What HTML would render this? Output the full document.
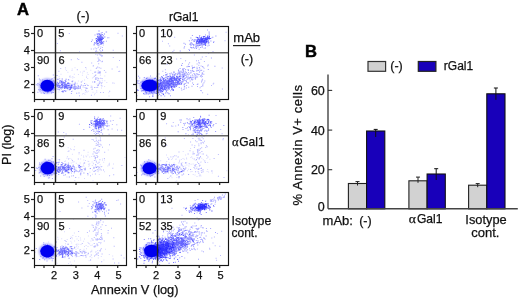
<!DOCTYPE html>
<html><head><meta charset="utf-8"><style>
html,body{margin:0;padding:0;background:#fff;width:520px;height:299px;overflow:hidden}
svg{display:block;will-change:transform}
text{font-family:"Liberation Sans", sans-serif;fill:#111;stroke:#111;stroke-width:0.25px}
.q{font-size:12px}
.n{font-size:11px}
.lb{font-size:13px}
.lab{font-size:12.5px}
.lab2{font-size:13px;letter-spacing:0.55px}
.big{font-size:16.6px;font-weight:bold;fill:#000;stroke:#000;stroke-width:0.45px}
.al{font-family:"Liberation Serif", serif}
</style></head><body>
<svg width="520" height="299" viewBox="0 0 520 299">
<defs><filter id="bl" x="-50%" y="-50%" width="200%" height="200%"><feGaussianBlur stdDeviation="0.6"/></filter><filter id="bl2" x="-50%" y="-50%" width="200%" height="200%"><feGaussianBlur stdDeviation="1.2"/></filter><filter id="dz" x="-5%" y="-5%" width="110%" height="110%"><feGaussianBlur stdDeviation="0.5"/></filter><clipPath id="c00"><rect x="34.5" y="26.5" width="92.0" height="73.0"/></clipPath><clipPath id="c01"><rect x="136.5" y="26.5" width="92.0" height="73.0"/></clipPath><clipPath id="c10"><rect x="34.5" y="109.5" width="92.0" height="73.0"/></clipPath><clipPath id="c11"><rect x="136.5" y="109.5" width="92.0" height="73.0"/></clipPath><clipPath id="c20"><rect x="34.5" y="192.5" width="92.0" height="73.0"/></clipPath><clipPath id="c21"><rect x="136.5" y="192.5" width="92.0" height="73.0"/></clipPath></defs>
<rect width="520" height="299" fill="#fff"/>
<g clip-path="url(#c00)">
<g filter="url(#dz)">
<path d="M46.0 87.9h1v1h-1zM46.2 84.5h1v1h-1zM42.6 84.9h1v1h-1zM52.9 87.6h1v1h-1zM52.5 86.8h1v1h-1zM49.3 86.6h1v1h-1zM39.0 89.4h1v1h-1zM49.8 87.9h1v1h-1zM38.8 78.5h1v1h-1zM42.9 83.8h1v1h-1zM48.8 85.6h1v1h-1zM49.9 83.1h1v1h-1zM48.8 87.5h1v1h-1zM44.0 93.0h1v1h-1zM50.1 90.8h1v1h-1zM44.2 82.7h1v1h-1zM45.6 85.4h1v1h-1zM50.5 86.8h1v1h-1zM45.1 81.8h1v1h-1zM44.7 90.9h1v1h-1zM43.3 86.8h1v1h-1zM49.4 79.5h1v1h-1zM47.5 91.3h1v1h-1zM37.2 84.4h1v1h-1zM46.8 82.4h1v1h-1zM49.8 85.5h1v1h-1zM40.0 89.3h1v1h-1zM50.6 89.8h1v1h-1zM54.5 87.3h1v1h-1zM47.9 80.3h1v1h-1zM50.4 83.2h1v1h-1zM45.0 80.5h1v1h-1zM42.5 83.6h1v1h-1zM53.7 77.3h1v1h-1zM40.0 86.8h1v1h-1zM54.5 88.2h1v1h-1zM37.8 75.2h1v1h-1zM49.1 82.7h1v1h-1zM41.7 89.9h1v1h-1zM52.8 86.5h1v1h-1zM48.5 87.6h1v1h-1zM55.3 88.4h1v1h-1zM49.9 88.1h1v1h-1zM39.5 91.2h1v1h-1zM52.1 88.0h1v1h-1zM37.4 83.1h1v1h-1zM51.5 78.2h1v1h-1zM46.4 90.1h1v1h-1zM40.7 92.6h1v1h-1zM50.1 85.2h1v1h-1zM48.9 88.5h1v1h-1zM47.9 90.6h1v1h-1zM44.0 84.1h1v1h-1zM52.5 85.9h1v1h-1zM42.9 89.8h1v1h-1zM54.6 83.9h1v1h-1zM40.4 85.2h1v1h-1zM46.6 84.5h1v1h-1zM54.3 81.5h1v1h-1zM53.6 80.5h1v1h-1zM43.4 88.5h1v1h-1zM52.9 89.4h1v1h-1zM49.0 86.4h1v1h-1zM48.1 88.2h1v1h-1zM46.4 87.0h1v1h-1zM50.2 85.8h1v1h-1zM51.1 88.2h1v1h-1zM57.4 87.2h1v1h-1zM45.2 84.2h1v1h-1zM47.2 89.7h1v1h-1zM45.6 87.4h1v1h-1zM56.5 75.0h1v1h-1zM41.7 86.8h1v1h-1zM49.3 86.8h1v1h-1zM45.1 88.6h1v1h-1zM48.7 83.6h1v1h-1zM59.5 87.3h1v1h-1zM44.5 85.4h1v1h-1zM46.2 85.5h1v1h-1zM33.7 83.8h1v1h-1zM52.3 80.9h1v1h-1zM47.0 89.8h1v1h-1zM51.6 92.1h1v1h-1zM38.8 84.3h1v1h-1zM45.6 88.4h1v1h-1zM52.8 74.5h1v1h-1zM52.7 79.7h1v1h-1zM50.7 79.5h1v1h-1zM48.2 90.8h1v1h-1zM46.6 86.6h1v1h-1zM51.3 86.4h1v1h-1zM46.9 92.2h1v1h-1zM52.5 84.6h1v1h-1zM61.0 81.0h1v1h-1zM51.9 84.7h1v1h-1zM48.0 88.8h1v1h-1zM48.4 88.5h1v1h-1zM39.7 79.5h1v1h-1zM50.4 81.8h1v1h-1zM42.2 79.6h1v1h-1zM53.6 88.9h1v1h-1zM54.7 81.9h1v1h-1zM47.3 81.0h1v1h-1zM51.1 92.5h1v1h-1zM42.8 92.4h1v1h-1zM52.2 85.1h1v1h-1zM37.4 91.7h1v1h-1zM46.8 83.3h1v1h-1zM49.3 87.5h1v1h-1zM54.8 81.5h1v1h-1zM53.0 92.0h1v1h-1zM54.6 85.0h1v1h-1zM43.6 90.1h1v1h-1zM47.9 86.3h1v1h-1zM54.4 84.7h1v1h-1zM35.8 84.2h1v1h-1zM38.0 89.2h1v1h-1zM48.9 83.2h1v1h-1zM47.3 89.3h1v1h-1zM47.7 91.4h1v1h-1z" fill="#1a1aff" fill-opacity="0.4"/>
<path d="M62.2 87.5h1v1h-1zM69.7 88.9h1v1h-1zM59.3 87.1h1v1h-1zM53.5 82.4h1v1h-1zM53.1 87.6h1v1h-1zM56.6 85.0h1v1h-1zM61.6 84.9h1v1h-1zM59.7 85.6h1v1h-1zM71.1 85.1h1v1h-1zM65.0 87.4h1v1h-1zM61.5 82.0h1v1h-1zM59.8 87.6h1v1h-1zM54.6 83.6h1v1h-1zM67.3 86.9h1v1h-1zM62.5 86.9h1v1h-1zM63.3 82.2h1v1h-1zM55.0 83.5h1v1h-1zM66.9 83.6h1v1h-1zM58.2 83.1h1v1h-1zM55.1 84.7h1v1h-1zM56.8 85.9h1v1h-1zM51.2 85.8h1v1h-1zM59.4 80.3h1v1h-1zM66.0 84.3h1v1h-1zM51.8 82.9h1v1h-1zM63.9 83.9h1v1h-1zM66.2 86.8h1v1h-1zM65.7 85.8h1v1h-1zM68.9 86.6h1v1h-1zM64.7 80.0h1v1h-1zM66.8 88.1h1v1h-1zM61.1 83.9h1v1h-1zM71.8 80.8h1v1h-1zM64.8 90.8h1v1h-1zM58.0 86.7h1v1h-1zM71.6 84.7h1v1h-1zM65.2 87.2h1v1h-1zM58.2 84.8h1v1h-1zM63.9 87.0h1v1h-1zM62.3 84.5h1v1h-1zM57.6 84.1h1v1h-1zM66.8 85.2h1v1h-1zM58.4 83.0h1v1h-1zM75.3 87.7h1v1h-1zM65.6 78.8h1v1h-1zM65.5 86.2h1v1h-1zM70.6 86.0h1v1h-1zM62.2 86.3h1v1h-1zM53.2 87.5h1v1h-1zM64.1 83.3h1v1h-1zM68.9 89.3h1v1h-1zM55.8 83.4h1v1h-1zM63.9 85.4h1v1h-1zM60.6 82.7h1v1h-1zM72.7 87.5h1v1h-1zM56.8 81.8h1v1h-1zM70.7 87.4h1v1h-1zM71.2 86.9h1v1h-1zM58.3 85.6h1v1h-1zM52.1 83.2h1v1h-1zM62.2 86.3h1v1h-1zM59.0 84.7h1v1h-1zM64.7 85.9h1v1h-1zM65.6 85.5h1v1h-1zM60.9 86.9h1v1h-1zM62.7 83.0h1v1h-1zM59.5 85.0h1v1h-1zM62.0 85.4h1v1h-1zM62.5 85.4h1v1h-1zM61.9 82.0h1v1h-1zM64.5 87.5h1v1h-1zM64.6 84.5h1v1h-1zM64.6 82.7h1v1h-1zM53.4 85.1h1v1h-1zM58.0 86.8h1v1h-1zM57.3 78.7h1v1h-1zM57.5 88.8h1v1h-1zM60.7 81.7h1v1h-1zM58.8 86.3h1v1h-1zM64.9 85.4h1v1h-1zM69.6 86.7h1v1h-1zM62.4 86.4h1v1h-1zM70.4 87.3h1v1h-1zM67.4 82.4h1v1h-1zM61.8 86.8h1v1h-1zM61.1 87.6h1v1h-1zM65.4 87.2h1v1h-1zM61.5 91.1h1v1h-1zM68.5 84.5h1v1h-1zM62.9 91.2h1v1h-1zM60.9 87.1h1v1h-1zM67.2 85.0h1v1h-1zM56.9 85.5h1v1h-1zM64.2 87.7h1v1h-1zM66.3 85.1h1v1h-1zM66.6 86.3h1v1h-1zM63.5 85.1h1v1h-1zM61.3 86.6h1v1h-1zM57.4 83.5h1v1h-1zM62.5 81.5h1v1h-1zM60.4 80.2h1v1h-1zM59.2 86.4h1v1h-1zM65.2 84.9h1v1h-1zM61.4 81.6h1v1h-1zM71.3 86.2h1v1h-1zM67.7 82.9h1v1h-1zM61.6 80.6h1v1h-1zM66.2 87.2h1v1h-1zM53.4 84.9h1v1h-1zM65.5 80.8h1v1h-1zM53.7 82.4h1v1h-1zM59.5 81.6h1v1h-1zM62.7 85.6h1v1h-1zM65.5 86.7h1v1h-1zM69.7 87.8h1v1h-1zM56.2 83.8h1v1h-1zM57.4 82.4h1v1h-1zM62.1 85.0h1v1h-1zM64.9 81.2h1v1h-1zM56.6 84.9h1v1h-1zM61.5 84.3h1v1h-1zM62.2 83.2h1v1h-1zM65.9 85.9h1v1h-1zM62.1 83.4h1v1h-1zM61.7 78.5h1v1h-1zM57.8 85.1h1v1h-1zM55.3 85.5h1v1h-1zM63.2 81.7h1v1h-1zM61.3 84.2h1v1h-1zM64.7 86.5h1v1h-1zM62.3 83.0h1v1h-1zM61.8 84.8h1v1h-1zM66.0 85.7h1v1h-1zM59.0 81.7h1v1h-1zM60.7 83.2h1v1h-1zM57.2 84.7h1v1h-1zM60.1 85.3h1v1h-1zM65.0 84.0h1v1h-1zM73.7 84.2h1v1h-1zM67.8 85.3h1v1h-1zM67.9 79.3h1v1h-1zM58.9 85.6h1v1h-1zM65.4 90.6h1v1h-1zM64.0 88.1h1v1h-1zM66.2 87.3h1v1h-1zM64.9 84.6h1v1h-1zM64.9 82.4h1v1h-1zM68.2 82.6h1v1h-1zM63.7 90.1h1v1h-1zM61.4 85.0h1v1h-1zM68.1 85.1h1v1h-1zM58.6 85.6h1v1h-1zM65.3 86.7h1v1h-1zM58.8 89.2h1v1h-1zM70.5 85.0h1v1h-1zM63.8 84.0h1v1h-1zM69.3 83.3h1v1h-1zM65.7 83.8h1v1h-1zM59.2 86.7h1v1h-1zM68.9 85.0h1v1h-1z" fill="#1a1aff" fill-opacity="0.55"/>
<path d="M69.8 88.8h1v1h-1zM74.2 87.4h1v1h-1zM85.2 89.7h1v1h-1zM70.9 92.9h1v1h-1zM74.5 88.7h1v1h-1zM70.0 86.4h1v1h-1zM62.3 91.5h1v1h-1zM84.1 83.1h1v1h-1zM64.0 82.0h1v1h-1zM82.7 85.2h1v1h-1zM74.1 85.6h1v1h-1zM73.7 83.5h1v1h-1zM74.7 82.5h1v1h-1zM74.0 87.4h1v1h-1zM77.8 85.9h1v1h-1zM68.2 86.9h1v1h-1zM71.1 90.9h1v1h-1zM79.9 86.2h1v1h-1zM71.2 84.5h1v1h-1zM67.9 85.5h1v1h-1zM76.6 87.9h1v1h-1zM78.5 92.4h1v1h-1zM69.6 86.5h1v1h-1zM94.1 81.3h1v1h-1zM70.8 87.0h1v1h-1zM75.6 87.6h1v1h-1zM72.8 87.5h1v1h-1zM74.9 88.7h1v1h-1zM61.3 84.0h1v1h-1zM74.5 83.6h1v1h-1zM67.2 88.3h1v1h-1zM70.0 88.3h1v1h-1zM79.7 87.4h1v1h-1zM78.1 86.2h1v1h-1zM64.6 86.4h1v1h-1zM77.7 85.0h1v1h-1zM73.8 88.6h1v1h-1zM68.4 88.3h1v1h-1zM87.5 84.9h1v1h-1zM75.5 86.1h1v1h-1zM85.3 87.4h1v1h-1zM80.8 84.6h1v1h-1zM74.4 86.5h1v1h-1zM62.1 90.5h1v1h-1zM80.8 81.6h1v1h-1zM79.7 86.1h1v1h-1zM77.6 87.5h1v1h-1zM64.0 85.9h1v1h-1zM84.9 84.9h1v1h-1zM67.3 82.7h1v1h-1zM66.0 87.4h1v1h-1zM86.3 87.7h1v1h-1zM76.2 92.8h1v1h-1zM70.9 84.6h1v1h-1zM78.2 88.0h1v1h-1zM67.4 83.2h1v1h-1zM76.5 87.2h1v1h-1zM65.4 85.9h1v1h-1zM70.7 87.8h1v1h-1zM73.7 86.3h1v1h-1z" fill="#1a1aff" fill-opacity="0.4"/>
<path d="M98.6 40.3h1v1h-1zM102.2 37.2h1v1h-1zM101.1 36.3h1v1h-1zM99.5 39.6h1v1h-1zM102.5 37.2h1v1h-1zM99.1 38.4h1v1h-1zM96.2 38.0h1v1h-1zM97.9 38.8h1v1h-1zM96.9 33.7h1v1h-1zM99.4 38.6h1v1h-1zM98.1 40.0h1v1h-1zM98.7 36.7h1v1h-1zM100.3 34.5h1v1h-1zM97.9 38.0h1v1h-1zM101.1 37.6h1v1h-1zM99.9 36.6h1v1h-1zM99.9 41.7h1v1h-1zM97.9 43.2h1v1h-1zM97.9 38.0h1v1h-1zM99.7 40.3h1v1h-1zM96.7 33.4h1v1h-1zM100.6 39.7h1v1h-1zM100.6 43.8h1v1h-1zM99.7 38.6h1v1h-1zM101.3 38.8h1v1h-1zM102.8 35.3h1v1h-1zM98.5 30.4h1v1h-1zM101.0 37.2h1v1h-1zM101.2 42.7h1v1h-1zM99.3 37.4h1v1h-1zM98.3 36.2h1v1h-1zM98.0 39.4h1v1h-1zM99.4 38.1h1v1h-1zM98.9 40.0h1v1h-1zM100.3 37.7h1v1h-1zM100.7 37.7h1v1h-1zM96.9 41.2h1v1h-1zM100.3 35.9h1v1h-1zM101.6 38.8h1v1h-1zM96.0 41.5h1v1h-1zM100.0 40.0h1v1h-1zM99.7 37.7h1v1h-1zM96.0 40.1h1v1h-1zM99.4 37.4h1v1h-1zM100.0 38.2h1v1h-1zM100.7 37.2h1v1h-1zM99.2 33.3h1v1h-1zM98.4 39.5h1v1h-1zM102.1 37.2h1v1h-1zM99.0 41.5h1v1h-1zM98.6 39.6h1v1h-1zM102.8 38.1h1v1h-1zM101.9 36.4h1v1h-1zM99.7 37.8h1v1h-1zM99.5 40.5h1v1h-1zM104.3 36.5h1v1h-1zM98.1 39.1h1v1h-1zM97.1 39.1h1v1h-1zM100.5 37.4h1v1h-1zM100.4 34.6h1v1h-1zM100.9 34.6h1v1h-1zM97.8 36.8h1v1h-1zM98.5 39.9h1v1h-1zM99.5 37.1h1v1h-1zM100.4 41.5h1v1h-1zM99.3 38.8h1v1h-1zM101.9 38.6h1v1h-1zM96.6 43.5h1v1h-1zM103.9 33.6h1v1h-1zM99.2 38.9h1v1h-1zM101.3 39.5h1v1h-1zM98.7 35.7h1v1h-1zM99.5 40.3h1v1h-1zM97.0 35.7h1v1h-1zM99.2 33.7h1v1h-1zM98.8 37.0h1v1h-1zM100.2 36.5h1v1h-1zM97.4 37.1h1v1h-1zM99.2 36.5h1v1h-1zM99.3 39.7h1v1h-1zM101.8 41.8h1v1h-1zM97.7 37.1h1v1h-1zM94.1 42.2h1v1h-1zM97.8 37.9h1v1h-1zM100.4 35.0h1v1h-1zM100.3 37.9h1v1h-1zM95.5 38.6h1v1h-1zM101.8 33.9h1v1h-1zM101.0 38.5h1v1h-1zM100.3 39.0h1v1h-1zM102.0 37.5h1v1h-1zM101.1 37.1h1v1h-1zM100.8 36.2h1v1h-1zM99.1 41.8h1v1h-1zM100.2 37.7h1v1h-1zM96.9 36.3h1v1h-1zM99.7 40.1h1v1h-1zM100.2 39.2h1v1h-1zM99.2 41.0h1v1h-1zM98.5 36.8h1v1h-1zM101.2 38.1h1v1h-1zM98.7 36.7h1v1h-1zM98.8 39.4h1v1h-1zM100.0 35.3h1v1h-1zM100.2 38.4h1v1h-1zM97.2 39.7h1v1h-1zM98.7 37.3h1v1h-1zM101.0 40.9h1v1h-1zM97.9 39.0h1v1h-1zM97.5 43.1h1v1h-1z" fill="#1a1aff" fill-opacity="0.6"/>
<path d="M97.4 44.7h1v1h-1zM96.9 43.3h1v1h-1zM106.1 31.6h1v1h-1zM97.6 42.3h1v1h-1zM98.7 38.2h1v1h-1zM105.9 40.8h1v1h-1zM93.7 43.5h1v1h-1zM93.5 44.5h1v1h-1zM97.2 41.0h1v1h-1zM103.0 40.9h1v1h-1zM94.5 34.6h1v1h-1zM102.8 43.1h1v1h-1zM96.4 43.5h1v1h-1zM100.6 42.8h1v1h-1zM91.8 39.4h1v1h-1zM101.9 43.1h1v1h-1zM101.8 31.9h1v1h-1zM99.5 42.2h1v1h-1zM107.2 37.2h1v1h-1zM97.9 40.6h1v1h-1zM101.8 38.9h1v1h-1zM102.7 37.7h1v1h-1zM99.9 38.7h1v1h-1zM99.5 38.1h1v1h-1zM93.9 44.3h1v1h-1zM100.0 38.5h1v1h-1zM99.6 44.0h1v1h-1zM95.9 40.1h1v1h-1zM100.7 42.3h1v1h-1zM97.9 33.1h1v1h-1zM103.0 41.6h1v1h-1zM99.0 39.5h1v1h-1zM99.8 39.0h1v1h-1zM95.7 37.9h1v1h-1zM97.1 38.4h1v1h-1zM95.3 42.7h1v1h-1zM94.8 42.8h1v1h-1zM95.8 41.7h1v1h-1zM103.4 41.2h1v1h-1zM96.7 40.7h1v1h-1zM99.5 34.4h1v1h-1zM97.1 41.1h1v1h-1zM97.5 40.8h1v1h-1zM101.3 43.2h1v1h-1zM101.9 42.6h1v1h-1zM98.1 40.4h1v1h-1zM98.1 39.4h1v1h-1zM98.4 34.5h1v1h-1zM97.9 40.4h1v1h-1zM95.9 40.4h1v1h-1zM100.6 39.9h1v1h-1zM105.6 31.4h1v1h-1zM98.3 34.1h1v1h-1zM102.1 49.8h1v1h-1zM91.0 40.9h1v1h-1zM100.7 39.4h1v1h-1zM100.8 32.6h1v1h-1zM101.7 41.8h1v1h-1zM99.1 38.4h1v1h-1zM101.0 38.8h1v1h-1z" fill="#1a1aff" fill-opacity="0.4"/>
<path d="M98.8 82.4h1v1h-1zM97.2 86.8h1v1h-1zM97.2 66.4h1v1h-1zM101.4 56.1h1v1h-1zM98.4 72.8h1v1h-1zM99.3 80.7h1v1h-1zM93.9 75.8h1v1h-1zM92.7 65.4h1v1h-1zM102.0 47.1h1v1h-1zM98.3 58.7h1v1h-1zM94.3 86.9h1v1h-1zM95.5 78.2h1v1h-1zM101.6 78.1h1v1h-1zM93.2 48.4h1v1h-1zM96.2 67.5h1v1h-1zM99.9 42.9h1v1h-1zM94.4 72.1h1v1h-1zM98.0 85.1h1v1h-1zM97.4 72.6h1v1h-1zM99.7 60.3h1v1h-1zM95.1 51.1h1v1h-1zM96.0 49.8h1v1h-1zM100.0 47.9h1v1h-1zM101.3 51.5h1v1h-1zM97.3 80.0h1v1h-1zM101.7 54.9h1v1h-1zM95.2 71.4h1v1h-1zM101.5 61.3h1v1h-1zM98.6 53.5h1v1h-1zM95.8 68.0h1v1h-1zM98.5 44.8h1v1h-1zM98.7 67.3h1v1h-1zM95.7 49.7h1v1h-1zM97.8 70.5h1v1h-1zM97.6 57.5h1v1h-1zM97.6 79.4h1v1h-1zM100.9 39.2h1v1h-1zM97.4 61.1h1v1h-1zM99.5 54.1h1v1h-1zM96.2 48.0h1v1h-1zM99.4 71.1h1v1h-1zM95.3 53.8h1v1h-1zM94.9 78.5h1v1h-1zM99.0 71.6h1v1h-1zM98.7 83.2h1v1h-1zM97.8 47.1h1v1h-1zM94.5 81.6h1v1h-1zM98.2 63.3h1v1h-1zM95.9 67.9h1v1h-1zM91.7 88.5h1v1h-1zM98.8 72.4h1v1h-1zM95.0 74.9h1v1h-1zM97.3 51.5h1v1h-1zM97.1 84.9h1v1h-1zM100.4 46.4h1v1h-1zM99.0 49.2h1v1h-1zM94.4 71.4h1v1h-1zM100.2 77.8h1v1h-1zM99.8 54.8h1v1h-1zM101.5 85.6h1v1h-1zM97.8 84.1h1v1h-1zM98.6 52.4h1v1h-1zM98.2 78.1h1v1h-1zM95.4 78.9h1v1h-1zM101.9 49.6h1v1h-1zM96.9 54.4h1v1h-1zM98.4 45.6h1v1h-1zM95.5 77.1h1v1h-1zM91.5 86.7h1v1h-1zM99.9 71.5h1v1h-1zM98.0 60.2h1v1h-1zM95.3 74.5h1v1h-1zM100.8 84.8h1v1h-1zM99.9 50.4h1v1h-1zM97.2 77.5h1v1h-1zM92.9 65.3h1v1h-1zM95.7 51.1h1v1h-1zM96.4 87.0h1v1h-1zM98.8 59.5h1v1h-1zM100.4 67.8h1v1h-1z" fill="#1a1aff" fill-opacity="0.3"/>
<path d="M101.0 87.5h1v1h-1zM71.5 69.9h1v1h-1zM70.4 76.8h1v1h-1zM68.1 85.6h1v1h-1zM84.1 79.6h1v1h-1zM81.9 80.5h1v1h-1zM82.5 86.8h1v1h-1zM92.9 76.7h1v1h-1zM58.4 91.5h1v1h-1zM81.1 89.2h1v1h-1zM56.5 79.2h1v1h-1zM79.9 71.4h1v1h-1zM72.3 86.6h1v1h-1zM94.6 92.7h1v1h-1zM67.4 71.7h1v1h-1zM86.8 88.1h1v1h-1zM82.2 72.4h1v1h-1zM90.4 87.0h1v1h-1zM87.2 78.1h1v1h-1zM83.8 87.0h1v1h-1zM71.7 68.6h1v1h-1zM84.1 84.9h1v1h-1zM79.7 87.7h1v1h-1zM71.3 80.9h1v1h-1zM75.2 85.5h1v1h-1zM101.8 79.7h1v1h-1zM108.3 92.2h1v1h-1zM90.6 85.6h1v1h-1zM104.3 80.2h1v1h-1zM77.9 74.1h1v1h-1zM86.1 90.9h1v1h-1zM87.0 84.5h1v1h-1zM76.7 82.7h1v1h-1zM59.5 88.8h1v1h-1zM73.8 73.8h1v1h-1zM69.0 75.7h1v1h-1zM91.5 88.9h1v1h-1zM60.5 88.0h1v1h-1zM91.9 77.4h1v1h-1zM58.7 76.3h1v1h-1zM70.6 83.9h1v1h-1zM74.5 67.3h1v1h-1zM82.8 70.8h1v1h-1zM92.2 73.1h1v1h-1zM69.8 75.5h1v1h-1zM71.9 90.6h1v1h-1zM91.4 85.7h1v1h-1zM84.0 70.7h1v1h-1zM72.2 77.6h1v1h-1zM65.8 85.1h1v1h-1zM69.1 76.5h1v1h-1zM64.9 67.1h1v1h-1zM87.8 90.8h1v1h-1zM81.9 74.7h1v1h-1zM41.6 82.7h1v1h-1zM96.5 83.6h1v1h-1zM92.5 91.8h1v1h-1zM95.3 78.4h1v1h-1zM94.2 86.9h1v1h-1zM58.0 78.7h1v1h-1zM59.6 80.7h1v1h-1zM87.6 74.0h1v1h-1zM50.7 90.6h1v1h-1zM84.8 91.8h1v1h-1zM61.0 88.9h1v1h-1zM108.5 95.5h1v1h-1zM76.6 83.4h1v1h-1zM77.3 88.5h1v1h-1zM94.0 82.1h1v1h-1zM60.5 86.7h1v1h-1zM72.9 85.9h1v1h-1zM83.2 92.9h1v1h-1zM95.4 78.3h1v1h-1zM84.4 93.8h1v1h-1zM72.0 84.5h1v1h-1zM96.2 90.3h1v1h-1zM86.8 72.3h1v1h-1zM61.8 83.2h1v1h-1zM84.9 99.3h1v1h-1zM67.4 89.5h1v1h-1zM90.3 69.8h1v1h-1zM68.0 82.7h1v1h-1zM72.6 80.4h1v1h-1zM86.1 75.8h1v1h-1zM86.0 77.0h1v1h-1zM71.9 85.3h1v1h-1zM71.5 83.5h1v1h-1zM101.9 81.7h1v1h-1zM77.5 86.6h1v1h-1zM74.4 89.1h1v1h-1zM61.5 85.8h1v1h-1zM72.3 75.9h1v1h-1zM104.3 75.5h1v1h-1zM104.1 86.1h1v1h-1zM99.8 74.7h1v1h-1zM96.3 91.7h1v1h-1zM77.9 80.6h1v1h-1zM113.9 82.7h1v1h-1zM73.6 77.1h1v1h-1zM85.7 83.8h1v1h-1zM82.0 93.6h1v1h-1zM74.9 84.8h1v1h-1zM99.9 74.5h1v1h-1zM94.0 94.3h1v1h-1zM60.5 73.8h1v1h-1zM65.0 68.6h1v1h-1zM85.8 68.5h1v1h-1zM86.5 91.7h1v1h-1zM56.9 79.3h1v1h-1zM52.6 87.0h1v1h-1zM69.2 79.6h1v1h-1zM80.3 85.3h1v1h-1zM74.6 81.6h1v1h-1zM71.8 82.3h1v1h-1zM63.1 81.9h1v1h-1zM52.4 78.1h1v1h-1zM106.3 82.1h1v1h-1zM61.9 83.3h1v1h-1zM65.9 69.9h1v1h-1zM69.2 86.7h1v1h-1z" fill="#1a1aff" fill-opacity="0.15"/>
<path d="M121.8 35.5h1v1h-1zM99.8 72.5h1v1h-1zM58.4 70.7h1v1h-1zM102.9 92.0h1v1h-1zM79.0 95.3h1v1h-1zM91.2 62.5h1v1h-1zM117.5 32.7h1v1h-1zM105.3 71.8h1v1h-1zM79.5 87.4h1v1h-1zM81.4 61.8h1v1h-1zM92.2 81.4h1v1h-1zM70.8 59.2h1v1h-1zM85.2 67.1h1v1h-1zM112.7 49.8h1v1h-1zM112.8 57.1h1v1h-1zM90.8 48.4h1v1h-1zM90.9 94.8h1v1h-1zM101.0 82.8h1v1h-1zM79.0 51.4h1v1h-1zM76.8 69.2h1v1h-1zM99.7 82.3h1v1h-1zM59.2 78.2h1v1h-1zM116.7 66.5h1v1h-1zM59.9 50.3h1v1h-1zM56.9 43.0h1v1h-1zM119.2 70.7h1v1h-1zM101.2 82.6h1v1h-1zM118.4 70.9h1v1h-1zM98.4 71.9h1v1h-1zM103.9 69.9h1v1h-1zM102.8 44.5h1v1h-1zM101.9 60.7h1v1h-1zM108.4 37.2h1v1h-1zM68.8 32.9h1v1h-1zM109.2 90.8h1v1h-1zM101.1 54.8h1v1h-1zM112.4 82.4h1v1h-1zM94.7 47.5h1v1h-1zM77.0 58.3h1v1h-1zM78.2 58.9h1v1h-1zM100.1 92.1h1v1h-1zM60.2 68.0h1v1h-1zM59.2 38.3h1v1h-1zM111.6 68.5h1v1h-1zM119.0 60.0h1v1h-1z" fill="#1a1aff" fill-opacity="0.3"/>
</g>
<ellipse cx="47.3" cy="85.8" rx="8.4" ry="7.4" fill="#1a1aff" fill-opacity="0.4" filter="url(#bl2)"/>
<ellipse cx="47.3" cy="85.8" rx="6.9" ry="6.0" fill="#0606f0" filter="url(#bl)"/>
</g>
<line x1="34.5" y1="52.7" x2="126.5" y2="52.7" stroke="#666" stroke-width="1.6"/>
<line x1="55.5" y1="26.5" x2="55.5" y2="99.5" stroke="#222" stroke-width="1.4"/>
<rect x="34.5" y="26.5" width="92.0" height="73.0" fill="none" stroke="#141414" stroke-width="1.15"/>
<line x1="31.0" y1="33.5" x2="34.5" y2="33.5" stroke="#222" stroke-width="1.2"/>
<line x1="31.0" y1="50.5" x2="34.5" y2="50.5" stroke="#222" stroke-width="1.2"/>
<line x1="31.0" y1="67.5" x2="34.5" y2="67.5" stroke="#222" stroke-width="1.2"/>
<line x1="31.0" y1="84.5" x2="34.5" y2="84.5" stroke="#222" stroke-width="1.2"/>
<line x1="32.0" y1="92.5" x2="34.5" y2="92.5" stroke="#222" stroke-width="1.2"/>
<line x1="34.5" y1="99.5" x2="34.5" y2="102.1" stroke="#222" stroke-width="1.2"/>
<line x1="44.0" y1="99.5" x2="44.0" y2="102.1" stroke="#222" stroke-width="1.2"/>
<line x1="53.8" y1="99.5" x2="53.8" y2="102.1" stroke="#222" stroke-width="1.2"/>
<line x1="76.0" y1="99.5" x2="76.0" y2="102.1" stroke="#222" stroke-width="1.2"/>
<line x1="97.2" y1="99.5" x2="97.2" y2="102.1" stroke="#222" stroke-width="1.2"/>
<line x1="117.7" y1="99.5" x2="117.7" y2="102.1" stroke="#222" stroke-width="1.2"/>
<text x="37.1" y="37.3" class="n">0</text>
<text x="58.3" y="37.3" class="n">5</text>
<text x="37.1" y="64.0" class="n">90</text>
<text x="58.5" y="64.0" class="n">6</text>
<text x="29.9" y="37.0" class="n" text-anchor="end">5</text>
<text x="29.9" y="54.1" class="n" text-anchor="end">4</text>
<text x="29.9" y="71.2" class="n" text-anchor="end">3</text>
<text x="29.9" y="88.3" class="n" text-anchor="end">2</text>
<g clip-path="url(#c01)">
<g filter="url(#dz)">
<path d="M155.9 85.9h1v1h-1zM136.7 80.1h1v1h-1zM156.8 84.9h1v1h-1zM146.9 86.5h1v1h-1zM146.7 83.2h1v1h-1zM150.2 86.1h1v1h-1zM159.4 85.7h1v1h-1zM161.7 93.1h1v1h-1zM160.7 90.0h1v1h-1zM150.3 86.1h1v1h-1zM148.6 82.4h1v1h-1zM149.1 82.8h1v1h-1zM160.2 87.7h1v1h-1zM146.6 77.5h1v1h-1zM149.2 83.8h1v1h-1zM142.4 80.7h1v1h-1zM134.9 87.9h1v1h-1zM149.1 96.3h1v1h-1zM149.3 84.9h1v1h-1zM158.9 86.1h1v1h-1zM150.6 83.9h1v1h-1zM145.6 91.8h1v1h-1zM156.0 92.7h1v1h-1zM147.2 85.6h1v1h-1zM143.8 89.6h1v1h-1zM140.4 87.9h1v1h-1zM156.6 91.4h1v1h-1zM143.4 90.1h1v1h-1zM144.9 82.3h1v1h-1zM140.9 90.4h1v1h-1zM160.2 83.0h1v1h-1zM144.6 84.1h1v1h-1zM165.8 89.7h1v1h-1zM146.0 78.0h1v1h-1zM145.1 90.5h1v1h-1zM161.6 84.4h1v1h-1zM145.0 83.4h1v1h-1zM137.2 89.3h1v1h-1zM142.4 90.0h1v1h-1zM138.4 80.2h1v1h-1zM151.4 82.3h1v1h-1zM154.6 85.5h1v1h-1zM141.9 88.1h1v1h-1zM155.0 77.5h1v1h-1zM161.4 87.6h1v1h-1zM154.4 77.7h1v1h-1zM144.8 84.0h1v1h-1zM156.5 79.4h1v1h-1zM143.8 77.0h1v1h-1zM147.9 87.0h1v1h-1zM138.5 83.0h1v1h-1zM152.8 92.2h1v1h-1zM153.8 84.2h1v1h-1zM141.8 81.6h1v1h-1zM145.2 86.1h1v1h-1zM149.2 92.5h1v1h-1zM151.4 81.0h1v1h-1zM159.5 89.5h1v1h-1zM150.2 82.5h1v1h-1zM137.3 81.2h1v1h-1zM155.4 82.1h1v1h-1zM140.9 86.3h1v1h-1zM151.1 88.0h1v1h-1zM153.8 91.4h1v1h-1zM144.0 89.6h1v1h-1zM143.1 88.4h1v1h-1zM150.7 86.5h1v1h-1zM155.8 85.4h1v1h-1zM156.7 89.2h1v1h-1zM150.4 83.1h1v1h-1zM144.6 83.3h1v1h-1zM148.2 85.4h1v1h-1zM168.9 88.2h1v1h-1zM154.5 81.9h1v1h-1zM144.9 84.2h1v1h-1zM150.7 81.1h1v1h-1zM160.0 83.1h1v1h-1zM156.5 75.7h1v1h-1zM149.5 86.7h1v1h-1zM150.7 88.0h1v1h-1zM151.3 86.2h1v1h-1zM137.2 82.5h1v1h-1zM134.3 88.1h1v1h-1zM151.5 84.7h1v1h-1zM144.2 83.1h1v1h-1zM161.5 92.8h1v1h-1zM149.1 90.9h1v1h-1zM139.2 77.4h1v1h-1zM146.4 81.8h1v1h-1zM145.9 86.3h1v1h-1zM169.2 82.7h1v1h-1zM149.8 86.7h1v1h-1zM149.3 89.4h1v1h-1zM161.0 80.3h1v1h-1zM150.6 84.4h1v1h-1zM151.8 79.1h1v1h-1zM138.1 75.8h1v1h-1zM152.9 86.3h1v1h-1zM150.0 75.6h1v1h-1zM147.1 82.3h1v1h-1zM140.3 81.7h1v1h-1zM154.0 87.8h1v1h-1zM149.4 87.7h1v1h-1zM145.6 85.8h1v1h-1zM149.8 87.8h1v1h-1zM149.0 84.9h1v1h-1zM148.6 82.8h1v1h-1zM164.0 87.7h1v1h-1zM152.3 95.1h1v1h-1zM158.6 79.0h1v1h-1zM154.0 89.0h1v1h-1zM161.8 91.0h1v1h-1zM154.5 80.6h1v1h-1zM143.8 86.6h1v1h-1zM152.8 81.2h1v1h-1zM147.0 83.8h1v1h-1zM149.9 86.9h1v1h-1zM147.6 80.3h1v1h-1zM157.6 92.2h1v1h-1zM148.8 89.8h1v1h-1zM152.4 88.3h1v1h-1zM152.6 82.3h1v1h-1zM153.2 89.7h1v1h-1zM143.7 93.8h1v1h-1zM163.1 93.2h1v1h-1zM162.4 88.6h1v1h-1zM147.3 83.0h1v1h-1zM144.2 86.0h1v1h-1zM149.3 88.3h1v1h-1zM136.4 95.2h1v1h-1zM164.3 85.4h1v1h-1zM153.9 87.5h1v1h-1zM151.3 84.6h1v1h-1zM148.7 82.0h1v1h-1zM150.7 85.4h1v1h-1zM151.6 81.9h1v1h-1zM149.8 85.7h1v1h-1zM153.4 81.0h1v1h-1zM152.2 89.6h1v1h-1zM153.4 84.0h1v1h-1zM146.3 84.5h1v1h-1zM154.2 92.0h1v1h-1zM148.5 82.8h1v1h-1zM151.9 86.4h1v1h-1zM143.6 82.4h1v1h-1zM148.8 88.3h1v1h-1zM141.7 81.2h1v1h-1zM152.7 80.4h1v1h-1zM150.2 87.0h1v1h-1zM148.8 81.2h1v1h-1zM149.1 84.1h1v1h-1zM151.7 82.0h1v1h-1zM156.6 78.5h1v1h-1zM148.4 85.5h1v1h-1zM155.8 82.9h1v1h-1zM153.0 83.1h1v1h-1zM154.3 92.8h1v1h-1zM146.9 87.4h1v1h-1zM143.5 89.6h1v1h-1zM157.4 85.6h1v1h-1zM142.1 87.2h1v1h-1zM157.0 90.1h1v1h-1zM154.8 77.8h1v1h-1zM145.1 91.5h1v1h-1zM141.5 90.3h1v1h-1zM161.7 88.7h1v1h-1zM156.8 84.1h1v1h-1zM141.5 85.1h1v1h-1zM148.2 85.3h1v1h-1zM154.0 84.9h1v1h-1zM150.7 87.3h1v1h-1zM149.5 93.2h1v1h-1zM152.4 85.9h1v1h-1zM148.2 82.9h1v1h-1zM158.2 86.1h1v1h-1zM142.5 83.1h1v1h-1zM148.6 83.6h1v1h-1zM156.5 80.6h1v1h-1zM152.7 86.1h1v1h-1zM141.8 85.7h1v1h-1z" fill="#1a1aff" fill-opacity="0.45"/>
<path d="M165.2 85.3h1v1h-1zM162.1 85.6h1v1h-1zM151.0 84.4h1v1h-1zM172.9 84.7h1v1h-1zM164.8 81.7h1v1h-1zM172.3 74.4h1v1h-1zM159.6 87.6h1v1h-1zM169.8 78.7h1v1h-1zM151.5 92.7h1v1h-1zM165.9 80.4h1v1h-1zM166.8 86.1h1v1h-1zM145.5 93.4h1v1h-1zM169.5 75.3h1v1h-1zM170.1 76.1h1v1h-1zM175.1 81.9h1v1h-1zM183.2 76.0h1v1h-1zM166.5 86.7h1v1h-1zM159.6 83.0h1v1h-1zM162.4 84.2h1v1h-1zM157.2 87.7h1v1h-1zM170.0 82.4h1v1h-1zM179.0 78.2h1v1h-1zM175.6 78.5h1v1h-1zM169.8 75.7h1v1h-1zM166.9 82.5h1v1h-1zM160.9 82.9h1v1h-1zM162.0 82.2h1v1h-1zM147.1 87.2h1v1h-1zM160.5 83.3h1v1h-1zM156.8 85.7h1v1h-1zM171.6 80.8h1v1h-1zM162.8 88.9h1v1h-1zM174.3 83.9h1v1h-1zM174.6 79.6h1v1h-1zM165.5 87.2h1v1h-1zM160.9 84.5h1v1h-1zM168.9 83.7h1v1h-1zM164.2 87.2h1v1h-1zM164.7 86.2h1v1h-1zM174.8 82.8h1v1h-1zM170.4 78.1h1v1h-1zM154.3 84.9h1v1h-1zM170.8 86.9h1v1h-1zM155.9 87.5h1v1h-1zM157.9 83.4h1v1h-1zM163.9 86.3h1v1h-1zM168.3 86.6h1v1h-1zM158.3 88.7h1v1h-1zM173.1 81.4h1v1h-1zM168.8 80.6h1v1h-1zM156.3 85.0h1v1h-1zM163.0 93.9h1v1h-1zM163.1 89.8h1v1h-1zM167.4 83.9h1v1h-1zM170.8 79.3h1v1h-1zM173.3 82.3h1v1h-1zM153.8 89.1h1v1h-1zM170.4 83.5h1v1h-1zM178.0 78.3h1v1h-1zM170.4 84.5h1v1h-1zM159.3 89.4h1v1h-1zM152.5 83.2h1v1h-1zM168.7 78.9h1v1h-1zM163.0 78.8h1v1h-1zM165.0 79.9h1v1h-1zM166.8 78.0h1v1h-1zM168.9 81.6h1v1h-1zM166.0 83.1h1v1h-1zM165.3 79.1h1v1h-1zM144.7 90.0h1v1h-1zM157.5 84.5h1v1h-1zM167.1 76.4h1v1h-1zM158.7 83.6h1v1h-1zM157.2 87.2h1v1h-1zM163.6 81.3h1v1h-1zM158.3 88.4h1v1h-1zM160.7 86.9h1v1h-1zM167.4 76.6h1v1h-1zM156.7 86.2h1v1h-1zM169.0 85.0h1v1h-1zM173.0 84.6h1v1h-1zM162.3 83.8h1v1h-1zM171.4 80.3h1v1h-1zM172.6 76.0h1v1h-1zM170.6 81.3h1v1h-1zM150.5 91.4h1v1h-1zM168.0 82.8h1v1h-1zM156.3 84.8h1v1h-1zM177.0 77.2h1v1h-1zM136.5 89.6h1v1h-1zM155.6 86.1h1v1h-1zM161.4 81.7h1v1h-1zM159.7 88.8h1v1h-1zM155.6 93.1h1v1h-1zM160.0 81.5h1v1h-1zM172.4 83.2h1v1h-1zM157.7 88.4h1v1h-1zM149.7 85.3h1v1h-1zM174.4 79.9h1v1h-1zM155.4 88.3h1v1h-1zM172.9 81.1h1v1h-1zM150.5 87.0h1v1h-1zM169.6 84.8h1v1h-1zM180.3 78.1h1v1h-1zM161.5 84.6h1v1h-1zM174.4 77.6h1v1h-1zM173.5 71.8h1v1h-1zM171.3 79.4h1v1h-1zM169.9 84.5h1v1h-1zM155.8 86.2h1v1h-1zM168.0 84.7h1v1h-1zM157.0 82.8h1v1h-1zM152.3 96.1h1v1h-1zM163.7 83.3h1v1h-1zM154.2 90.1h1v1h-1zM162.5 89.2h1v1h-1zM172.4 81.4h1v1h-1zM170.4 78.3h1v1h-1zM162.3 82.6h1v1h-1zM155.2 86.7h1v1h-1zM165.7 88.3h1v1h-1zM137.6 89.9h1v1h-1zM157.6 84.4h1v1h-1zM169.3 83.7h1v1h-1zM165.3 82.0h1v1h-1zM169.9 83.4h1v1h-1zM150.3 87.3h1v1h-1zM153.2 83.3h1v1h-1zM166.7 83.3h1v1h-1zM165.6 80.5h1v1h-1zM163.0 81.2h1v1h-1zM169.3 84.6h1v1h-1zM181.0 83.0h1v1h-1zM158.5 84.1h1v1h-1zM158.2 86.8h1v1h-1zM182.3 80.7h1v1h-1zM146.5 85.2h1v1h-1zM155.5 88.3h1v1h-1zM165.8 84.4h1v1h-1zM179.2 76.5h1v1h-1zM160.5 91.6h1v1h-1zM167.5 80.3h1v1h-1zM147.6 83.9h1v1h-1zM145.7 89.8h1v1h-1zM166.8 86.4h1v1h-1zM163.7 81.7h1v1h-1zM161.3 91.2h1v1h-1zM151.3 88.5h1v1h-1zM166.3 85.3h1v1h-1zM162.7 86.0h1v1h-1zM172.0 81.0h1v1h-1zM161.6 84.1h1v1h-1zM157.5 85.3h1v1h-1zM163.2 84.9h1v1h-1zM177.6 84.1h1v1h-1zM162.5 86.5h1v1h-1zM168.6 85.1h1v1h-1zM165.9 84.3h1v1h-1zM161.0 82.3h1v1h-1zM173.8 85.3h1v1h-1zM171.3 83.2h1v1h-1zM167.2 81.5h1v1h-1zM151.6 90.0h1v1h-1zM166.6 81.3h1v1h-1zM158.9 89.8h1v1h-1zM152.5 93.4h1v1h-1zM172.9 89.1h1v1h-1zM159.7 85.2h1v1h-1zM161.5 85.2h1v1h-1zM163.1 81.7h1v1h-1zM173.5 78.4h1v1h-1zM161.9 86.5h1v1h-1zM160.7 83.5h1v1h-1zM168.0 81.5h1v1h-1zM155.3 86.3h1v1h-1zM165.3 89.3h1v1h-1zM157.5 89.2h1v1h-1zM158.8 84.4h1v1h-1zM163.1 85.1h1v1h-1zM174.2 86.7h1v1h-1zM161.6 89.2h1v1h-1zM174.4 83.5h1v1h-1zM160.2 88.2h1v1h-1zM165.0 84.8h1v1h-1zM163.9 86.2h1v1h-1zM175.6 84.2h1v1h-1zM164.8 87.1h1v1h-1zM176.4 77.0h1v1h-1zM176.2 75.7h1v1h-1zM170.5 84.0h1v1h-1zM177.8 80.6h1v1h-1zM160.8 82.3h1v1h-1zM156.1 89.0h1v1h-1zM162.9 81.9h1v1h-1zM169.1 79.8h1v1h-1zM161.5 83.2h1v1h-1zM180.3 83.8h1v1h-1zM162.7 79.1h1v1h-1zM167.8 83.0h1v1h-1zM168.9 84.4h1v1h-1zM163.8 87.1h1v1h-1zM172.5 82.0h1v1h-1zM161.7 83.1h1v1h-1zM170.1 78.4h1v1h-1zM163.5 81.6h1v1h-1zM154.8 88.8h1v1h-1zM165.3 83.7h1v1h-1zM171.2 76.7h1v1h-1zM165.2 84.6h1v1h-1zM171.2 78.1h1v1h-1zM171.5 82.4h1v1h-1zM177.6 83.6h1v1h-1zM172.0 88.7h1v1h-1zM165.1 82.2h1v1h-1zM161.8 81.5h1v1h-1zM163.5 77.8h1v1h-1zM165.2 85.0h1v1h-1zM173.2 79.9h1v1h-1zM176.2 78.0h1v1h-1zM162.6 78.1h1v1h-1zM158.6 83.0h1v1h-1zM177.8 81.4h1v1h-1zM157.2 87.8h1v1h-1zM169.1 81.6h1v1h-1zM165.4 82.5h1v1h-1zM159.6 79.5h1v1h-1zM166.0 87.6h1v1h-1zM176.6 79.2h1v1h-1zM159.4 84.7h1v1h-1zM172.9 82.3h1v1h-1zM161.2 86.0h1v1h-1zM164.3 85.5h1v1h-1zM160.9 80.1h1v1h-1zM166.7 85.6h1v1h-1zM156.6 85.9h1v1h-1zM172.1 80.2h1v1h-1zM162.2 91.1h1v1h-1zM173.0 84.5h1v1h-1zM159.5 90.7h1v1h-1zM151.9 86.0h1v1h-1zM172.6 85.6h1v1h-1zM157.5 83.8h1v1h-1zM165.3 77.3h1v1h-1zM171.1 83.6h1v1h-1zM162.5 86.2h1v1h-1zM171.9 82.5h1v1h-1zM171.0 86.7h1v1h-1zM161.9 85.1h1v1h-1zM162.3 87.8h1v1h-1zM162.7 85.9h1v1h-1zM166.6 83.4h1v1h-1zM178.9 79.1h1v1h-1zM177.4 82.5h1v1h-1zM175.7 79.8h1v1h-1zM173.5 83.5h1v1h-1zM160.9 85.8h1v1h-1zM164.5 83.7h1v1h-1zM175.1 78.2h1v1h-1zM150.7 82.4h1v1h-1zM161.4 82.7h1v1h-1zM166.1 85.1h1v1h-1zM179.6 80.1h1v1h-1zM168.5 80.2h1v1h-1zM171.3 86.1h1v1h-1zM174.2 74.5h1v1h-1zM173.9 86.0h1v1h-1zM170.6 77.1h1v1h-1zM163.6 86.0h1v1h-1zM168.0 80.1h1v1h-1zM159.4 88.5h1v1h-1zM156.4 91.0h1v1h-1zM165.9 84.3h1v1h-1zM154.5 85.0h1v1h-1zM169.5 77.5h1v1h-1zM180.4 74.4h1v1h-1zM156.0 86.6h1v1h-1zM169.9 84.5h1v1h-1zM162.4 83.8h1v1h-1zM163.1 82.4h1v1h-1zM146.2 92.6h1v1h-1zM167.6 83.4h1v1h-1zM160.8 85.8h1v1h-1zM165.3 83.3h1v1h-1zM172.6 75.8h1v1h-1zM166.5 79.8h1v1h-1zM164.4 88.7h1v1h-1zM157.0 85.8h1v1h-1zM161.7 87.7h1v1h-1zM156.3 80.9h1v1h-1zM169.2 81.2h1v1h-1zM164.0 87.4h1v1h-1zM158.2 84.5h1v1h-1zM167.0 84.4h1v1h-1zM162.4 87.8h1v1h-1zM182.6 76.9h1v1h-1zM178.2 72.8h1v1h-1zM176.2 79.1h1v1h-1zM166.3 82.2h1v1h-1zM159.4 81.3h1v1h-1zM163.6 88.3h1v1h-1zM174.1 79.7h1v1h-1zM160.7 82.7h1v1h-1zM157.8 91.7h1v1h-1zM170.8 82.2h1v1h-1zM160.7 81.7h1v1h-1zM176.5 82.6h1v1h-1zM159.0 88.7h1v1h-1zM157.5 88.1h1v1h-1zM157.6 84.6h1v1h-1zM169.8 83.6h1v1h-1zM172.6 78.6h1v1h-1zM179.0 83.6h1v1h-1zM165.8 84.9h1v1h-1zM159.3 84.9h1v1h-1zM155.3 86.9h1v1h-1zM168.3 87.0h1v1h-1zM173.6 83.6h1v1h-1zM162.5 83.7h1v1h-1zM163.0 85.0h1v1h-1zM151.2 90.4h1v1h-1zM152.8 85.8h1v1h-1zM165.2 81.9h1v1h-1zM178.4 79.2h1v1h-1zM178.8 83.2h1v1h-1zM162.0 85.9h1v1h-1zM175.3 79.4h1v1h-1zM165.7 81.6h1v1h-1zM165.6 82.3h1v1h-1zM167.1 86.2h1v1h-1zM176.5 80.5h1v1h-1zM167.9 85.5h1v1h-1zM162.3 81.1h1v1h-1zM173.3 78.1h1v1h-1zM171.9 78.4h1v1h-1zM178.8 76.0h1v1h-1zM173.5 85.9h1v1h-1zM159.4 90.2h1v1h-1zM157.5 80.3h1v1h-1zM171.8 83.8h1v1h-1zM161.6 76.6h1v1h-1zM164.8 82.7h1v1h-1zM162.3 83.6h1v1h-1zM151.0 86.2h1v1h-1zM180.9 83.7h1v1h-1zM162.0 82.3h1v1h-1zM169.6 85.7h1v1h-1zM170.1 78.3h1v1h-1zM166.9 83.5h1v1h-1zM177.8 83.5h1v1h-1zM170.7 85.8h1v1h-1zM163.8 89.0h1v1h-1zM162.5 85.7h1v1h-1zM171.8 78.6h1v1h-1zM158.4 80.0h1v1h-1zM166.7 82.9h1v1h-1zM163.4 85.8h1v1h-1zM149.0 88.5h1v1h-1zM165.9 82.5h1v1h-1zM173.3 86.7h1v1h-1zM161.2 81.8h1v1h-1zM160.9 85.2h1v1h-1zM169.3 79.6h1v1h-1zM172.4 78.1h1v1h-1zM172.3 82.8h1v1h-1zM171.1 88.7h1v1h-1zM163.3 83.6h1v1h-1zM170.0 84.9h1v1h-1zM155.3 87.5h1v1h-1zM160.3 87.1h1v1h-1zM176.2 80.3h1v1h-1zM164.8 84.3h1v1h-1zM143.2 92.9h1v1h-1zM170.0 82.6h1v1h-1zM161.7 82.3h1v1h-1zM165.2 87.5h1v1h-1zM165.9 87.7h1v1h-1zM145.0 88.4h1v1h-1zM167.6 82.8h1v1h-1zM152.0 85.6h1v1h-1zM174.1 76.7h1v1h-1zM156.8 82.7h1v1h-1zM161.8 86.7h1v1h-1zM168.3 76.1h1v1h-1zM176.3 78.2h1v1h-1zM162.4 89.8h1v1h-1zM163.7 80.1h1v1h-1zM159.9 82.9h1v1h-1zM157.3 85.0h1v1h-1zM172.7 82.4h1v1h-1zM157.3 95.0h1v1h-1zM157.9 86.2h1v1h-1zM166.4 85.7h1v1h-1zM163.4 85.6h1v1h-1zM182.0 78.7h1v1h-1zM157.4 87.1h1v1h-1zM158.9 84.4h1v1h-1zM167.3 84.0h1v1h-1zM164.1 86.7h1v1h-1zM162.8 80.1h1v1h-1zM172.0 80.3h1v1h-1zM174.4 78.7h1v1h-1zM170.3 83.0h1v1h-1zM143.1 85.6h1v1h-1zM158.1 90.3h1v1h-1zM151.6 90.7h1v1h-1zM174.5 82.3h1v1h-1zM170.3 80.4h1v1h-1zM165.6 84.2h1v1h-1zM169.4 84.6h1v1h-1zM163.3 81.9h1v1h-1zM161.5 86.1h1v1h-1zM151.4 83.8h1v1h-1zM161.8 82.9h1v1h-1zM161.0 76.3h1v1h-1zM162.6 83.6h1v1h-1zM169.8 75.8h1v1h-1zM163.5 85.6h1v1h-1zM170.4 85.8h1v1h-1zM172.8 77.9h1v1h-1zM170.2 81.0h1v1h-1zM160.6 89.9h1v1h-1zM159.8 82.5h1v1h-1zM161.5 82.0h1v1h-1zM173.7 82.2h1v1h-1zM176.8 81.3h1v1h-1zM161.6 88.1h1v1h-1zM160.0 83.7h1v1h-1zM164.2 84.0h1v1h-1zM174.3 78.8h1v1h-1zM168.2 82.6h1v1h-1zM154.7 83.3h1v1h-1zM164.2 85.2h1v1h-1zM168.4 84.1h1v1h-1zM165.5 82.1h1v1h-1zM167.9 79.5h1v1h-1zM154.7 85.8h1v1h-1zM153.8 85.4h1v1h-1zM159.1 83.7h1v1h-1zM164.4 81.3h1v1h-1zM160.6 79.5h1v1h-1zM165.8 80.6h1v1h-1zM166.1 74.2h1v1h-1zM159.4 86.2h1v1h-1zM146.1 88.3h1v1h-1zM166.3 83.6h1v1h-1zM154.0 87.8h1v1h-1zM165.8 80.3h1v1h-1zM171.3 81.6h1v1h-1zM165.2 82.1h1v1h-1zM169.9 82.5h1v1h-1zM174.8 82.1h1v1h-1zM160.5 84.3h1v1h-1zM172.4 80.2h1v1h-1zM169.0 84.1h1v1h-1zM162.0 77.1h1v1h-1zM166.7 83.8h1v1h-1zM165.9 80.9h1v1h-1zM174.9 80.2h1v1h-1zM160.0 82.9h1v1h-1zM167.3 79.4h1v1h-1zM159.5 91.8h1v1h-1zM176.8 83.4h1v1h-1zM176.8 81.9h1v1h-1zM153.4 91.1h1v1h-1zM175.7 81.9h1v1h-1zM151.3 91.9h1v1h-1zM175.8 78.7h1v1h-1zM167.2 85.5h1v1h-1zM165.8 87.0h1v1h-1zM166.8 85.3h1v1h-1zM164.8 78.9h1v1h-1zM160.6 95.3h1v1h-1zM168.9 86.7h1v1h-1zM176.0 85.8h1v1h-1zM169.3 80.4h1v1h-1zM163.9 77.8h1v1h-1zM164.9 86.6h1v1h-1zM148.7 89.4h1v1h-1zM173.2 85.4h1v1h-1zM157.6 83.8h1v1h-1zM149.8 85.0h1v1h-1zM171.6 88.3h1v1h-1zM157.7 90.4h1v1h-1zM168.4 81.0h1v1h-1zM180.5 70.7h1v1h-1zM165.2 84.3h1v1h-1zM183.9 83.6h1v1h-1zM183.5 78.4h1v1h-1zM174.5 85.2h1v1h-1zM169.9 83.3h1v1h-1zM163.7 82.7h1v1h-1zM157.6 92.3h1v1h-1zM160.1 78.4h1v1h-1zM167.6 82.8h1v1h-1zM168.6 88.5h1v1h-1zM164.4 83.0h1v1h-1zM159.6 85.3h1v1h-1zM162.2 85.2h1v1h-1zM190.5 77.0h1v1h-1zM160.5 91.3h1v1h-1zM173.1 83.8h1v1h-1zM171.9 84.2h1v1h-1zM172.1 86.0h1v1h-1zM174.7 85.1h1v1h-1zM161.5 84.7h1v1h-1zM160.6 88.1h1v1h-1zM171.6 80.1h1v1h-1zM172.5 89.9h1v1h-1zM174.2 77.2h1v1h-1zM165.4 85.6h1v1h-1zM165.6 84.7h1v1h-1zM175.1 81.6h1v1h-1zM157.5 88.3h1v1h-1zM164.8 84.1h1v1h-1zM159.7 80.8h1v1h-1zM155.3 85.5h1v1h-1zM154.5 78.0h1v1h-1zM173.5 77.2h1v1h-1zM160.3 86.9h1v1h-1zM147.7 93.4h1v1h-1zM160.0 87.3h1v1h-1zM162.0 85.6h1v1h-1zM166.3 83.2h1v1h-1zM149.7 83.6h1v1h-1zM166.5 87.8h1v1h-1zM161.7 86.4h1v1h-1zM167.2 84.5h1v1h-1zM172.0 76.6h1v1h-1zM167.5 82.3h1v1h-1zM162.2 81.7h1v1h-1zM158.3 82.4h1v1h-1zM159.1 93.7h1v1h-1zM179.0 79.4h1v1h-1zM170.5 78.8h1v1h-1zM141.8 84.9h1v1h-1zM167.9 87.4h1v1h-1zM164.2 80.6h1v1h-1zM162.7 81.1h1v1h-1zM154.3 86.2h1v1h-1zM161.6 82.1h1v1h-1zM157.6 82.9h1v1h-1zM168.7 87.1h1v1h-1zM165.9 90.7h1v1h-1zM153.0 88.3h1v1h-1zM156.2 85.9h1v1h-1zM166.8 84.9h1v1h-1zM173.9 79.1h1v1h-1zM155.5 86.0h1v1h-1zM167.2 80.7h1v1h-1zM174.1 86.3h1v1h-1z" fill="#1a1aff" fill-opacity="0.6"/>
<path d="M165.5 85.0h1v1h-1zM188.1 63.7h1v1h-1zM182.3 75.5h1v1h-1zM167.3 89.8h1v1h-1zM182.0 74.2h1v1h-1zM186.6 79.0h1v1h-1zM190.0 77.3h1v1h-1zM182.8 69.9h1v1h-1zM176.1 79.8h1v1h-1zM154.0 99.3h1v1h-1zM174.4 73.7h1v1h-1zM161.0 86.0h1v1h-1zM179.8 74.4h1v1h-1zM174.3 74.7h1v1h-1zM172.1 80.0h1v1h-1zM174.7 83.5h1v1h-1zM179.2 78.7h1v1h-1zM187.3 82.3h1v1h-1zM187.5 76.2h1v1h-1zM177.2 74.1h1v1h-1zM178.0 82.3h1v1h-1zM182.3 74.6h1v1h-1zM163.1 75.1h1v1h-1zM185.9 81.4h1v1h-1zM182.1 69.1h1v1h-1zM178.6 79.5h1v1h-1zM171.0 82.9h1v1h-1zM176.8 74.1h1v1h-1zM168.3 86.6h1v1h-1zM182.8 71.6h1v1h-1zM171.0 86.0h1v1h-1zM186.5 73.6h1v1h-1zM197.5 69.7h1v1h-1zM170.9 87.2h1v1h-1zM179.1 80.0h1v1h-1zM179.1 72.3h1v1h-1zM167.1 81.3h1v1h-1zM194.1 66.8h1v1h-1zM195.8 73.2h1v1h-1zM168.8 83.3h1v1h-1zM185.1 70.7h1v1h-1zM157.8 87.8h1v1h-1zM169.1 84.2h1v1h-1zM159.3 84.4h1v1h-1zM168.9 73.3h1v1h-1zM178.2 79.3h1v1h-1zM172.2 73.8h1v1h-1zM179.6 67.9h1v1h-1zM187.3 77.8h1v1h-1zM200.5 75.2h1v1h-1zM184.9 77.4h1v1h-1zM178.4 70.7h1v1h-1zM197.5 74.3h1v1h-1zM175.3 72.9h1v1h-1zM197.7 74.2h1v1h-1zM168.7 85.6h1v1h-1zM201.2 69.8h1v1h-1zM184.1 73.8h1v1h-1zM175.6 85.4h1v1h-1zM214.4 65.8h1v1h-1zM180.6 82.0h1v1h-1zM178.5 82.4h1v1h-1zM187.7 69.1h1v1h-1zM168.6 81.4h1v1h-1zM190.1 75.6h1v1h-1zM191.6 65.6h1v1h-1zM184.8 72.4h1v1h-1zM182.2 78.7h1v1h-1zM169.5 80.2h1v1h-1zM168.3 83.5h1v1h-1zM170.3 78.4h1v1h-1zM181.7 73.4h1v1h-1zM191.9 69.7h1v1h-1zM190.3 75.5h1v1h-1zM168.8 80.5h1v1h-1zM170.7 79.0h1v1h-1zM180.9 87.7h1v1h-1zM178.8 87.0h1v1h-1zM183.0 69.2h1v1h-1zM156.5 90.1h1v1h-1zM160.1 89.0h1v1h-1zM192.5 75.4h1v1h-1zM177.8 77.1h1v1h-1zM182.8 74.9h1v1h-1zM174.0 77.8h1v1h-1zM192.1 69.7h1v1h-1zM182.5 70.2h1v1h-1zM170.2 73.5h1v1h-1zM179.6 81.7h1v1h-1zM182.9 73.8h1v1h-1zM186.5 73.3h1v1h-1zM185.1 77.4h1v1h-1zM181.9 63.0h1v1h-1zM167.7 86.6h1v1h-1zM183.4 89.1h1v1h-1zM176.9 75.7h1v1h-1zM197.8 74.3h1v1h-1zM202.1 72.5h1v1h-1zM179.6 81.9h1v1h-1zM171.1 78.4h1v1h-1zM174.0 78.6h1v1h-1zM188.1 72.0h1v1h-1zM183.1 73.7h1v1h-1zM185.1 60.2h1v1h-1zM178.5 79.2h1v1h-1zM170.6 86.9h1v1h-1zM185.2 83.0h1v1h-1zM192.2 76.9h1v1h-1zM176.9 72.7h1v1h-1zM177.3 76.1h1v1h-1zM182.4 74.2h1v1h-1zM210.9 57.4h1v1h-1zM192.4 70.5h1v1h-1zM179.5 83.1h1v1h-1zM178.3 71.4h1v1h-1zM184.6 74.9h1v1h-1zM158.4 86.7h1v1h-1zM167.7 78.0h1v1h-1zM186.3 77.1h1v1h-1zM181.3 89.5h1v1h-1zM183.9 72.8h1v1h-1zM182.9 76.0h1v1h-1zM153.6 78.4h1v1h-1zM169.1 93.3h1v1h-1zM178.0 76.9h1v1h-1zM176.1 84.6h1v1h-1zM183.9 85.9h1v1h-1zM192.1 82.6h1v1h-1zM179.9 79.8h1v1h-1zM175.5 78.4h1v1h-1zM160.6 81.5h1v1h-1zM169.0 78.0h1v1h-1zM194.2 74.0h1v1h-1zM195.4 76.9h1v1h-1zM192.3 78.9h1v1h-1zM175.4 83.9h1v1h-1zM176.0 76.1h1v1h-1zM197.4 83.5h1v1h-1zM173.0 90.0h1v1h-1zM188.0 70.0h1v1h-1zM184.1 78.3h1v1h-1zM183.9 74.2h1v1h-1zM166.6 82.8h1v1h-1zM191.3 78.0h1v1h-1zM189.7 80.4h1v1h-1zM169.7 81.2h1v1h-1zM186.0 81.1h1v1h-1zM183.1 79.5h1v1h-1zM185.8 87.4h1v1h-1zM156.7 86.0h1v1h-1zM207.8 68.9h1v1h-1zM160.8 85.4h1v1h-1zM163.7 79.8h1v1h-1zM186.1 85.1h1v1h-1zM186.7 79.0h1v1h-1zM191.9 74.5h1v1h-1zM171.0 80.4h1v1h-1zM183.7 74.8h1v1h-1zM172.6 78.4h1v1h-1zM162.3 78.4h1v1h-1zM178.9 76.1h1v1h-1zM183.5 84.3h1v1h-1zM183.7 76.2h1v1h-1zM165.8 76.8h1v1h-1zM183.0 71.7h1v1h-1zM183.2 70.5h1v1h-1zM181.8 76.6h1v1h-1zM190.6 71.6h1v1h-1zM176.9 80.2h1v1h-1zM184.2 85.7h1v1h-1zM176.7 75.9h1v1h-1zM177.9 81.1h1v1h-1zM184.3 80.0h1v1h-1zM170.0 95.3h1v1h-1zM200.4 70.1h1v1h-1zM167.7 83.1h1v1h-1zM181.0 64.8h1v1h-1zM178.0 70.1h1v1h-1zM188.0 82.6h1v1h-1zM189.0 65.9h1v1h-1zM197.1 76.5h1v1h-1zM177.5 81.4h1v1h-1zM196.4 69.8h1v1h-1zM179.3 74.8h1v1h-1zM189.1 62.2h1v1h-1zM194.1 67.1h1v1h-1zM187.6 65.8h1v1h-1zM169.3 78.2h1v1h-1zM186.5 66.2h1v1h-1zM185.9 72.0h1v1h-1zM193.4 71.0h1v1h-1zM185.5 74.7h1v1h-1zM199.3 68.6h1v1h-1zM183.8 87.5h1v1h-1zM182.6 80.6h1v1h-1zM172.9 81.4h1v1h-1zM156.1 87.0h1v1h-1zM170.8 72.6h1v1h-1zM167.2 88.8h1v1h-1zM182.4 68.3h1v1h-1zM198.9 66.9h1v1h-1zM176.9 80.2h1v1h-1zM165.2 74.0h1v1h-1zM174.6 86.3h1v1h-1zM188.0 65.9h1v1h-1zM193.6 72.9h1v1h-1zM186.0 75.8h1v1h-1zM183.2 70.9h1v1h-1zM169.4 77.6h1v1h-1zM177.6 82.0h1v1h-1zM170.2 90.2h1v1h-1zM172.6 77.1h1v1h-1zM188.9 76.9h1v1h-1zM174.9 73.5h1v1h-1zM166.8 73.5h1v1h-1zM194.9 78.4h1v1h-1zM201.7 72.6h1v1h-1zM185.5 79.9h1v1h-1zM190.3 72.4h1v1h-1zM188.2 86.8h1v1h-1zM159.6 77.2h1v1h-1zM171.4 85.1h1v1h-1zM192.8 71.1h1v1h-1zM187.7 74.6h1v1h-1zM182.8 73.6h1v1h-1zM180.2 77.6h1v1h-1zM196.8 84.1h1v1h-1zM161.8 87.3h1v1h-1zM182.2 82.3h1v1h-1zM193.4 77.2h1v1h-1zM187.6 69.6h1v1h-1zM165.0 92.6h1v1h-1zM191.9 68.0h1v1h-1zM195.7 75.7h1v1h-1zM155.5 91.7h1v1h-1zM171.9 87.2h1v1h-1zM171.8 76.5h1v1h-1zM163.3 82.5h1v1h-1zM190.3 70.1h1v1h-1zM164.2 95.5h1v1h-1zM201.8 73.6h1v1h-1zM172.5 73.6h1v1h-1zM163.7 86.8h1v1h-1zM192.7 67.1h1v1h-1zM180.0 76.1h1v1h-1zM178.6 81.0h1v1h-1zM202.1 66.0h1v1h-1zM191.7 79.6h1v1h-1zM177.1 77.9h1v1h-1zM167.9 88.2h1v1h-1zM173.5 76.3h1v1h-1zM179.7 73.0h1v1h-1zM168.6 80.2h1v1h-1zM196.3 70.6h1v1h-1zM183.6 68.1h1v1h-1zM162.6 94.3h1v1h-1zM173.4 71.4h1v1h-1zM180.5 80.9h1v1h-1zM160.1 80.0h1v1h-1zM181.6 71.9h1v1h-1zM190.9 79.1h1v1h-1zM184.5 73.6h1v1h-1zM178.8 74.5h1v1h-1zM179.7 79.6h1v1h-1zM179.0 83.5h1v1h-1zM207.7 64.5h1v1h-1zM185.7 80.2h1v1h-1zM187.1 73.8h1v1h-1zM177.1 84.4h1v1h-1zM188.2 77.5h1v1h-1zM172.9 83.8h1v1h-1zM188.8 73.4h1v1h-1zM191.5 85.8h1v1h-1zM161.2 88.0h1v1h-1zM165.3 75.3h1v1h-1zM178.9 81.2h1v1h-1zM178.9 71.5h1v1h-1zM163.8 80.4h1v1h-1zM179.1 73.3h1v1h-1zM167.3 92.2h1v1h-1zM171.1 80.1h1v1h-1zM173.5 76.8h1v1h-1zM180.4 75.9h1v1h-1zM185.1 69.1h1v1h-1zM167.9 93.2h1v1h-1zM181.1 81.6h1v1h-1zM194.4 75.6h1v1h-1zM178.1 69.6h1v1h-1zM164.8 88.8h1v1h-1zM188.9 77.7h1v1h-1zM158.5 73.4h1v1h-1zM166.8 75.8h1v1h-1zM180.4 71.8h1v1h-1zM196.6 68.1h1v1h-1zM175.9 84.1h1v1h-1zM182.4 71.7h1v1h-1zM193.0 83.9h1v1h-1zM166.6 81.2h1v1h-1zM165.2 72.1h1v1h-1zM188.6 78.5h1v1h-1z" fill="#1a1aff" fill-opacity="0.4"/>
<path d="M205.9 39.6h1v1h-1zM196.1 42.3h1v1h-1zM199.6 38.7h1v1h-1zM199.5 42.6h1v1h-1zM202.8 43.8h1v1h-1zM202.8 36.1h1v1h-1zM206.1 41.1h1v1h-1zM201.8 37.9h1v1h-1zM207.3 35.7h1v1h-1zM201.0 36.8h1v1h-1zM197.4 38.5h1v1h-1zM206.7 40.8h1v1h-1zM200.3 38.1h1v1h-1zM202.5 40.7h1v1h-1zM196.9 39.8h1v1h-1zM202.6 41.3h1v1h-1zM203.0 40.7h1v1h-1zM196.9 37.1h1v1h-1zM202.9 38.0h1v1h-1zM201.9 39.5h1v1h-1zM203.6 38.1h1v1h-1zM207.2 38.4h1v1h-1zM204.6 40.5h1v1h-1zM206.1 39.5h1v1h-1zM196.5 41.0h1v1h-1zM208.8 38.6h1v1h-1zM204.6 40.2h1v1h-1zM200.0 39.6h1v1h-1zM201.2 42.8h1v1h-1zM204.8 42.7h1v1h-1zM205.3 42.7h1v1h-1zM203.2 37.4h1v1h-1zM208.3 38.5h1v1h-1zM206.5 39.0h1v1h-1zM201.6 40.7h1v1h-1zM198.1 39.2h1v1h-1zM199.3 40.1h1v1h-1zM198.1 41.4h1v1h-1zM204.8 43.2h1v1h-1zM208.4 37.7h1v1h-1zM205.2 38.6h1v1h-1zM203.7 39.5h1v1h-1zM200.8 40.8h1v1h-1zM198.0 42.5h1v1h-1zM200.9 38.4h1v1h-1zM201.7 41.4h1v1h-1zM200.6 41.6h1v1h-1zM205.3 42.1h1v1h-1zM198.9 41.1h1v1h-1zM205.1 42.0h1v1h-1zM203.8 41.0h1v1h-1zM197.4 40.7h1v1h-1zM207.7 37.5h1v1h-1zM209.0 36.2h1v1h-1zM200.6 37.5h1v1h-1zM204.7 39.7h1v1h-1zM209.1 37.9h1v1h-1zM200.8 37.8h1v1h-1zM202.8 41.8h1v1h-1zM205.7 41.3h1v1h-1zM205.3 38.9h1v1h-1zM204.6 39.6h1v1h-1zM199.3 44.6h1v1h-1zM203.0 37.7h1v1h-1zM203.9 40.1h1v1h-1zM206.7 41.4h1v1h-1zM193.0 44.6h1v1h-1zM206.9 36.5h1v1h-1zM196.6 42.7h1v1h-1zM203.8 40.2h1v1h-1zM198.6 40.5h1v1h-1zM203.6 41.1h1v1h-1zM209.8 37.9h1v1h-1zM199.0 36.5h1v1h-1zM205.9 38.5h1v1h-1zM201.5 38.4h1v1h-1zM203.7 36.0h1v1h-1zM202.9 40.1h1v1h-1zM204.3 42.0h1v1h-1zM202.2 40.3h1v1h-1zM204.3 36.2h1v1h-1zM201.6 40.5h1v1h-1zM205.1 37.4h1v1h-1zM205.4 39.7h1v1h-1zM196.7 39.2h1v1h-1zM197.9 42.0h1v1h-1zM203.6 41.0h1v1h-1zM204.8 38.0h1v1h-1zM206.5 40.2h1v1h-1zM204.4 40.3h1v1h-1zM198.5 42.2h1v1h-1zM198.4 39.1h1v1h-1zM201.4 40.7h1v1h-1zM202.1 39.5h1v1h-1zM199.4 41.5h1v1h-1zM199.2 38.4h1v1h-1zM203.7 42.5h1v1h-1zM200.5 38.6h1v1h-1zM208.1 41.4h1v1h-1zM201.4 40.0h1v1h-1zM205.1 45.0h1v1h-1zM203.6 41.6h1v1h-1zM202.8 36.2h1v1h-1zM198.1 39.1h1v1h-1zM204.0 39.7h1v1h-1zM208.2 37.4h1v1h-1zM203.6 39.8h1v1h-1zM204.5 44.0h1v1h-1zM204.4 42.3h1v1h-1zM206.4 37.4h1v1h-1zM204.5 38.5h1v1h-1zM203.0 40.1h1v1h-1zM202.3 39.1h1v1h-1zM207.4 37.7h1v1h-1zM205.9 42.1h1v1h-1zM205.2 41.1h1v1h-1zM207.8 40.3h1v1h-1zM207.2 35.4h1v1h-1zM208.9 37.7h1v1h-1zM196.4 41.0h1v1h-1zM197.9 41.6h1v1h-1zM197.0 40.0h1v1h-1zM203.6 39.9h1v1h-1zM199.7 40.5h1v1h-1zM202.2 40.3h1v1h-1zM202.3 39.6h1v1h-1zM204.3 36.1h1v1h-1zM201.0 40.8h1v1h-1zM200.8 39.5h1v1h-1zM201.2 40.9h1v1h-1z" fill="#1a1aff" fill-opacity="0.7"/>
<path d="M207.3 37.6h1v1h-1zM198.2 43.2h1v1h-1zM195.7 36.8h1v1h-1zM200.8 39.7h1v1h-1zM196.5 44.8h1v1h-1zM199.1 39.8h1v1h-1zM183.5 42.7h1v1h-1zM199.5 41.1h1v1h-1zM202.6 40.9h1v1h-1zM194.9 39.3h1v1h-1zM192.3 44.1h1v1h-1zM193.0 46.7h1v1h-1zM188.9 40.2h1v1h-1zM196.2 37.1h1v1h-1zM208.8 34.3h1v1h-1zM198.9 41.0h1v1h-1zM192.2 38.9h1v1h-1zM188.5 49.0h1v1h-1zM208.6 44.7h1v1h-1zM190.7 47.0h1v1h-1zM200.4 43.9h1v1h-1zM197.0 44.9h1v1h-1zM206.0 40.7h1v1h-1zM208.6 37.1h1v1h-1zM208.6 35.4h1v1h-1zM207.0 29.4h1v1h-1zM198.7 39.3h1v1h-1zM200.7 44.3h1v1h-1zM204.2 39.8h1v1h-1zM208.7 32.8h1v1h-1zM196.0 47.9h1v1h-1zM199.2 34.9h1v1h-1zM200.3 37.3h1v1h-1zM210.4 40.6h1v1h-1zM197.5 46.6h1v1h-1zM195.2 46.3h1v1h-1zM203.1 39.6h1v1h-1zM190.0 44.6h1v1h-1zM184.1 46.2h1v1h-1zM189.0 49.9h1v1h-1zM190.4 37.4h1v1h-1zM203.7 40.9h1v1h-1zM198.7 48.7h1v1h-1zM204.6 39.6h1v1h-1zM191.9 35.1h1v1h-1zM203.7 42.8h1v1h-1zM194.0 39.2h1v1h-1zM197.3 37.0h1v1h-1zM200.4 43.6h1v1h-1zM209.5 38.1h1v1h-1zM201.6 43.0h1v1h-1zM208.2 36.8h1v1h-1zM190.7 42.7h1v1h-1zM190.3 42.5h1v1h-1zM199.1 42.8h1v1h-1zM200.6 41.3h1v1h-1zM197.7 43.6h1v1h-1zM206.1 41.2h1v1h-1zM208.8 36.6h1v1h-1zM199.9 46.9h1v1h-1zM201.3 42.1h1v1h-1zM198.5 45.1h1v1h-1zM195.7 39.8h1v1h-1zM198.6 40.4h1v1h-1zM204.4 38.2h1v1h-1zM200.0 40.6h1v1h-1zM201.0 38.8h1v1h-1zM205.0 34.6h1v1h-1zM196.2 40.6h1v1h-1zM203.7 39.8h1v1h-1zM202.2 39.3h1v1h-1zM193.6 40.4h1v1h-1zM196.7 40.9h1v1h-1zM201.7 41.7h1v1h-1zM205.7 38.5h1v1h-1zM193.4 40.6h1v1h-1zM200.3 42.3h1v1h-1zM212.3 36.7h1v1h-1zM213.0 41.9h1v1h-1zM194.2 47.7h1v1h-1zM208.4 42.1h1v1h-1zM200.6 44.2h1v1h-1zM196.3 42.6h1v1h-1zM201.7 46.4h1v1h-1zM199.2 44.7h1v1h-1zM199.1 39.4h1v1h-1zM201.8 42.7h1v1h-1zM195.7 45.2h1v1h-1zM193.9 41.0h1v1h-1zM200.6 40.2h1v1h-1zM191.3 39.7h1v1h-1zM199.9 42.1h1v1h-1zM196.8 43.3h1v1h-1zM190.1 46.7h1v1h-1zM202.5 41.1h1v1h-1zM195.6 43.4h1v1h-1zM201.6 44.1h1v1h-1zM201.6 41.4h1v1h-1zM195.8 45.9h1v1h-1zM206.5 36.9h1v1h-1zM204.0 40.6h1v1h-1zM197.7 38.1h1v1h-1zM208.6 31.6h1v1h-1zM201.0 39.6h1v1h-1zM206.4 37.2h1v1h-1zM200.5 43.1h1v1h-1zM201.8 38.8h1v1h-1zM204.3 40.7h1v1h-1zM205.3 37.4h1v1h-1zM198.7 40.5h1v1h-1zM194.4 44.5h1v1h-1zM203.8 44.3h1v1h-1zM197.9 43.5h1v1h-1zM206.7 38.1h1v1h-1zM200.1 41.7h1v1h-1zM193.9 40.7h1v1h-1zM206.9 38.9h1v1h-1zM197.6 38.3h1v1h-1zM201.6 44.4h1v1h-1zM191.1 42.2h1v1h-1zM208.3 42.4h1v1h-1zM208.8 35.8h1v1h-1zM202.5 37.8h1v1h-1zM202.4 39.1h1v1h-1zM202.3 44.7h1v1h-1zM201.4 39.9h1v1h-1zM200.2 42.1h1v1h-1zM196.4 43.5h1v1h-1zM205.2 44.2h1v1h-1zM184.9 43.8h1v1h-1zM192.6 47.3h1v1h-1zM215.4 35.4h1v1h-1zM201.6 44.3h1v1h-1zM183.6 47.6h1v1h-1zM179.7 50.4h1v1h-1zM195.7 41.5h1v1h-1zM201.0 39.0h1v1h-1zM206.6 38.5h1v1h-1zM204.9 47.4h1v1h-1zM197.7 45.3h1v1h-1zM195.7 47.2h1v1h-1zM205.8 39.3h1v1h-1zM207.7 43.2h1v1h-1zM208.3 37.8h1v1h-1zM200.4 44.7h1v1h-1zM189.4 43.8h1v1h-1zM203.3 41.7h1v1h-1zM213.4 41.3h1v1h-1zM202.1 41.8h1v1h-1zM190.9 44.6h1v1h-1z" fill="#1a1aff" fill-opacity="0.45"/>
<path d="M202.3 85.6h1v1h-1zM196.0 60.2h1v1h-1zM202.7 66.7h1v1h-1zM202.5 83.4h1v1h-1zM199.6 87.2h1v1h-1zM200.8 86.1h1v1h-1zM197.2 73.4h1v1h-1zM197.0 86.1h1v1h-1zM201.7 79.6h1v1h-1zM201.2 74.4h1v1h-1zM195.2 74.8h1v1h-1zM202.2 84.8h1v1h-1zM201.8 56.6h1v1h-1zM198.0 60.2h1v1h-1zM196.5 66.8h1v1h-1zM204.3 80.4h1v1h-1zM195.3 77.3h1v1h-1zM203.5 82.3h1v1h-1zM198.8 74.0h1v1h-1zM203.9 60.9h1v1h-1zM192.1 67.1h1v1h-1zM192.5 67.3h1v1h-1zM200.8 90.2h1v1h-1zM196.6 63.6h1v1h-1zM199.1 62.6h1v1h-1zM200.6 65.4h1v1h-1zM198.3 70.1h1v1h-1zM203.3 73.7h1v1h-1zM198.3 64.8h1v1h-1zM198.3 62.2h1v1h-1zM201.4 80.6h1v1h-1zM201.0 81.6h1v1h-1zM196.7 73.5h1v1h-1zM202.1 92.2h1v1h-1zM198.9 71.7h1v1h-1zM203.3 70.8h1v1h-1zM199.8 75.8h1v1h-1zM199.2 71.3h1v1h-1zM200.5 58.8h1v1h-1zM202.1 78.8h1v1h-1z" fill="#1a1aff" fill-opacity="0.35"/>
<path d="M176.5 77.4h1v1h-1zM225.6 31.8h1v1h-1zM166.3 92.2h1v1h-1zM224.5 40.3h1v1h-1zM181.3 65.0h1v1h-1zM180.3 58.0h1v1h-1zM191.1 47.6h1v1h-1zM162.2 36.0h1v1h-1zM169.5 36.5h1v1h-1zM200.9 76.5h1v1h-1zM176.4 82.8h1v1h-1zM208.1 53.1h1v1h-1zM191.9 42.9h1v1h-1zM221.7 67.5h1v1h-1zM162.0 40.7h1v1h-1zM205.6 55.9h1v1h-1zM207.3 45.6h1v1h-1zM212.7 83.4h1v1h-1zM164.9 69.2h1v1h-1zM171.5 77.2h1v1h-1zM213.2 82.7h1v1h-1zM174.2 36.7h1v1h-1zM203.6 67.8h1v1h-1zM167.9 43.2h1v1h-1zM198.1 37.6h1v1h-1zM201.6 46.4h1v1h-1zM176.1 58.4h1v1h-1zM194.8 78.3h1v1h-1zM160.6 78.3h1v1h-1zM173.5 49.7h1v1h-1zM202.0 76.1h1v1h-1zM200.3 90.0h1v1h-1zM172.4 51.0h1v1h-1zM203.6 47.7h1v1h-1zM169.2 45.4h1v1h-1zM211.0 85.1h1v1h-1zM207.2 93.8h1v1h-1zM212.5 50.9h1v1h-1zM180.0 78.1h1v1h-1zM162.3 70.7h1v1h-1zM164.6 33.7h1v1h-1zM193.4 40.5h1v1h-1zM221.9 88.4h1v1h-1zM189.9 43.5h1v1h-1zM166.6 63.9h1v1h-1zM193.9 54.4h1v1h-1zM207.2 65.4h1v1h-1zM211.2 37.5h1v1h-1zM163.3 56.0h1v1h-1zM191.4 47.2h1v1h-1z" fill="#1a1aff" fill-opacity="0.3"/>
</g>
<ellipse cx="149.7" cy="85.5" rx="9.8" ry="7.4" fill="#1a1aff" fill-opacity="0.4" filter="url(#bl2)"/>
<ellipse cx="149.7" cy="85.5" rx="8.3" ry="6.0" fill="#0606f0" filter="url(#bl)"/>
</g>
<line x1="136.5" y1="52.7" x2="228.5" y2="52.7" stroke="#666" stroke-width="1.6"/>
<line x1="157.5" y1="26.5" x2="157.5" y2="99.5" stroke="#222" stroke-width="1.4"/>
<rect x="136.5" y="26.5" width="92.0" height="73.0" fill="none" stroke="#141414" stroke-width="1.15"/>
<line x1="133.0" y1="33.5" x2="136.5" y2="33.5" stroke="#222" stroke-width="1.2"/>
<line x1="133.0" y1="50.5" x2="136.5" y2="50.5" stroke="#222" stroke-width="1.2"/>
<line x1="133.0" y1="67.5" x2="136.5" y2="67.5" stroke="#222" stroke-width="1.2"/>
<line x1="133.0" y1="84.5" x2="136.5" y2="84.5" stroke="#222" stroke-width="1.2"/>
<line x1="134.0" y1="92.5" x2="136.5" y2="92.5" stroke="#222" stroke-width="1.2"/>
<line x1="136.5" y1="99.5" x2="136.5" y2="102.1" stroke="#222" stroke-width="1.2"/>
<line x1="146.0" y1="99.5" x2="146.0" y2="102.1" stroke="#222" stroke-width="1.2"/>
<line x1="155.8" y1="99.5" x2="155.8" y2="102.1" stroke="#222" stroke-width="1.2"/>
<line x1="178.0" y1="99.5" x2="178.0" y2="102.1" stroke="#222" stroke-width="1.2"/>
<line x1="199.2" y1="99.5" x2="199.2" y2="102.1" stroke="#222" stroke-width="1.2"/>
<line x1="219.7" y1="99.5" x2="219.7" y2="102.1" stroke="#222" stroke-width="1.2"/>
<text x="139.1" y="37.3" class="n">0</text>
<text x="160.3" y="37.3" class="n">10</text>
<text x="139.1" y="64.0" class="n">66</text>
<text x="160.5" y="64.0" class="n">23</text>
<g clip-path="url(#c10)">
<g filter="url(#dz)">
<path d="M45.8 165.5h1v1h-1zM45.1 172.4h1v1h-1zM45.5 161.1h1v1h-1zM43.7 171.4h1v1h-1zM58.0 163.8h1v1h-1zM45.8 166.8h1v1h-1zM40.7 169.7h1v1h-1zM47.3 169.2h1v1h-1zM58.4 167.0h1v1h-1zM51.4 171.5h1v1h-1zM44.4 165.7h1v1h-1zM55.1 171.0h1v1h-1zM48.2 163.6h1v1h-1zM51.8 170.3h1v1h-1zM58.2 174.1h1v1h-1zM51.4 169.2h1v1h-1zM47.8 165.9h1v1h-1zM49.0 169.1h1v1h-1zM50.7 172.5h1v1h-1zM49.0 165.9h1v1h-1zM51.4 174.4h1v1h-1zM43.4 169.8h1v1h-1zM50.2 170.3h1v1h-1zM50.0 167.7h1v1h-1zM47.0 175.0h1v1h-1zM55.9 162.4h1v1h-1zM35.2 169.9h1v1h-1zM44.2 166.0h1v1h-1zM39.8 169.5h1v1h-1zM47.2 165.9h1v1h-1zM51.9 178.0h1v1h-1zM54.7 172.9h1v1h-1zM45.5 170.8h1v1h-1zM47.3 172.8h1v1h-1zM50.3 168.0h1v1h-1zM50.2 165.2h1v1h-1zM51.4 174.2h1v1h-1zM45.7 170.4h1v1h-1zM39.4 171.9h1v1h-1zM51.8 163.9h1v1h-1zM56.0 168.6h1v1h-1zM39.1 162.5h1v1h-1zM51.7 167.0h1v1h-1zM52.9 161.8h1v1h-1zM47.0 172.1h1v1h-1zM44.2 170.9h1v1h-1zM45.8 169.5h1v1h-1zM49.1 177.2h1v1h-1zM41.5 171.3h1v1h-1zM53.9 163.5h1v1h-1zM47.9 177.5h1v1h-1zM52.6 156.0h1v1h-1zM46.3 161.1h1v1h-1zM49.0 165.1h1v1h-1zM44.8 164.7h1v1h-1zM48.9 166.2h1v1h-1zM43.1 167.2h1v1h-1zM49.5 164.6h1v1h-1zM52.9 161.3h1v1h-1zM49.5 166.5h1v1h-1zM55.1 165.5h1v1h-1zM44.3 162.6h1v1h-1zM57.1 170.6h1v1h-1zM42.2 166.7h1v1h-1zM42.8 174.3h1v1h-1zM49.5 159.8h1v1h-1zM48.5 171.8h1v1h-1zM47.5 170.0h1v1h-1zM47.0 169.0h1v1h-1zM48.5 165.2h1v1h-1zM49.2 168.8h1v1h-1zM47.3 165.3h1v1h-1zM42.6 169.1h1v1h-1zM51.5 158.2h1v1h-1zM44.9 173.6h1v1h-1zM51.9 165.2h1v1h-1zM54.1 164.1h1v1h-1zM43.7 176.0h1v1h-1zM45.4 167.2h1v1h-1zM39.5 164.0h1v1h-1zM41.8 167.5h1v1h-1zM38.6 172.4h1v1h-1zM45.8 165.6h1v1h-1zM44.4 171.1h1v1h-1zM55.0 166.4h1v1h-1zM55.3 174.7h1v1h-1zM54.0 169.3h1v1h-1zM40.3 170.9h1v1h-1zM45.5 168.9h1v1h-1zM38.3 166.9h1v1h-1zM48.6 164.3h1v1h-1zM48.9 174.9h1v1h-1zM48.6 165.3h1v1h-1zM59.1 159.3h1v1h-1zM43.0 169.8h1v1h-1zM44.6 158.7h1v1h-1zM48.8 171.5h1v1h-1zM43.6 174.1h1v1h-1zM49.9 173.0h1v1h-1zM40.1 168.1h1v1h-1zM55.3 176.3h1v1h-1zM53.9 168.1h1v1h-1zM48.4 165.5h1v1h-1zM52.8 165.3h1v1h-1zM48.1 159.7h1v1h-1zM40.2 175.4h1v1h-1zM47.8 169.0h1v1h-1zM36.8 168.0h1v1h-1zM57.6 162.0h1v1h-1zM35.9 167.4h1v1h-1zM44.9 167.2h1v1h-1zM41.4 162.5h1v1h-1zM41.5 170.7h1v1h-1zM47.3 171.5h1v1h-1zM42.2 170.5h1v1h-1zM45.3 168.5h1v1h-1zM52.1 168.2h1v1h-1zM45.8 161.3h1v1h-1zM47.8 171.3h1v1h-1zM44.4 167.8h1v1h-1z" fill="#1a1aff" fill-opacity="0.4"/>
<path d="M53.9 164.7h1v1h-1zM64.5 171.2h1v1h-1zM61.0 163.9h1v1h-1zM60.6 164.2h1v1h-1zM61.2 172.7h1v1h-1zM64.0 167.6h1v1h-1zM67.6 167.1h1v1h-1zM64.1 168.5h1v1h-1zM64.7 164.4h1v1h-1zM66.0 170.2h1v1h-1zM51.3 161.4h1v1h-1zM58.1 171.7h1v1h-1zM62.6 169.7h1v1h-1zM65.2 170.2h1v1h-1zM59.4 166.6h1v1h-1zM64.3 169.5h1v1h-1zM65.3 168.8h1v1h-1zM60.1 170.7h1v1h-1zM64.8 170.6h1v1h-1zM50.0 170.5h1v1h-1zM50.5 168.5h1v1h-1zM59.2 168.3h1v1h-1zM60.2 167.2h1v1h-1zM63.4 168.9h1v1h-1zM58.6 161.8h1v1h-1zM58.7 169.3h1v1h-1zM58.3 169.1h1v1h-1zM60.7 165.7h1v1h-1zM68.3 172.1h1v1h-1zM62.0 167.9h1v1h-1zM67.2 164.7h1v1h-1zM58.2 170.8h1v1h-1zM66.9 166.8h1v1h-1zM58.7 168.9h1v1h-1zM55.6 166.8h1v1h-1zM61.4 161.9h1v1h-1zM65.4 169.9h1v1h-1zM67.8 164.4h1v1h-1zM56.2 166.0h1v1h-1zM56.0 173.1h1v1h-1zM57.7 167.2h1v1h-1zM63.5 169.1h1v1h-1zM69.7 165.3h1v1h-1zM66.9 168.4h1v1h-1zM56.7 168.4h1v1h-1zM55.6 172.0h1v1h-1zM58.9 170.5h1v1h-1zM68.9 166.5h1v1h-1zM58.1 168.3h1v1h-1zM57.3 170.2h1v1h-1zM63.4 166.1h1v1h-1zM59.1 169.8h1v1h-1zM55.3 172.2h1v1h-1zM58.6 167.5h1v1h-1zM57.9 172.0h1v1h-1zM66.6 171.2h1v1h-1zM65.7 168.2h1v1h-1zM70.9 169.7h1v1h-1zM64.7 169.4h1v1h-1zM66.2 168.7h1v1h-1zM61.7 164.0h1v1h-1zM72.7 164.8h1v1h-1zM51.8 166.2h1v1h-1zM72.1 171.0h1v1h-1zM59.5 168.7h1v1h-1zM62.4 163.1h1v1h-1zM60.8 168.7h1v1h-1zM68.3 165.0h1v1h-1zM51.3 164.1h1v1h-1zM64.1 168.2h1v1h-1zM63.2 168.4h1v1h-1zM60.7 164.6h1v1h-1zM64.8 169.0h1v1h-1zM65.4 171.1h1v1h-1zM56.3 162.2h1v1h-1zM53.6 173.3h1v1h-1zM57.9 169.0h1v1h-1zM62.4 169.8h1v1h-1zM78.5 166.7h1v1h-1zM61.7 166.5h1v1h-1zM63.7 169.3h1v1h-1zM57.7 171.3h1v1h-1zM68.2 169.1h1v1h-1zM61.9 167.4h1v1h-1zM54.3 169.6h1v1h-1zM57.6 166.7h1v1h-1zM67.5 165.7h1v1h-1zM59.9 170.1h1v1h-1zM71.8 166.3h1v1h-1zM68.0 166.4h1v1h-1zM64.4 169.2h1v1h-1zM56.8 170.6h1v1h-1zM71.5 168.1h1v1h-1zM63.8 165.1h1v1h-1zM71.4 168.2h1v1h-1zM56.1 169.9h1v1h-1zM55.2 166.3h1v1h-1zM51.8 171.4h1v1h-1zM73.6 166.4h1v1h-1zM59.2 166.6h1v1h-1zM59.7 169.4h1v1h-1zM69.8 165.5h1v1h-1zM64.7 163.5h1v1h-1zM70.1 167.8h1v1h-1zM59.0 171.8h1v1h-1zM62.0 171.4h1v1h-1zM67.9 172.1h1v1h-1zM58.5 168.1h1v1h-1zM64.3 167.5h1v1h-1zM70.1 166.2h1v1h-1zM67.5 171.4h1v1h-1zM52.7 165.6h1v1h-1zM58.0 166.6h1v1h-1zM64.5 167.6h1v1h-1zM62.9 166.9h1v1h-1zM62.1 169.2h1v1h-1zM66.2 166.0h1v1h-1zM61.9 166.1h1v1h-1zM61.6 164.4h1v1h-1zM67.3 169.7h1v1h-1zM61.9 166.3h1v1h-1zM60.2 166.3h1v1h-1zM54.8 172.1h1v1h-1zM78.9 164.9h1v1h-1zM56.7 169.4h1v1h-1zM65.5 164.1h1v1h-1zM52.9 169.4h1v1h-1zM52.5 171.6h1v1h-1zM60.0 168.2h1v1h-1zM62.5 166.6h1v1h-1zM61.8 167.3h1v1h-1zM68.7 167.8h1v1h-1zM62.3 166.7h1v1h-1zM59.3 166.2h1v1h-1zM62.6 172.6h1v1h-1zM68.1 168.6h1v1h-1zM70.8 170.5h1v1h-1zM63.5 167.6h1v1h-1zM57.0 168.6h1v1h-1zM60.9 164.0h1v1h-1zM56.1 172.8h1v1h-1zM63.6 169.2h1v1h-1zM63.5 166.8h1v1h-1zM64.8 170.7h1v1h-1zM61.0 169.3h1v1h-1zM67.6 166.8h1v1h-1zM63.3 166.2h1v1h-1zM65.5 167.1h1v1h-1zM68.2 166.1h1v1h-1zM70.9 167.2h1v1h-1z" fill="#1a1aff" fill-opacity="0.55"/>
<path d="M68.6 167.0h1v1h-1zM79.1 167.1h1v1h-1zM87.1 173.1h1v1h-1zM78.1 165.5h1v1h-1zM74.3 167.5h1v1h-1zM61.8 170.7h1v1h-1zM89.9 168.0h1v1h-1zM80.2 173.1h1v1h-1zM67.8 168.5h1v1h-1zM76.4 170.8h1v1h-1zM66.5 170.1h1v1h-1zM73.8 172.2h1v1h-1zM63.3 167.9h1v1h-1zM71.0 168.6h1v1h-1zM79.6 167.7h1v1h-1zM93.7 167.5h1v1h-1zM80.4 172.4h1v1h-1zM81.3 168.9h1v1h-1zM68.7 168.8h1v1h-1zM79.2 169.8h1v1h-1zM78.6 171.1h1v1h-1zM68.3 166.9h1v1h-1zM84.6 168.1h1v1h-1zM63.4 174.7h1v1h-1zM68.7 166.9h1v1h-1zM81.3 166.3h1v1h-1zM68.4 172.4h1v1h-1zM68.8 176.5h1v1h-1zM75.2 177.0h1v1h-1zM75.4 169.7h1v1h-1zM70.0 168.9h1v1h-1zM71.0 169.4h1v1h-1zM79.9 165.9h1v1h-1zM68.1 163.6h1v1h-1zM85.0 169.3h1v1h-1zM74.4 169.3h1v1h-1zM81.5 170.4h1v1h-1zM80.5 169.0h1v1h-1zM73.7 169.3h1v1h-1zM61.5 172.6h1v1h-1zM63.5 166.7h1v1h-1zM79.2 169.7h1v1h-1zM80.2 174.3h1v1h-1zM87.5 173.4h1v1h-1zM72.9 175.2h1v1h-1zM68.3 169.3h1v1h-1zM81.5 168.9h1v1h-1zM73.7 168.5h1v1h-1zM84.1 162.6h1v1h-1zM83.4 172.5h1v1h-1zM74.0 171.1h1v1h-1zM67.7 172.6h1v1h-1zM95.9 166.9h1v1h-1zM84.3 169.3h1v1h-1zM72.1 168.1h1v1h-1zM73.2 166.0h1v1h-1zM65.0 174.2h1v1h-1zM74.4 171.0h1v1h-1zM76.7 170.8h1v1h-1zM63.8 166.8h1v1h-1z" fill="#1a1aff" fill-opacity="0.4"/>
<path d="M101.3 124.2h1v1h-1zM94.9 121.5h1v1h-1zM95.4 124.0h1v1h-1zM100.1 122.3h1v1h-1zM96.8 123.2h1v1h-1zM98.9 120.7h1v1h-1zM99.9 120.8h1v1h-1zM102.3 123.3h1v1h-1zM96.7 123.8h1v1h-1zM99.0 120.8h1v1h-1zM95.5 119.1h1v1h-1zM95.1 123.4h1v1h-1zM102.9 120.6h1v1h-1zM99.5 123.0h1v1h-1zM101.6 123.0h1v1h-1zM103.2 123.5h1v1h-1zM96.4 123.4h1v1h-1zM90.9 122.7h1v1h-1zM99.1 123.5h1v1h-1zM98.1 124.1h1v1h-1zM103.2 120.1h1v1h-1zM97.1 123.0h1v1h-1zM100.6 122.4h1v1h-1zM101.5 119.5h1v1h-1zM101.8 124.5h1v1h-1zM102.7 122.8h1v1h-1zM98.2 123.2h1v1h-1zM98.3 119.0h1v1h-1zM96.8 122.4h1v1h-1zM97.0 120.5h1v1h-1zM98.0 121.6h1v1h-1zM99.1 122.2h1v1h-1zM99.7 124.3h1v1h-1zM99.4 123.1h1v1h-1zM94.1 116.6h1v1h-1zM97.7 123.9h1v1h-1zM97.6 121.1h1v1h-1zM94.9 124.6h1v1h-1zM97.2 123.0h1v1h-1zM102.8 123.0h1v1h-1zM106.5 121.3h1v1h-1zM102.3 123.4h1v1h-1zM96.7 122.6h1v1h-1zM96.8 120.4h1v1h-1zM99.8 120.6h1v1h-1zM104.4 120.2h1v1h-1zM97.1 122.7h1v1h-1zM97.2 122.6h1v1h-1zM96.5 119.5h1v1h-1zM90.5 120.4h1v1h-1zM104.1 122.7h1v1h-1zM99.3 121.3h1v1h-1zM98.5 123.0h1v1h-1zM94.0 121.1h1v1h-1zM96.2 125.2h1v1h-1zM95.6 125.1h1v1h-1zM97.9 128.2h1v1h-1zM98.6 122.4h1v1h-1zM103.7 123.7h1v1h-1zM101.9 119.7h1v1h-1zM103.1 125.4h1v1h-1zM98.5 121.3h1v1h-1zM95.4 124.8h1v1h-1zM99.9 122.2h1v1h-1zM95.1 126.1h1v1h-1zM101.9 122.0h1v1h-1zM103.7 119.8h1v1h-1zM101.7 119.9h1v1h-1zM103.6 121.2h1v1h-1zM103.0 121.0h1v1h-1zM100.5 124.6h1v1h-1zM95.9 122.8h1v1h-1zM96.2 124.4h1v1h-1zM96.8 121.7h1v1h-1zM98.5 124.8h1v1h-1zM95.4 122.6h1v1h-1zM97.7 121.3h1v1h-1zM96.2 122.2h1v1h-1zM99.2 119.0h1v1h-1zM99.4 119.7h1v1h-1zM99.4 127.1h1v1h-1zM95.6 122.5h1v1h-1zM98.2 124.4h1v1h-1zM96.9 118.7h1v1h-1zM93.5 123.2h1v1h-1zM100.0 124.4h1v1h-1zM97.2 123.9h1v1h-1zM95.6 125.4h1v1h-1zM98.5 120.9h1v1h-1zM99.9 125.9h1v1h-1zM95.8 120.0h1v1h-1zM95.2 120.2h1v1h-1zM98.8 123.1h1v1h-1zM98.4 122.8h1v1h-1zM102.8 121.3h1v1h-1zM94.2 117.9h1v1h-1zM99.6 120.8h1v1h-1zM98.1 123.2h1v1h-1zM100.1 118.9h1v1h-1zM95.7 122.8h1v1h-1zM98.7 124.7h1v1h-1zM96.8 118.2h1v1h-1zM102.5 118.5h1v1h-1zM95.7 123.4h1v1h-1zM95.8 127.9h1v1h-1zM99.8 123.3h1v1h-1zM97.9 127.1h1v1h-1zM100.6 120.6h1v1h-1zM102.8 118.3h1v1h-1zM97.0 123.1h1v1h-1zM99.2 120.2h1v1h-1zM104.6 124.8h1v1h-1zM95.8 123.4h1v1h-1zM96.7 121.6h1v1h-1zM102.3 122.2h1v1h-1zM98.6 122.6h1v1h-1zM95.2 125.2h1v1h-1zM96.6 125.3h1v1h-1zM97.3 121.5h1v1h-1zM104.0 122.2h1v1h-1zM96.6 121.4h1v1h-1zM101.3 126.0h1v1h-1zM100.9 121.3h1v1h-1zM95.0 121.3h1v1h-1zM98.5 122.9h1v1h-1zM97.0 125.2h1v1h-1zM95.5 121.1h1v1h-1zM100.7 123.1h1v1h-1zM97.8 124.4h1v1h-1zM94.5 126.2h1v1h-1zM106.7 125.6h1v1h-1zM99.7 126.4h1v1h-1zM99.4 125.1h1v1h-1zM98.3 122.8h1v1h-1zM100.3 118.5h1v1h-1zM98.6 126.0h1v1h-1zM89.1 124.1h1v1h-1zM102.1 122.7h1v1h-1zM99.8 125.1h1v1h-1zM99.6 118.2h1v1h-1z" fill="#1a1aff" fill-opacity="0.62"/>
<path d="M93.3 123.4h1v1h-1zM98.7 122.8h1v1h-1zM97.5 130.8h1v1h-1zM83.3 128.9h1v1h-1zM102.7 126.8h1v1h-1zM98.1 124.7h1v1h-1zM99.8 125.4h1v1h-1zM94.4 127.5h1v1h-1zM93.9 124.3h1v1h-1zM96.2 120.1h1v1h-1zM101.0 124.2h1v1h-1zM92.2 124.2h1v1h-1zM91.1 129.9h1v1h-1zM100.6 132.0h1v1h-1zM95.2 127.2h1v1h-1zM93.2 121.3h1v1h-1zM97.6 126.1h1v1h-1zM102.6 123.5h1v1h-1zM103.5 128.2h1v1h-1zM93.6 123.8h1v1h-1zM93.4 131.0h1v1h-1zM95.3 127.9h1v1h-1zM102.6 123.5h1v1h-1zM95.6 125.8h1v1h-1zM94.1 119.7h1v1h-1zM93.2 125.8h1v1h-1zM99.0 131.2h1v1h-1zM88.9 126.4h1v1h-1zM92.3 128.9h1v1h-1zM101.5 125.0h1v1h-1zM105.3 123.1h1v1h-1zM95.4 120.5h1v1h-1zM94.7 124.9h1v1h-1zM101.3 129.3h1v1h-1zM96.7 121.7h1v1h-1zM96.3 122.9h1v1h-1zM95.7 123.0h1v1h-1zM93.7 124.3h1v1h-1zM95.5 123.9h1v1h-1zM91.1 125.0h1v1h-1zM100.8 126.9h1v1h-1zM95.3 120.2h1v1h-1zM91.5 120.1h1v1h-1zM94.8 123.3h1v1h-1zM89.2 127.0h1v1h-1zM90.4 121.9h1v1h-1zM94.4 127.6h1v1h-1zM107.1 123.2h1v1h-1zM96.6 123.0h1v1h-1zM97.0 123.9h1v1h-1zM110.2 120.4h1v1h-1zM97.5 121.5h1v1h-1zM99.8 122.5h1v1h-1zM100.9 120.4h1v1h-1zM108.5 125.3h1v1h-1zM89.2 127.1h1v1h-1zM95.7 120.2h1v1h-1zM100.2 122.6h1v1h-1zM101.7 122.4h1v1h-1zM102.5 125.1h1v1h-1zM99.8 125.1h1v1h-1zM96.2 123.1h1v1h-1zM100.2 127.2h1v1h-1zM96.0 132.9h1v1h-1zM106.4 120.2h1v1h-1zM103.4 124.2h1v1h-1zM99.2 121.5h1v1h-1zM106.2 121.4h1v1h-1zM97.6 121.8h1v1h-1zM107.6 129.2h1v1h-1zM91.5 122.8h1v1h-1zM99.8 122.9h1v1h-1zM96.3 120.5h1v1h-1zM99.2 120.4h1v1h-1zM102.1 133.5h1v1h-1zM96.4 130.7h1v1h-1zM99.8 122.0h1v1h-1zM96.3 120.9h1v1h-1zM98.6 127.1h1v1h-1zM102.6 123.5h1v1h-1zM92.1 124.2h1v1h-1zM106.3 125.6h1v1h-1zM97.7 116.7h1v1h-1zM95.9 126.5h1v1h-1zM93.3 129.5h1v1h-1zM95.2 121.3h1v1h-1zM95.1 124.2h1v1h-1zM102.9 122.4h1v1h-1zM89.2 124.2h1v1h-1zM100.6 130.3h1v1h-1z" fill="#1a1aff" fill-opacity="0.4"/>
<path d="M97.9 142.0h1v1h-1zM95.6 137.4h1v1h-1zM95.8 143.2h1v1h-1zM102.0 146.8h1v1h-1zM99.2 135.8h1v1h-1zM96.2 153.0h1v1h-1zM95.5 166.7h1v1h-1zM94.7 157.8h1v1h-1zM94.4 141.0h1v1h-1zM99.9 137.4h1v1h-1zM98.3 151.4h1v1h-1zM95.6 166.6h1v1h-1zM96.2 134.8h1v1h-1zM94.6 147.7h1v1h-1zM97.5 149.3h1v1h-1zM96.8 169.1h1v1h-1zM93.9 159.9h1v1h-1zM98.1 134.9h1v1h-1zM97.4 162.8h1v1h-1zM95.0 158.2h1v1h-1zM95.4 127.2h1v1h-1zM93.8 132.9h1v1h-1zM100.6 127.5h1v1h-1zM97.9 130.8h1v1h-1zM100.2 140.2h1v1h-1zM96.7 141.3h1v1h-1zM98.4 139.8h1v1h-1zM97.9 132.8h1v1h-1zM100.6 144.5h1v1h-1zM98.6 161.8h1v1h-1zM98.1 126.4h1v1h-1zM94.8 169.9h1v1h-1zM100.8 129.7h1v1h-1zM93.2 148.6h1v1h-1zM95.1 164.3h1v1h-1zM99.5 143.7h1v1h-1zM94.3 155.5h1v1h-1zM97.2 156.1h1v1h-1zM98.9 166.7h1v1h-1zM97.1 166.2h1v1h-1zM93.7 151.4h1v1h-1zM98.8 149.8h1v1h-1zM96.7 157.1h1v1h-1zM94.9 152.6h1v1h-1zM95.8 129.3h1v1h-1zM96.4 154.9h1v1h-1zM95.9 161.5h1v1h-1zM93.0 139.6h1v1h-1zM97.7 131.6h1v1h-1zM100.7 169.4h1v1h-1zM98.6 146.1h1v1h-1zM96.1 150.2h1v1h-1zM95.1 157.0h1v1h-1zM95.7 145.1h1v1h-1zM94.9 173.5h1v1h-1zM93.3 166.8h1v1h-1zM98.2 140.3h1v1h-1zM98.6 146.0h1v1h-1zM97.5 144.8h1v1h-1zM95.1 133.9h1v1h-1zM98.1 167.6h1v1h-1zM96.6 152.5h1v1h-1zM99.2 145.9h1v1h-1zM96.9 152.4h1v1h-1zM98.3 169.6h1v1h-1zM99.4 159.3h1v1h-1zM97.4 133.1h1v1h-1zM98.0 135.2h1v1h-1zM98.9 134.4h1v1h-1zM99.0 131.1h1v1h-1zM97.9 143.5h1v1h-1zM97.9 128.4h1v1h-1zM93.6 171.0h1v1h-1zM97.5 166.0h1v1h-1zM93.4 155.8h1v1h-1zM95.9 139.8h1v1h-1zM96.7 150.1h1v1h-1zM97.0 144.3h1v1h-1zM98.8 128.4h1v1h-1zM100.0 139.6h1v1h-1z" fill="#1a1aff" fill-opacity="0.3"/>
<path d="M57.2 164.2h1v1h-1zM69.4 169.6h1v1h-1zM88.2 161.0h1v1h-1zM108.9 162.7h1v1h-1zM113.0 163.5h1v1h-1zM78.3 177.3h1v1h-1zM72.3 161.4h1v1h-1zM99.7 164.3h1v1h-1zM86.1 156.2h1v1h-1zM104.0 171.2h1v1h-1zM84.4 169.3h1v1h-1zM72.6 161.4h1v1h-1zM58.0 167.1h1v1h-1zM96.5 170.3h1v1h-1zM92.1 169.4h1v1h-1zM66.9 155.9h1v1h-1zM88.3 165.7h1v1h-1zM93.0 162.8h1v1h-1zM67.4 167.6h1v1h-1zM71.9 153.7h1v1h-1zM71.2 158.7h1v1h-1zM64.2 160.9h1v1h-1zM92.5 180.3h1v1h-1zM103.2 161.8h1v1h-1zM95.2 164.1h1v1h-1zM85.0 160.1h1v1h-1zM78.5 153.4h1v1h-1zM104.1 159.5h1v1h-1zM87.5 160.7h1v1h-1zM83.2 156.8h1v1h-1zM74.4 170.7h1v1h-1zM87.6 151.7h1v1h-1zM91.2 155.9h1v1h-1zM83.4 168.1h1v1h-1zM70.7 162.5h1v1h-1zM76.1 167.3h1v1h-1zM92.0 173.7h1v1h-1zM84.0 177.9h1v1h-1zM66.5 176.5h1v1h-1zM75.9 169.7h1v1h-1zM77.8 165.2h1v1h-1zM66.9 167.2h1v1h-1zM107.3 165.6h1v1h-1zM79.2 164.6h1v1h-1zM89.3 163.3h1v1h-1zM79.4 166.1h1v1h-1zM97.4 170.9h1v1h-1zM65.1 160.4h1v1h-1zM79.8 170.3h1v1h-1zM92.8 163.2h1v1h-1zM108.7 163.5h1v1h-1zM98.8 174.1h1v1h-1zM101.4 166.0h1v1h-1zM87.4 154.5h1v1h-1zM55.1 160.6h1v1h-1zM89.4 171.7h1v1h-1zM78.1 171.5h1v1h-1zM87.4 174.7h1v1h-1zM57.7 159.1h1v1h-1zM66.4 157.7h1v1h-1zM102.1 158.5h1v1h-1zM68.1 162.0h1v1h-1zM91.6 161.5h1v1h-1zM89.6 168.3h1v1h-1zM70.7 148.9h1v1h-1zM66.9 156.3h1v1h-1zM101.9 159.8h1v1h-1zM64.8 167.1h1v1h-1zM80.2 158.4h1v1h-1zM94.5 170.7h1v1h-1zM83.3 159.6h1v1h-1zM67.5 151.0h1v1h-1zM84.8 167.2h1v1h-1zM66.9 164.8h1v1h-1zM124.5 157.1h1v1h-1zM56.1 168.7h1v1h-1zM73.7 161.3h1v1h-1zM88.0 163.7h1v1h-1zM93.1 168.0h1v1h-1zM95.4 165.4h1v1h-1zM49.9 173.6h1v1h-1zM56.2 171.5h1v1h-1zM83.0 155.4h1v1h-1zM80.4 170.5h1v1h-1zM65.5 164.9h1v1h-1zM69.4 157.9h1v1h-1zM71.0 173.1h1v1h-1zM88.9 164.4h1v1h-1zM78.4 165.4h1v1h-1zM83.4 165.8h1v1h-1zM55.9 170.7h1v1h-1zM67.7 147.3h1v1h-1zM89.2 156.6h1v1h-1zM77.6 164.0h1v1h-1zM71.4 168.1h1v1h-1zM75.8 162.7h1v1h-1zM66.4 162.7h1v1h-1zM65.3 164.9h1v1h-1zM97.7 171.3h1v1h-1zM85.4 155.5h1v1h-1zM93.6 170.8h1v1h-1zM107.8 149.6h1v1h-1zM79.7 162.4h1v1h-1zM94.5 157.3h1v1h-1zM74.3 180.0h1v1h-1zM93.2 151.3h1v1h-1zM79.8 173.7h1v1h-1zM71.0 168.5h1v1h-1zM80.9 154.8h1v1h-1zM70.9 172.1h1v1h-1zM95.8 160.6h1v1h-1zM95.0 159.8h1v1h-1zM82.9 164.4h1v1h-1zM62.3 166.7h1v1h-1zM74.1 146.3h1v1h-1zM68.1 158.9h1v1h-1zM68.0 158.0h1v1h-1zM70.0 148.2h1v1h-1zM91.8 165.0h1v1h-1zM83.0 162.8h1v1h-1z" fill="#1a1aff" fill-opacity="0.15"/>
<path d="M110.2 115.5h1v1h-1zM100.6 166.3h1v1h-1zM72.7 138.7h1v1h-1zM71.9 160.0h1v1h-1zM92.5 153.5h1v1h-1zM78.6 152.2h1v1h-1zM121.4 164.9h1v1h-1zM121.2 129.8h1v1h-1zM91.6 139.0h1v1h-1zM80.0 166.5h1v1h-1zM68.4 150.4h1v1h-1zM109.1 175.2h1v1h-1zM57.8 131.4h1v1h-1zM90.0 175.3h1v1h-1zM67.6 169.0h1v1h-1zM83.5 149.7h1v1h-1zM119.6 117.7h1v1h-1zM78.9 123.8h1v1h-1zM65.6 133.5h1v1h-1zM104.2 151.8h1v1h-1zM64.8 166.4h1v1h-1zM91.0 122.9h1v1h-1zM112.3 167.7h1v1h-1zM71.2 175.5h1v1h-1zM111.6 128.6h1v1h-1zM56.6 170.7h1v1h-1zM112.7 119.9h1v1h-1zM108.6 164.5h1v1h-1zM99.6 168.4h1v1h-1zM123.5 135.1h1v1h-1zM113.2 174.3h1v1h-1zM77.8 158.6h1v1h-1zM103.0 169.5h1v1h-1zM95.0 131.7h1v1h-1zM73.6 149.3h1v1h-1zM65.7 170.2h1v1h-1zM117.0 129.5h1v1h-1zM103.9 157.9h1v1h-1zM64.8 164.9h1v1h-1zM108.6 133.7h1v1h-1zM63.2 132.1h1v1h-1zM109.0 144.3h1v1h-1zM111.9 124.0h1v1h-1zM63.7 136.5h1v1h-1zM116.3 124.2h1v1h-1z" fill="#1a1aff" fill-opacity="0.3"/>
</g>
<ellipse cx="47.6" cy="168.1" rx="8.5" ry="7.699999999999999" fill="#1a1aff" fill-opacity="0.4" filter="url(#bl2)"/>
<ellipse cx="47.6" cy="168.1" rx="7.0" ry="6.3" fill="#0606f0" filter="url(#bl)"/>
</g>
<line x1="34.5" y1="135.7" x2="126.5" y2="135.7" stroke="#666" stroke-width="1.6"/>
<line x1="55.5" y1="109.5" x2="55.5" y2="182.5" stroke="#222" stroke-width="1.4"/>
<rect x="34.5" y="109.5" width="92.0" height="73.0" fill="none" stroke="#141414" stroke-width="1.15"/>
<line x1="31.0" y1="116.5" x2="34.5" y2="116.5" stroke="#222" stroke-width="1.2"/>
<line x1="31.0" y1="133.5" x2="34.5" y2="133.5" stroke="#222" stroke-width="1.2"/>
<line x1="31.0" y1="150.5" x2="34.5" y2="150.5" stroke="#222" stroke-width="1.2"/>
<line x1="31.0" y1="167.5" x2="34.5" y2="167.5" stroke="#222" stroke-width="1.2"/>
<line x1="32.0" y1="175.5" x2="34.5" y2="175.5" stroke="#222" stroke-width="1.2"/>
<line x1="34.5" y1="182.5" x2="34.5" y2="185.1" stroke="#222" stroke-width="1.2"/>
<line x1="44.0" y1="182.5" x2="44.0" y2="185.1" stroke="#222" stroke-width="1.2"/>
<line x1="53.8" y1="182.5" x2="53.8" y2="185.1" stroke="#222" stroke-width="1.2"/>
<line x1="76.0" y1="182.5" x2="76.0" y2="185.1" stroke="#222" stroke-width="1.2"/>
<line x1="97.2" y1="182.5" x2="97.2" y2="185.1" stroke="#222" stroke-width="1.2"/>
<line x1="117.7" y1="182.5" x2="117.7" y2="185.1" stroke="#222" stroke-width="1.2"/>
<text x="37.1" y="120.3" class="n">0</text>
<text x="58.3" y="120.3" class="n">9</text>
<text x="37.1" y="147.0" class="n">86</text>
<text x="58.5" y="147.0" class="n">5</text>
<text x="29.9" y="120.0" class="n" text-anchor="end">5</text>
<text x="29.9" y="137.1" class="n" text-anchor="end">4</text>
<text x="29.9" y="154.2" class="n" text-anchor="end">3</text>
<text x="29.9" y="171.3" class="n" text-anchor="end">2</text>
<g clip-path="url(#c11)">
<g filter="url(#dz)">
<path d="M156.2 171.3h1v1h-1zM155.0 171.5h1v1h-1zM152.1 169.8h1v1h-1zM144.0 161.3h1v1h-1zM144.6 170.7h1v1h-1zM153.3 169.0h1v1h-1zM149.4 175.3h1v1h-1zM147.1 161.5h1v1h-1zM141.7 167.1h1v1h-1zM152.3 171.1h1v1h-1zM148.0 171.4h1v1h-1zM148.8 165.5h1v1h-1zM147.2 171.2h1v1h-1zM153.5 164.0h1v1h-1zM144.3 168.8h1v1h-1zM159.0 163.8h1v1h-1zM143.1 169.9h1v1h-1zM151.4 166.0h1v1h-1zM148.9 170.2h1v1h-1zM140.8 168.2h1v1h-1zM151.8 171.8h1v1h-1zM154.5 168.0h1v1h-1zM142.2 173.5h1v1h-1zM152.6 165.9h1v1h-1zM153.9 172.3h1v1h-1zM148.3 159.3h1v1h-1zM146.8 165.4h1v1h-1zM145.1 168.0h1v1h-1zM143.9 169.8h1v1h-1zM157.9 163.7h1v1h-1zM153.9 166.3h1v1h-1zM151.6 167.8h1v1h-1zM155.0 165.6h1v1h-1zM152.4 165.3h1v1h-1zM150.1 168.2h1v1h-1zM154.1 162.3h1v1h-1zM142.7 173.6h1v1h-1zM150.8 174.8h1v1h-1zM144.2 169.1h1v1h-1zM151.8 175.1h1v1h-1zM148.8 166.6h1v1h-1zM152.4 167.9h1v1h-1zM145.5 171.2h1v1h-1zM140.1 164.4h1v1h-1zM155.4 166.4h1v1h-1zM147.5 169.7h1v1h-1zM154.3 170.3h1v1h-1zM144.5 166.1h1v1h-1zM153.9 167.8h1v1h-1zM146.0 171.7h1v1h-1zM154.4 176.6h1v1h-1zM143.9 165.6h1v1h-1zM145.7 169.7h1v1h-1zM146.8 172.6h1v1h-1zM136.4 172.0h1v1h-1zM146.0 167.2h1v1h-1zM151.7 169.1h1v1h-1zM144.3 174.1h1v1h-1zM151.7 166.4h1v1h-1zM150.0 164.1h1v1h-1zM143.2 167.1h1v1h-1zM150.7 168.7h1v1h-1zM145.4 163.0h1v1h-1zM141.1 174.4h1v1h-1zM150.7 165.2h1v1h-1zM154.6 170.4h1v1h-1zM147.1 165.9h1v1h-1zM154.3 169.6h1v1h-1zM156.7 169.7h1v1h-1zM146.3 166.0h1v1h-1zM145.7 169.3h1v1h-1zM150.2 170.6h1v1h-1zM151.1 164.3h1v1h-1zM148.0 164.7h1v1h-1zM151.3 163.3h1v1h-1zM146.3 165.0h1v1h-1zM146.1 167.3h1v1h-1zM156.1 167.3h1v1h-1zM142.3 167.1h1v1h-1zM152.5 170.4h1v1h-1zM150.1 175.9h1v1h-1zM154.2 168.7h1v1h-1zM154.7 163.2h1v1h-1zM148.2 165.0h1v1h-1zM149.8 174.5h1v1h-1zM146.7 174.4h1v1h-1zM144.2 173.8h1v1h-1zM141.1 165.0h1v1h-1zM153.7 167.9h1v1h-1zM149.7 168.3h1v1h-1zM149.8 167.6h1v1h-1zM144.4 167.2h1v1h-1zM149.5 164.8h1v1h-1zM151.2 175.1h1v1h-1zM141.3 166.2h1v1h-1zM147.7 168.4h1v1h-1zM149.4 165.5h1v1h-1zM148.8 168.3h1v1h-1zM148.6 174.2h1v1h-1zM149.6 162.6h1v1h-1zM141.7 170.6h1v1h-1zM147.4 165.9h1v1h-1zM142.7 167.1h1v1h-1zM148.6 165.7h1v1h-1zM147.4 171.7h1v1h-1zM152.7 170.4h1v1h-1zM148.2 163.1h1v1h-1zM152.6 174.0h1v1h-1zM154.9 172.8h1v1h-1zM150.3 169.7h1v1h-1z" fill="#1a1aff" fill-opacity="0.4"/>
<path d="M164.4 170.9h1v1h-1zM163.2 172.9h1v1h-1zM168.3 167.3h1v1h-1zM164.5 164.3h1v1h-1zM160.9 167.3h1v1h-1zM176.4 166.1h1v1h-1zM169.0 168.2h1v1h-1zM163.1 169.4h1v1h-1zM154.8 170.2h1v1h-1zM173.9 168.7h1v1h-1zM164.2 168.4h1v1h-1zM167.7 166.9h1v1h-1zM165.1 169.2h1v1h-1zM162.8 168.9h1v1h-1zM166.1 169.6h1v1h-1zM159.7 166.8h1v1h-1zM162.4 170.8h1v1h-1zM165.7 164.2h1v1h-1zM158.3 172.5h1v1h-1zM166.1 165.0h1v1h-1zM160.1 168.3h1v1h-1zM171.4 171.7h1v1h-1zM162.7 167.3h1v1h-1zM173.8 165.7h1v1h-1zM172.1 168.8h1v1h-1zM165.0 171.0h1v1h-1zM166.8 166.1h1v1h-1zM157.1 168.0h1v1h-1zM167.0 171.1h1v1h-1zM151.8 171.1h1v1h-1zM167.5 171.5h1v1h-1zM168.4 168.5h1v1h-1zM166.6 168.9h1v1h-1zM161.5 167.7h1v1h-1zM165.1 167.0h1v1h-1zM157.4 164.7h1v1h-1zM167.0 169.2h1v1h-1zM165.0 165.3h1v1h-1zM168.6 167.1h1v1h-1zM154.4 171.6h1v1h-1zM157.3 173.2h1v1h-1zM167.1 167.0h1v1h-1zM153.1 166.4h1v1h-1zM171.7 171.1h1v1h-1zM165.8 164.1h1v1h-1zM162.7 167.3h1v1h-1zM166.7 167.7h1v1h-1zM166.2 164.2h1v1h-1zM161.4 171.3h1v1h-1zM157.4 170.1h1v1h-1zM175.7 169.5h1v1h-1zM157.8 170.9h1v1h-1zM155.5 168.8h1v1h-1zM162.5 170.9h1v1h-1zM170.2 168.4h1v1h-1zM173.2 170.3h1v1h-1zM162.2 165.7h1v1h-1zM176.5 167.1h1v1h-1zM166.5 167.7h1v1h-1zM162.2 164.3h1v1h-1zM163.8 167.7h1v1h-1zM169.3 166.8h1v1h-1zM156.9 165.5h1v1h-1zM164.3 168.6h1v1h-1zM168.0 167.1h1v1h-1zM167.1 168.3h1v1h-1zM172.7 167.9h1v1h-1zM165.2 169.3h1v1h-1zM170.4 165.9h1v1h-1zM162.2 167.4h1v1h-1zM154.2 171.0h1v1h-1zM169.7 168.1h1v1h-1zM180.8 170.9h1v1h-1zM174.3 171.6h1v1h-1zM168.9 164.7h1v1h-1zM171.9 169.0h1v1h-1zM158.7 168.1h1v1h-1zM168.2 170.3h1v1h-1zM165.4 166.8h1v1h-1zM168.2 166.2h1v1h-1zM164.1 169.8h1v1h-1zM157.5 168.9h1v1h-1zM155.0 165.9h1v1h-1zM158.5 167.8h1v1h-1zM168.0 167.9h1v1h-1zM168.9 168.2h1v1h-1zM163.5 169.1h1v1h-1zM163.3 168.3h1v1h-1zM169.6 166.7h1v1h-1zM170.1 165.4h1v1h-1zM163.4 164.0h1v1h-1zM161.9 171.7h1v1h-1zM166.2 170.9h1v1h-1zM157.4 165.7h1v1h-1zM166.8 169.9h1v1h-1zM168.6 164.1h1v1h-1zM167.0 167.8h1v1h-1zM165.1 169.1h1v1h-1zM163.1 164.1h1v1h-1zM159.3 164.7h1v1h-1zM158.1 167.7h1v1h-1zM170.9 166.3h1v1h-1zM160.8 165.3h1v1h-1zM156.1 168.2h1v1h-1zM162.1 167.4h1v1h-1zM159.8 169.1h1v1h-1zM158.7 169.3h1v1h-1zM161.3 169.8h1v1h-1zM160.2 169.0h1v1h-1zM166.6 167.8h1v1h-1zM172.4 168.4h1v1h-1zM160.2 169.6h1v1h-1zM160.5 166.7h1v1h-1zM164.6 168.4h1v1h-1zM172.8 164.0h1v1h-1zM163.2 170.6h1v1h-1zM163.7 168.7h1v1h-1zM171.9 165.1h1v1h-1zM164.7 169.8h1v1h-1zM161.6 163.9h1v1h-1zM159.6 168.5h1v1h-1zM165.4 172.3h1v1h-1zM171.0 164.4h1v1h-1zM169.6 170.1h1v1h-1zM172.4 167.6h1v1h-1zM161.8 168.3h1v1h-1zM172.0 169.4h1v1h-1zM172.8 169.8h1v1h-1zM161.6 165.7h1v1h-1zM173.5 164.5h1v1h-1z" fill="#1a1aff" fill-opacity="0.55"/>
<path d="M176.1 168.6h1v1h-1zM172.3 168.0h1v1h-1zM178.5 175.9h1v1h-1zM178.1 168.1h1v1h-1zM179.3 172.0h1v1h-1zM172.9 168.4h1v1h-1zM166.6 171.4h1v1h-1zM183.1 173.6h1v1h-1zM170.3 175.4h1v1h-1zM184.5 168.8h1v1h-1zM175.8 168.7h1v1h-1zM170.2 171.6h1v1h-1zM174.4 167.5h1v1h-1zM182.0 169.8h1v1h-1zM174.5 168.9h1v1h-1zM175.1 173.1h1v1h-1zM185.3 167.5h1v1h-1zM178.2 173.2h1v1h-1zM176.5 174.3h1v1h-1zM181.5 171.3h1v1h-1zM164.3 171.8h1v1h-1zM180.8 171.1h1v1h-1zM181.8 170.9h1v1h-1zM175.0 171.9h1v1h-1zM178.9 166.7h1v1h-1zM171.6 169.9h1v1h-1zM180.8 163.5h1v1h-1zM164.4 172.3h1v1h-1zM178.4 177.2h1v1h-1zM168.0 168.8h1v1h-1zM174.4 171.0h1v1h-1zM188.1 173.9h1v1h-1zM171.6 172.8h1v1h-1zM170.2 170.3h1v1h-1zM179.7 171.2h1v1h-1zM173.0 173.1h1v1h-1zM178.0 169.4h1v1h-1zM176.7 166.6h1v1h-1zM183.4 170.4h1v1h-1zM181.6 174.6h1v1h-1zM172.6 168.7h1v1h-1zM178.6 171.8h1v1h-1zM177.3 172.0h1v1h-1zM181.6 164.7h1v1h-1zM173.8 164.0h1v1h-1zM176.5 168.4h1v1h-1zM182.5 170.0h1v1h-1zM178.1 172.9h1v1h-1zM182.6 166.2h1v1h-1zM173.8 170.4h1v1h-1zM190.1 169.0h1v1h-1zM177.3 170.2h1v1h-1zM183.8 169.3h1v1h-1zM180.5 168.4h1v1h-1zM174.7 167.3h1v1h-1zM183.0 168.0h1v1h-1zM182.3 170.6h1v1h-1zM185.2 162.2h1v1h-1zM171.9 166.2h1v1h-1zM177.4 171.7h1v1h-1z" fill="#1a1aff" fill-opacity="0.4"/>
<path d="M212.6 125.3h1v1h-1zM207.5 123.0h1v1h-1zM199.8 123.3h1v1h-1zM191.9 124.1h1v1h-1zM201.5 123.5h1v1h-1zM197.0 120.2h1v1h-1zM198.7 122.2h1v1h-1zM203.0 121.6h1v1h-1zM203.0 123.6h1v1h-1zM196.4 122.1h1v1h-1zM194.7 121.2h1v1h-1zM205.5 120.9h1v1h-1zM209.7 123.3h1v1h-1zM205.4 122.5h1v1h-1zM205.3 124.4h1v1h-1zM202.0 121.3h1v1h-1zM199.1 126.1h1v1h-1zM200.7 121.4h1v1h-1zM198.4 119.0h1v1h-1zM199.3 122.9h1v1h-1zM199.4 120.8h1v1h-1zM203.3 123.2h1v1h-1zM199.6 122.9h1v1h-1zM197.2 124.0h1v1h-1zM197.2 121.6h1v1h-1zM202.1 121.5h1v1h-1zM196.5 126.4h1v1h-1zM208.2 118.9h1v1h-1zM202.0 119.8h1v1h-1zM202.9 119.8h1v1h-1zM204.1 123.3h1v1h-1zM209.0 124.6h1v1h-1zM199.5 124.1h1v1h-1zM199.5 122.1h1v1h-1zM199.3 118.9h1v1h-1zM204.2 118.3h1v1h-1zM200.5 123.3h1v1h-1zM202.0 119.2h1v1h-1zM198.6 123.6h1v1h-1zM206.3 125.4h1v1h-1zM193.5 123.2h1v1h-1zM199.4 123.8h1v1h-1zM194.1 122.0h1v1h-1zM204.6 121.0h1v1h-1zM199.9 120.4h1v1h-1zM206.4 119.7h1v1h-1zM197.5 121.7h1v1h-1zM200.1 126.4h1v1h-1zM202.7 120.7h1v1h-1zM204.1 123.0h1v1h-1zM202.7 122.2h1v1h-1zM203.5 120.0h1v1h-1zM196.2 121.5h1v1h-1zM196.6 123.7h1v1h-1zM210.0 124.7h1v1h-1zM203.5 123.0h1v1h-1zM198.5 119.8h1v1h-1zM203.9 119.4h1v1h-1zM202.8 122.0h1v1h-1zM204.8 122.4h1v1h-1zM202.0 121.2h1v1h-1zM193.9 121.6h1v1h-1zM204.6 124.3h1v1h-1zM207.6 120.4h1v1h-1zM197.4 123.7h1v1h-1zM199.5 127.3h1v1h-1zM202.9 119.3h1v1h-1zM199.1 125.4h1v1h-1zM193.5 122.6h1v1h-1zM195.4 125.4h1v1h-1zM199.5 120.3h1v1h-1zM194.0 120.9h1v1h-1zM190.3 121.4h1v1h-1zM211.1 122.5h1v1h-1zM200.3 120.0h1v1h-1zM203.0 121.4h1v1h-1zM197.8 125.0h1v1h-1zM203.4 120.6h1v1h-1zM208.0 122.2h1v1h-1zM203.7 122.6h1v1h-1zM206.7 123.5h1v1h-1zM200.0 123.7h1v1h-1zM199.8 122.6h1v1h-1zM208.7 120.2h1v1h-1zM196.9 121.5h1v1h-1zM199.3 124.8h1v1h-1zM194.5 126.8h1v1h-1zM208.5 121.4h1v1h-1zM202.3 121.6h1v1h-1zM204.5 123.6h1v1h-1zM204.8 123.8h1v1h-1zM210.0 122.0h1v1h-1zM204.6 121.9h1v1h-1zM201.7 122.7h1v1h-1zM201.3 123.0h1v1h-1zM197.8 122.0h1v1h-1zM198.8 120.0h1v1h-1zM198.4 121.3h1v1h-1zM200.8 119.3h1v1h-1zM200.4 120.1h1v1h-1zM197.9 122.7h1v1h-1zM206.4 122.9h1v1h-1zM199.3 121.4h1v1h-1zM207.4 119.1h1v1h-1zM206.5 119.4h1v1h-1zM198.7 122.4h1v1h-1zM200.5 125.5h1v1h-1zM203.7 122.2h1v1h-1zM205.7 122.4h1v1h-1zM198.0 124.5h1v1h-1zM208.1 124.8h1v1h-1zM196.3 126.0h1v1h-1zM199.7 123.8h1v1h-1zM206.8 126.9h1v1h-1zM194.4 120.3h1v1h-1zM206.7 123.3h1v1h-1zM200.1 116.6h1v1h-1zM203.4 121.9h1v1h-1zM190.0 127.5h1v1h-1zM190.5 121.2h1v1h-1zM201.5 122.8h1v1h-1zM204.8 121.8h1v1h-1zM197.5 121.6h1v1h-1zM192.2 120.1h1v1h-1zM210.2 121.0h1v1h-1zM201.1 126.0h1v1h-1zM206.1 122.5h1v1h-1zM204.7 121.8h1v1h-1zM197.5 124.3h1v1h-1zM202.1 125.4h1v1h-1z" fill="#1a1aff" fill-opacity="0.65"/>
<path d="M195.7 124.4h1v1h-1zM199.9 125.2h1v1h-1zM195.4 122.1h1v1h-1zM199.2 127.4h1v1h-1zM210.1 125.9h1v1h-1zM185.5 128.0h1v1h-1zM213.2 124.1h1v1h-1zM192.0 125.3h1v1h-1zM177.9 124.5h1v1h-1zM196.2 119.4h1v1h-1zM201.5 122.1h1v1h-1zM184.8 122.8h1v1h-1zM201.9 134.5h1v1h-1zM206.1 126.9h1v1h-1zM194.0 124.9h1v1h-1zM204.1 123.7h1v1h-1zM200.4 130.3h1v1h-1zM191.3 123.4h1v1h-1zM200.6 126.0h1v1h-1zM196.6 123.7h1v1h-1zM197.1 134.2h1v1h-1zM206.8 118.9h1v1h-1zM197.8 126.4h1v1h-1zM197.8 119.9h1v1h-1zM196.6 126.7h1v1h-1zM192.8 127.4h1v1h-1zM180.8 119.4h1v1h-1zM198.2 127.7h1v1h-1zM196.4 124.0h1v1h-1zM198.8 130.8h1v1h-1zM203.7 125.7h1v1h-1zM194.3 130.7h1v1h-1zM201.2 129.9h1v1h-1zM195.6 122.2h1v1h-1zM198.8 123.2h1v1h-1zM205.4 129.8h1v1h-1zM182.5 128.9h1v1h-1zM206.7 130.6h1v1h-1zM194.2 122.2h1v1h-1zM204.2 130.5h1v1h-1zM197.9 120.9h1v1h-1zM187.0 127.2h1v1h-1zM191.8 123.0h1v1h-1zM200.6 130.6h1v1h-1zM183.3 123.0h1v1h-1zM206.4 125.8h1v1h-1zM195.1 128.8h1v1h-1zM189.7 120.6h1v1h-1zM197.6 132.9h1v1h-1zM204.5 126.0h1v1h-1zM204.5 124.2h1v1h-1zM189.4 118.6h1v1h-1zM199.4 130.0h1v1h-1zM200.1 125.8h1v1h-1zM194.7 130.8h1v1h-1zM197.2 119.7h1v1h-1zM206.9 123.1h1v1h-1zM200.2 126.0h1v1h-1zM204.7 127.1h1v1h-1zM205.9 126.9h1v1h-1zM194.3 123.8h1v1h-1zM202.0 122.3h1v1h-1zM203.9 124.9h1v1h-1zM191.1 122.2h1v1h-1zM196.5 133.8h1v1h-1zM202.8 126.1h1v1h-1zM191.3 134.4h1v1h-1zM195.6 126.0h1v1h-1zM194.6 131.9h1v1h-1zM198.7 124.0h1v1h-1zM198.8 121.6h1v1h-1zM190.3 125.3h1v1h-1zM177.7 131.2h1v1h-1zM211.2 121.1h1v1h-1zM196.5 119.0h1v1h-1zM198.7 126.9h1v1h-1zM202.6 120.1h1v1h-1zM193.4 123.1h1v1h-1zM195.8 136.1h1v1h-1zM196.1 125.8h1v1h-1zM194.0 129.5h1v1h-1zM215.1 131.1h1v1h-1zM208.0 121.3h1v1h-1zM204.8 126.1h1v1h-1zM206.1 130.7h1v1h-1zM202.0 118.6h1v1h-1zM198.4 123.8h1v1h-1zM200.6 126.2h1v1h-1zM204.7 118.9h1v1h-1zM192.4 125.7h1v1h-1zM199.7 124.2h1v1h-1zM197.3 126.2h1v1h-1zM204.7 125.5h1v1h-1zM199.2 118.0h1v1h-1zM179.5 119.5h1v1h-1zM200.0 115.8h1v1h-1zM200.3 125.6h1v1h-1zM197.5 122.8h1v1h-1zM194.6 129.7h1v1h-1zM200.0 125.9h1v1h-1zM194.1 126.9h1v1h-1zM205.7 125.9h1v1h-1zM195.0 120.8h1v1h-1zM198.2 121.9h1v1h-1zM187.6 129.8h1v1h-1zM193.2 117.0h1v1h-1zM192.6 134.1h1v1h-1zM196.8 120.1h1v1h-1zM189.9 129.2h1v1h-1zM200.3 126.9h1v1h-1zM196.2 128.1h1v1h-1zM208.1 128.2h1v1h-1zM196.4 119.8h1v1h-1zM200.6 132.9h1v1h-1zM202.0 120.4h1v1h-1zM198.8 131.7h1v1h-1zM193.1 128.2h1v1h-1zM205.8 133.2h1v1h-1zM186.5 118.3h1v1h-1zM200.1 129.1h1v1h-1zM195.1 125.9h1v1h-1zM194.7 131.3h1v1h-1zM182.3 127.1h1v1h-1zM188.7 123.0h1v1h-1zM186.9 122.0h1v1h-1zM197.3 126.1h1v1h-1zM209.8 125.0h1v1h-1zM199.9 127.6h1v1h-1zM199.3 132.5h1v1h-1zM198.5 126.7h1v1h-1zM196.7 126.0h1v1h-1zM197.1 130.4h1v1h-1zM197.6 126.3h1v1h-1zM197.2 129.4h1v1h-1zM194.2 130.2h1v1h-1zM193.6 129.1h1v1h-1zM210.7 127.0h1v1h-1zM196.9 120.8h1v1h-1zM202.6 126.1h1v1h-1zM203.8 123.1h1v1h-1zM201.1 134.0h1v1h-1zM200.3 124.6h1v1h-1zM188.5 126.0h1v1h-1zM202.0 128.7h1v1h-1zM189.8 121.4h1v1h-1zM190.8 121.5h1v1h-1zM195.6 127.2h1v1h-1zM210.8 126.9h1v1h-1zM207.5 118.7h1v1h-1zM208.1 129.5h1v1h-1zM200.5 129.7h1v1h-1zM201.8 134.5h1v1h-1zM203.1 118.3h1v1h-1zM185.4 133.2h1v1h-1zM196.9 131.9h1v1h-1zM195.1 123.1h1v1h-1zM195.1 127.4h1v1h-1zM198.8 123.3h1v1h-1zM201.2 128.7h1v1h-1zM191.2 121.1h1v1h-1zM183.9 124.6h1v1h-1zM197.6 122.9h1v1h-1zM193.3 125.4h1v1h-1zM197.7 128.5h1v1h-1zM203.3 127.9h1v1h-1zM205.2 121.7h1v1h-1zM201.7 127.7h1v1h-1zM190.3 123.0h1v1h-1zM200.6 126.3h1v1h-1zM188.8 123.5h1v1h-1zM208.0 129.7h1v1h-1zM198.1 132.0h1v1h-1zM191.2 125.2h1v1h-1zM204.1 124.5h1v1h-1zM189.8 128.6h1v1h-1zM208.6 114.7h1v1h-1zM198.6 120.4h1v1h-1zM195.4 119.7h1v1h-1zM215.5 123.0h1v1h-1zM197.8 122.9h1v1h-1zM190.7 124.0h1v1h-1zM198.9 133.8h1v1h-1zM199.5 133.0h1v1h-1zM190.1 126.3h1v1h-1zM194.5 119.0h1v1h-1zM223.3 124.9h1v1h-1zM199.2 122.6h1v1h-1zM193.5 121.4h1v1h-1zM204.6 124.2h1v1h-1zM196.5 126.8h1v1h-1zM189.0 127.0h1v1h-1zM196.3 128.0h1v1h-1zM194.8 126.2h1v1h-1zM201.1 130.3h1v1h-1zM192.7 130.3h1v1h-1zM190.7 125.2h1v1h-1zM198.4 126.6h1v1h-1zM180.2 121.7h1v1h-1zM196.2 130.1h1v1h-1zM192.6 132.7h1v1h-1z" fill="#1a1aff" fill-opacity="0.45"/>
<path d="M198.6 149.9h1v1h-1zM199.3 137.8h1v1h-1zM192.6 151.4h1v1h-1zM191.6 144.4h1v1h-1zM193.8 153.3h1v1h-1zM205.9 145.2h1v1h-1zM197.5 151.4h1v1h-1zM195.5 163.9h1v1h-1zM201.0 140.0h1v1h-1zM200.2 139.8h1v1h-1zM190.1 141.6h1v1h-1zM199.8 139.5h1v1h-1zM194.0 135.3h1v1h-1zM198.9 158.0h1v1h-1zM195.1 171.2h1v1h-1zM201.2 147.2h1v1h-1zM200.6 143.2h1v1h-1zM201.6 136.8h1v1h-1zM199.6 152.3h1v1h-1zM197.1 150.0h1v1h-1zM202.7 138.3h1v1h-1zM193.9 147.1h1v1h-1zM197.7 169.0h1v1h-1zM199.6 168.0h1v1h-1zM194.5 135.0h1v1h-1zM196.9 149.1h1v1h-1zM196.0 159.1h1v1h-1zM204.8 162.0h1v1h-1zM201.2 172.1h1v1h-1zM198.3 153.3h1v1h-1zM200.8 170.2h1v1h-1zM201.0 168.0h1v1h-1zM195.0 134.9h1v1h-1zM199.5 164.7h1v1h-1zM202.6 171.2h1v1h-1zM198.5 130.3h1v1h-1zM199.5 174.4h1v1h-1zM199.7 139.4h1v1h-1zM192.4 137.9h1v1h-1zM198.3 143.6h1v1h-1zM197.2 150.8h1v1h-1zM196.0 154.7h1v1h-1zM198.0 163.0h1v1h-1zM200.7 134.7h1v1h-1zM206.2 154.7h1v1h-1zM202.3 169.6h1v1h-1zM188.7 163.2h1v1h-1zM200.0 156.1h1v1h-1zM195.3 132.3h1v1h-1zM198.9 165.6h1v1h-1zM198.3 172.7h1v1h-1zM202.6 169.3h1v1h-1zM194.7 165.6h1v1h-1zM195.3 127.2h1v1h-1zM197.0 161.7h1v1h-1zM197.8 137.8h1v1h-1zM198.5 139.3h1v1h-1zM193.7 158.5h1v1h-1zM198.8 157.8h1v1h-1zM196.3 167.8h1v1h-1zM202.8 153.4h1v1h-1zM196.2 135.8h1v1h-1zM198.4 148.8h1v1h-1zM196.9 154.6h1v1h-1zM194.4 164.8h1v1h-1zM198.4 145.2h1v1h-1zM199.4 156.9h1v1h-1zM197.1 152.3h1v1h-1zM204.3 160.6h1v1h-1zM202.3 141.7h1v1h-1zM201.3 127.0h1v1h-1zM194.3 145.3h1v1h-1zM195.0 140.2h1v1h-1zM197.3 157.4h1v1h-1zM198.5 139.4h1v1h-1zM192.4 153.4h1v1h-1zM201.4 151.1h1v1h-1zM197.8 154.5h1v1h-1zM198.3 168.9h1v1h-1zM199.9 148.3h1v1h-1z" fill="#1a1aff" fill-opacity="0.3"/>
<path d="M165.6 164.0h1v1h-1zM202.8 159.3h1v1h-1zM184.5 165.4h1v1h-1zM175.8 155.5h1v1h-1zM172.0 157.8h1v1h-1zM196.5 166.2h1v1h-1zM191.2 156.3h1v1h-1zM188.4 165.5h1v1h-1zM196.0 159.5h1v1h-1zM192.7 173.9h1v1h-1zM206.4 158.1h1v1h-1zM166.0 154.4h1v1h-1zM194.8 168.6h1v1h-1zM186.2 158.6h1v1h-1zM198.8 175.5h1v1h-1zM181.0 163.7h1v1h-1zM198.0 168.0h1v1h-1zM200.1 161.7h1v1h-1zM186.2 162.2h1v1h-1zM173.6 162.5h1v1h-1zM177.6 168.0h1v1h-1zM177.3 165.0h1v1h-1zM170.3 156.1h1v1h-1zM201.3 157.8h1v1h-1zM206.6 170.9h1v1h-1zM149.8 160.1h1v1h-1zM175.7 164.6h1v1h-1zM179.0 160.4h1v1h-1zM198.8 163.6h1v1h-1zM194.8 159.8h1v1h-1zM172.0 173.6h1v1h-1zM177.6 157.0h1v1h-1zM179.2 171.7h1v1h-1zM179.3 159.6h1v1h-1zM190.3 171.2h1v1h-1zM178.7 162.3h1v1h-1zM176.5 183.0h1v1h-1zM178.9 176.5h1v1h-1zM179.5 167.3h1v1h-1zM153.4 165.7h1v1h-1zM182.2 162.3h1v1h-1zM175.9 155.2h1v1h-1zM160.9 165.6h1v1h-1zM172.7 163.9h1v1h-1zM179.0 161.0h1v1h-1zM171.5 177.2h1v1h-1zM166.3 161.0h1v1h-1zM177.4 156.6h1v1h-1zM168.3 170.4h1v1h-1zM194.4 165.4h1v1h-1zM226.3 170.2h1v1h-1zM198.6 158.9h1v1h-1zM196.5 176.0h1v1h-1zM176.3 176.9h1v1h-1zM170.4 156.7h1v1h-1zM180.9 159.0h1v1h-1zM190.3 156.9h1v1h-1zM182.7 151.1h1v1h-1zM181.1 171.7h1v1h-1zM177.9 166.6h1v1h-1zM196.6 157.0h1v1h-1zM164.0 165.1h1v1h-1zM185.4 162.7h1v1h-1zM168.1 172.8h1v1h-1zM165.5 162.7h1v1h-1zM181.0 169.5h1v1h-1zM175.4 158.9h1v1h-1zM209.4 158.7h1v1h-1zM192.6 163.5h1v1h-1zM175.0 164.2h1v1h-1zM178.0 166.6h1v1h-1zM146.4 164.3h1v1h-1zM182.5 157.9h1v1h-1zM176.2 180.5h1v1h-1zM207.1 168.9h1v1h-1zM184.8 162.4h1v1h-1zM200.7 161.4h1v1h-1zM170.2 169.2h1v1h-1zM168.2 159.1h1v1h-1zM201.6 153.5h1v1h-1zM180.6 165.3h1v1h-1zM185.1 154.6h1v1h-1zM178.4 162.2h1v1h-1zM208.1 171.4h1v1h-1zM171.1 170.5h1v1h-1zM190.6 163.7h1v1h-1zM178.2 162.6h1v1h-1zM160.2 160.2h1v1h-1zM194.5 174.4h1v1h-1zM207.2 161.9h1v1h-1zM190.1 148.1h1v1h-1zM177.8 155.9h1v1h-1zM192.9 153.2h1v1h-1zM167.2 157.0h1v1h-1zM187.0 170.2h1v1h-1zM168.9 176.8h1v1h-1zM183.8 158.8h1v1h-1zM186.4 164.4h1v1h-1zM193.1 166.9h1v1h-1zM211.8 172.5h1v1h-1zM172.7 169.9h1v1h-1zM192.1 157.7h1v1h-1zM171.2 159.0h1v1h-1zM147.5 168.9h1v1h-1zM178.6 172.9h1v1h-1zM173.8 165.0h1v1h-1zM191.6 171.1h1v1h-1zM186.0 157.4h1v1h-1zM212.0 170.4h1v1h-1zM200.4 175.6h1v1h-1zM201.0 167.3h1v1h-1zM188.1 168.8h1v1h-1zM160.8 170.1h1v1h-1zM168.1 167.4h1v1h-1zM167.6 169.4h1v1h-1zM174.9 181.5h1v1h-1zM184.2 168.0h1v1h-1zM169.1 162.5h1v1h-1zM180.8 162.5h1v1h-1zM175.6 158.5h1v1h-1z" fill="#1a1aff" fill-opacity="0.15"/>
<path d="M221.6 133.3h1v1h-1zM187.9 134.5h1v1h-1zM194.8 132.0h1v1h-1zM204.0 140.7h1v1h-1zM206.7 132.7h1v1h-1zM189.5 150.3h1v1h-1zM207.4 156.6h1v1h-1zM187.7 119.2h1v1h-1zM166.1 123.2h1v1h-1zM171.0 125.6h1v1h-1zM203.5 136.0h1v1h-1zM220.2 128.9h1v1h-1zM175.2 125.6h1v1h-1zM168.3 158.5h1v1h-1zM197.8 130.1h1v1h-1zM213.6 158.1h1v1h-1zM187.6 153.6h1v1h-1zM203.1 142.6h1v1h-1zM164.7 137.6h1v1h-1zM222.8 138.1h1v1h-1zM201.9 119.3h1v1h-1zM211.1 170.5h1v1h-1zM183.9 138.1h1v1h-1zM193.4 130.2h1v1h-1zM172.8 122.0h1v1h-1zM205.2 147.1h1v1h-1zM223.5 177.0h1v1h-1zM217.9 175.8h1v1h-1zM215.5 115.1h1v1h-1zM167.3 177.9h1v1h-1zM217.9 154.1h1v1h-1zM200.6 142.3h1v1h-1zM187.4 123.1h1v1h-1zM195.8 131.6h1v1h-1zM166.8 170.9h1v1h-1zM197.6 171.3h1v1h-1zM178.5 151.6h1v1h-1zM177.3 168.3h1v1h-1zM172.7 156.2h1v1h-1zM196.2 135.0h1v1h-1zM163.9 145.6h1v1h-1zM194.1 167.5h1v1h-1zM172.3 125.7h1v1h-1zM179.3 166.5h1v1h-1zM174.3 155.3h1v1h-1zM160.7 118.9h1v1h-1zM206.7 146.3h1v1h-1zM166.2 144.7h1v1h-1zM222.5 139.3h1v1h-1zM196.4 141.2h1v1h-1z" fill="#1a1aff" fill-opacity="0.3"/>
</g>
<ellipse cx="149.5" cy="168.3" rx="8.5" ry="7.4" fill="#1a1aff" fill-opacity="0.4" filter="url(#bl2)"/>
<ellipse cx="149.5" cy="168.3" rx="7.0" ry="6.0" fill="#0606f0" filter="url(#bl)"/>
</g>
<line x1="136.5" y1="135.7" x2="228.5" y2="135.7" stroke="#666" stroke-width="1.6"/>
<line x1="157.5" y1="109.5" x2="157.5" y2="182.5" stroke="#222" stroke-width="1.4"/>
<rect x="136.5" y="109.5" width="92.0" height="73.0" fill="none" stroke="#141414" stroke-width="1.15"/>
<line x1="133.0" y1="116.5" x2="136.5" y2="116.5" stroke="#222" stroke-width="1.2"/>
<line x1="133.0" y1="133.5" x2="136.5" y2="133.5" stroke="#222" stroke-width="1.2"/>
<line x1="133.0" y1="150.5" x2="136.5" y2="150.5" stroke="#222" stroke-width="1.2"/>
<line x1="133.0" y1="167.5" x2="136.5" y2="167.5" stroke="#222" stroke-width="1.2"/>
<line x1="134.0" y1="175.5" x2="136.5" y2="175.5" stroke="#222" stroke-width="1.2"/>
<line x1="136.5" y1="182.5" x2="136.5" y2="185.1" stroke="#222" stroke-width="1.2"/>
<line x1="146.0" y1="182.5" x2="146.0" y2="185.1" stroke="#222" stroke-width="1.2"/>
<line x1="155.8" y1="182.5" x2="155.8" y2="185.1" stroke="#222" stroke-width="1.2"/>
<line x1="178.0" y1="182.5" x2="178.0" y2="185.1" stroke="#222" stroke-width="1.2"/>
<line x1="199.2" y1="182.5" x2="199.2" y2="185.1" stroke="#222" stroke-width="1.2"/>
<line x1="219.7" y1="182.5" x2="219.7" y2="185.1" stroke="#222" stroke-width="1.2"/>
<text x="139.1" y="120.3" class="n">0</text>
<text x="160.3" y="120.3" class="n">9</text>
<text x="139.1" y="147.0" class="n">86</text>
<text x="160.5" y="147.0" class="n">6</text>
<g clip-path="url(#c20)">
<g filter="url(#dz)">
<path d="M45.8 251.3h1v1h-1zM52.2 247.6h1v1h-1zM45.0 254.1h1v1h-1zM51.8 260.3h1v1h-1zM49.9 247.9h1v1h-1zM42.2 248.1h1v1h-1zM47.7 252.3h1v1h-1zM47.0 248.8h1v1h-1zM46.4 251.0h1v1h-1zM50.3 251.6h1v1h-1zM43.4 246.5h1v1h-1zM54.6 251.0h1v1h-1zM46.5 251.2h1v1h-1zM52.9 250.0h1v1h-1zM48.2 250.3h1v1h-1zM50.2 247.2h1v1h-1zM48.4 255.5h1v1h-1zM53.2 253.8h1v1h-1zM48.8 257.7h1v1h-1zM50.8 257.0h1v1h-1zM41.5 246.8h1v1h-1zM51.3 250.2h1v1h-1zM45.2 247.4h1v1h-1zM54.6 246.5h1v1h-1zM47.9 245.6h1v1h-1zM46.5 260.4h1v1h-1zM59.3 249.3h1v1h-1zM42.4 257.9h1v1h-1zM43.2 244.1h1v1h-1zM49.1 246.9h1v1h-1zM40.3 255.9h1v1h-1zM43.8 247.0h1v1h-1zM48.2 250.5h1v1h-1zM52.9 251.7h1v1h-1zM55.2 255.9h1v1h-1zM56.1 255.9h1v1h-1zM47.7 253.5h1v1h-1zM47.5 245.0h1v1h-1zM41.6 254.3h1v1h-1zM35.8 248.0h1v1h-1zM41.1 251.1h1v1h-1zM42.3 252.3h1v1h-1zM46.4 249.4h1v1h-1zM43.2 242.3h1v1h-1zM47.7 246.1h1v1h-1zM45.9 252.8h1v1h-1zM52.5 254.2h1v1h-1zM54.6 245.5h1v1h-1zM50.7 257.7h1v1h-1zM49.3 246.8h1v1h-1zM49.3 249.2h1v1h-1zM44.2 255.6h1v1h-1zM46.5 246.8h1v1h-1zM44.1 259.3h1v1h-1zM43.2 254.1h1v1h-1zM48.2 256.1h1v1h-1zM46.0 247.5h1v1h-1zM44.2 247.1h1v1h-1zM60.1 252.1h1v1h-1zM45.8 256.4h1v1h-1zM50.6 250.6h1v1h-1zM50.4 252.4h1v1h-1zM52.9 258.0h1v1h-1zM45.8 251.2h1v1h-1zM46.5 256.3h1v1h-1zM49.3 254.5h1v1h-1zM51.8 248.7h1v1h-1zM48.0 256.9h1v1h-1zM51.9 254.6h1v1h-1zM46.0 249.8h1v1h-1zM43.2 250.2h1v1h-1zM47.1 245.5h1v1h-1zM53.1 248.2h1v1h-1zM48.6 253.8h1v1h-1zM44.7 244.0h1v1h-1zM52.1 253.0h1v1h-1zM46.1 255.9h1v1h-1zM51.8 247.4h1v1h-1zM47.0 244.2h1v1h-1zM46.1 257.0h1v1h-1zM43.3 254.7h1v1h-1zM40.0 250.1h1v1h-1zM52.0 258.3h1v1h-1zM49.6 254.4h1v1h-1zM55.8 241.4h1v1h-1zM39.0 259.0h1v1h-1zM59.4 253.7h1v1h-1zM47.7 252.4h1v1h-1zM47.5 248.8h1v1h-1zM47.3 250.8h1v1h-1zM50.6 254.1h1v1h-1zM52.2 253.7h1v1h-1zM42.7 257.0h1v1h-1zM34.4 251.8h1v1h-1zM49.0 249.2h1v1h-1zM56.5 246.9h1v1h-1zM41.7 249.3h1v1h-1zM49.4 254.5h1v1h-1zM47.9 254.0h1v1h-1zM44.0 248.9h1v1h-1zM48.0 245.9h1v1h-1zM48.3 249.7h1v1h-1zM50.7 247.2h1v1h-1zM44.8 249.0h1v1h-1zM45.6 247.3h1v1h-1zM46.1 245.8h1v1h-1zM50.0 254.0h1v1h-1zM47.3 250.5h1v1h-1zM43.1 247.4h1v1h-1zM46.3 247.6h1v1h-1zM41.7 252.0h1v1h-1zM47.3 249.7h1v1h-1zM43.4 251.1h1v1h-1zM44.0 249.6h1v1h-1zM48.3 254.2h1v1h-1zM51.1 248.8h1v1h-1zM53.2 246.6h1v1h-1zM46.5 256.6h1v1h-1zM58.9 251.8h1v1h-1zM45.6 249.8h1v1h-1z" fill="#1a1aff" fill-opacity="0.4"/>
<path d="M56.9 250.7h1v1h-1zM60.6 249.3h1v1h-1zM68.2 249.2h1v1h-1zM70.5 253.0h1v1h-1zM65.6 249.6h1v1h-1zM60.2 246.4h1v1h-1zM63.9 250.4h1v1h-1zM64.4 249.5h1v1h-1zM64.8 247.5h1v1h-1zM52.4 252.1h1v1h-1zM67.6 243.7h1v1h-1zM68.6 250.2h1v1h-1zM61.8 247.4h1v1h-1zM57.9 252.7h1v1h-1zM59.2 250.9h1v1h-1zM61.9 255.6h1v1h-1zM66.7 247.9h1v1h-1zM60.3 248.3h1v1h-1zM56.1 249.4h1v1h-1zM67.7 251.1h1v1h-1zM65.7 250.7h1v1h-1zM60.6 251.2h1v1h-1zM62.2 255.5h1v1h-1zM70.9 251.9h1v1h-1zM65.4 246.4h1v1h-1zM62.0 256.6h1v1h-1zM58.9 252.9h1v1h-1zM68.2 250.1h1v1h-1zM61.5 249.9h1v1h-1zM66.3 251.1h1v1h-1zM69.5 253.8h1v1h-1zM62.5 257.0h1v1h-1zM61.1 249.6h1v1h-1zM61.5 249.0h1v1h-1zM60.6 250.8h1v1h-1zM66.7 247.3h1v1h-1zM56.1 249.2h1v1h-1zM61.2 252.1h1v1h-1zM58.9 254.5h1v1h-1zM60.1 250.5h1v1h-1zM62.8 253.7h1v1h-1zM63.9 251.1h1v1h-1zM60.1 251.4h1v1h-1zM64.4 250.2h1v1h-1zM62.5 246.7h1v1h-1zM60.1 253.7h1v1h-1zM69.1 250.8h1v1h-1zM52.6 255.3h1v1h-1zM61.8 257.0h1v1h-1zM60.7 253.3h1v1h-1zM59.7 254.2h1v1h-1zM67.9 248.5h1v1h-1zM68.6 257.7h1v1h-1zM61.5 248.2h1v1h-1zM63.8 250.1h1v1h-1zM55.6 248.6h1v1h-1zM63.7 247.5h1v1h-1zM67.6 252.0h1v1h-1zM61.7 254.3h1v1h-1zM58.3 252.6h1v1h-1zM56.3 250.2h1v1h-1zM65.5 249.8h1v1h-1zM62.0 252.5h1v1h-1zM69.6 254.0h1v1h-1zM64.7 250.4h1v1h-1zM55.9 255.0h1v1h-1zM71.2 246.0h1v1h-1zM66.6 250.9h1v1h-1zM65.8 251.7h1v1h-1zM61.7 251.0h1v1h-1zM62.4 253.7h1v1h-1zM61.3 249.7h1v1h-1zM65.6 252.5h1v1h-1zM64.6 251.7h1v1h-1zM69.4 253.6h1v1h-1zM63.5 250.5h1v1h-1zM65.6 246.6h1v1h-1zM60.1 249.4h1v1h-1zM63.3 250.1h1v1h-1zM73.9 252.7h1v1h-1zM64.4 256.2h1v1h-1zM62.5 250.3h1v1h-1zM68.2 252.9h1v1h-1zM66.8 253.8h1v1h-1zM60.9 249.5h1v1h-1zM59.2 251.2h1v1h-1zM67.2 248.5h1v1h-1zM60.1 247.9h1v1h-1zM71.8 252.9h1v1h-1zM63.6 248.2h1v1h-1zM57.8 249.5h1v1h-1zM62.7 248.0h1v1h-1zM61.5 253.8h1v1h-1zM62.6 251.2h1v1h-1zM52.9 250.4h1v1h-1zM61.9 249.4h1v1h-1zM56.2 250.8h1v1h-1zM57.8 249.7h1v1h-1zM55.2 250.8h1v1h-1zM66.7 249.0h1v1h-1zM64.0 247.5h1v1h-1zM65.2 252.3h1v1h-1zM60.8 253.1h1v1h-1zM58.5 251.1h1v1h-1zM70.3 250.9h1v1h-1zM57.4 253.7h1v1h-1zM65.0 250.4h1v1h-1zM54.2 246.6h1v1h-1zM55.5 254.5h1v1h-1zM63.9 249.0h1v1h-1zM67.9 254.4h1v1h-1zM58.7 252.1h1v1h-1zM55.0 251.9h1v1h-1zM70.9 247.7h1v1h-1zM62.8 249.5h1v1h-1zM62.1 251.2h1v1h-1zM63.8 253.1h1v1h-1zM64.9 253.4h1v1h-1zM67.2 253.6h1v1h-1zM59.4 252.0h1v1h-1zM60.8 249.0h1v1h-1zM71.6 251.7h1v1h-1zM62.8 246.1h1v1h-1zM61.5 252.8h1v1h-1zM61.6 249.7h1v1h-1zM69.3 250.3h1v1h-1zM61.0 250.8h1v1h-1zM61.5 253.5h1v1h-1zM65.2 250.8h1v1h-1zM60.9 250.5h1v1h-1zM70.3 250.3h1v1h-1zM65.6 247.3h1v1h-1zM64.0 252.6h1v1h-1zM68.4 251.7h1v1h-1zM65.2 251.8h1v1h-1zM67.5 255.8h1v1h-1zM63.5 249.1h1v1h-1zM65.3 250.7h1v1h-1zM65.5 252.8h1v1h-1zM63.2 250.0h1v1h-1zM64.0 248.1h1v1h-1zM63.8 248.9h1v1h-1zM64.6 251.3h1v1h-1zM61.5 248.2h1v1h-1zM62.8 249.4h1v1h-1zM61.9 252.6h1v1h-1zM66.9 248.0h1v1h-1zM66.8 254.2h1v1h-1zM67.7 251.6h1v1h-1zM62.1 255.1h1v1h-1z" fill="#1a1aff" fill-opacity="0.55"/>
<path d="M72.4 248.3h1v1h-1zM75.2 253.3h1v1h-1zM67.6 249.2h1v1h-1zM87.8 252.8h1v1h-1zM79.8 250.9h1v1h-1zM64.4 252.0h1v1h-1zM83.6 250.7h1v1h-1zM62.6 252.0h1v1h-1zM72.7 252.5h1v1h-1zM67.6 251.7h1v1h-1zM70.9 254.9h1v1h-1zM75.6 254.9h1v1h-1zM74.2 246.7h1v1h-1zM61.5 254.0h1v1h-1zM80.4 254.9h1v1h-1zM74.1 247.6h1v1h-1zM71.3 253.6h1v1h-1zM83.8 251.6h1v1h-1zM70.8 250.4h1v1h-1zM81.4 254.9h1v1h-1zM62.4 255.8h1v1h-1zM68.4 248.5h1v1h-1zM63.9 250.5h1v1h-1zM90.1 259.5h1v1h-1zM66.2 250.7h1v1h-1zM75.6 253.6h1v1h-1zM71.4 248.2h1v1h-1zM71.8 250.6h1v1h-1zM62.6 252.9h1v1h-1zM64.8 247.8h1v1h-1zM84.7 255.1h1v1h-1zM84.3 252.8h1v1h-1zM71.8 252.3h1v1h-1zM65.4 254.5h1v1h-1zM76.4 251.7h1v1h-1zM62.1 252.2h1v1h-1zM85.5 256.5h1v1h-1zM80.4 251.5h1v1h-1zM75.5 254.0h1v1h-1zM75.9 255.4h1v1h-1zM70.1 246.2h1v1h-1zM58.3 250.0h1v1h-1zM65.3 254.3h1v1h-1zM81.8 252.5h1v1h-1zM78.2 252.7h1v1h-1zM75.7 251.2h1v1h-1zM71.9 255.8h1v1h-1zM72.8 252.4h1v1h-1zM82.6 255.2h1v1h-1zM72.0 253.2h1v1h-1zM67.8 252.9h1v1h-1zM76.7 252.5h1v1h-1zM75.7 253.5h1v1h-1zM57.6 250.2h1v1h-1zM75.1 251.2h1v1h-1zM68.1 251.9h1v1h-1zM85.4 251.9h1v1h-1zM70.2 251.2h1v1h-1zM66.6 253.8h1v1h-1zM68.0 255.0h1v1h-1z" fill="#1a1aff" fill-opacity="0.4"/>
<path d="M101.5 206.8h1v1h-1zM101.8 205.5h1v1h-1zM95.1 205.6h1v1h-1zM100.9 202.7h1v1h-1zM96.4 207.8h1v1h-1zM100.4 208.3h1v1h-1zM100.9 205.8h1v1h-1zM100.4 207.4h1v1h-1zM99.3 205.3h1v1h-1zM100.1 205.1h1v1h-1zM105.1 204.2h1v1h-1zM95.7 203.2h1v1h-1zM101.8 204.9h1v1h-1zM99.7 205.3h1v1h-1zM100.0 202.9h1v1h-1zM99.5 204.6h1v1h-1zM101.9 206.9h1v1h-1zM96.3 203.8h1v1h-1zM100.7 208.0h1v1h-1zM101.2 205.4h1v1h-1zM102.0 201.1h1v1h-1zM98.0 203.8h1v1h-1zM96.9 206.8h1v1h-1zM100.0 206.3h1v1h-1zM99.0 206.9h1v1h-1zM101.2 204.6h1v1h-1zM101.6 203.9h1v1h-1zM103.6 203.2h1v1h-1zM98.6 203.6h1v1h-1zM99.4 208.3h1v1h-1zM97.5 209.2h1v1h-1zM102.7 206.5h1v1h-1zM97.9 207.5h1v1h-1zM92.4 204.2h1v1h-1zM101.6 205.6h1v1h-1zM105.3 204.4h1v1h-1zM96.1 205.3h1v1h-1zM100.7 209.0h1v1h-1zM95.1 206.0h1v1h-1zM102.4 204.4h1v1h-1zM98.2 203.3h1v1h-1zM101.2 207.3h1v1h-1zM100.8 206.2h1v1h-1zM101.7 205.5h1v1h-1zM101.1 207.3h1v1h-1zM102.5 206.7h1v1h-1zM99.5 207.1h1v1h-1zM95.6 202.2h1v1h-1zM103.2 206.0h1v1h-1zM96.8 204.6h1v1h-1zM99.0 205.8h1v1h-1zM97.5 207.7h1v1h-1zM95.2 211.2h1v1h-1zM96.7 209.0h1v1h-1zM101.0 202.4h1v1h-1zM96.4 205.8h1v1h-1zM100.0 204.9h1v1h-1zM99.4 206.0h1v1h-1zM96.6 205.8h1v1h-1zM104.9 204.4h1v1h-1zM96.9 207.0h1v1h-1zM102.6 207.8h1v1h-1zM97.8 205.6h1v1h-1zM99.8 205.3h1v1h-1zM100.3 207.8h1v1h-1zM100.7 205.7h1v1h-1zM98.8 209.2h1v1h-1zM96.3 209.6h1v1h-1zM101.1 205.9h1v1h-1zM97.5 209.3h1v1h-1zM102.3 207.5h1v1h-1zM104.4 202.2h1v1h-1zM99.6 205.1h1v1h-1zM97.6 205.8h1v1h-1zM100.6 206.7h1v1h-1zM99.0 203.1h1v1h-1zM100.7 206.9h1v1h-1zM104.5 207.5h1v1h-1zM99.4 203.4h1v1h-1zM106.0 204.4h1v1h-1zM99.8 207.2h1v1h-1zM100.6 208.3h1v1h-1zM96.8 204.3h1v1h-1zM99.8 203.3h1v1h-1zM97.8 208.4h1v1h-1zM100.1 205.5h1v1h-1zM97.9 205.8h1v1h-1zM99.3 203.6h1v1h-1zM101.3 203.2h1v1h-1zM102.5 205.0h1v1h-1zM93.7 202.6h1v1h-1zM100.0 204.0h1v1h-1zM103.8 208.4h1v1h-1zM104.5 207.5h1v1h-1zM102.7 204.5h1v1h-1zM102.5 204.8h1v1h-1zM99.2 203.0h1v1h-1zM99.5 206.5h1v1h-1zM99.2 203.5h1v1h-1zM101.6 207.5h1v1h-1z" fill="#1a1aff" fill-opacity="0.6"/>
<path d="M98.2 210.2h1v1h-1zM102.5 204.1h1v1h-1zM98.4 201.1h1v1h-1zM94.5 209.0h1v1h-1zM95.1 208.9h1v1h-1zM100.0 200.3h1v1h-1zM96.6 212.8h1v1h-1zM98.6 207.9h1v1h-1zM95.8 201.9h1v1h-1zM92.2 217.5h1v1h-1zM97.8 204.5h1v1h-1zM99.0 200.8h1v1h-1zM104.1 213.5h1v1h-1zM95.6 208.6h1v1h-1zM95.0 210.5h1v1h-1zM95.2 207.0h1v1h-1zM103.7 209.3h1v1h-1zM97.3 202.2h1v1h-1zM92.2 211.7h1v1h-1zM100.6 207.7h1v1h-1zM103.6 208.0h1v1h-1zM95.7 207.1h1v1h-1zM98.2 207.5h1v1h-1zM108.5 209.5h1v1h-1zM99.6 206.6h1v1h-1zM95.8 204.0h1v1h-1zM91.1 205.9h1v1h-1zM92.5 201.0h1v1h-1zM94.8 200.4h1v1h-1zM104.0 211.8h1v1h-1zM94.7 214.6h1v1h-1zM101.2 198.7h1v1h-1zM98.6 204.0h1v1h-1zM91.6 206.6h1v1h-1zM103.2 209.1h1v1h-1zM92.7 205.2h1v1h-1zM95.5 211.5h1v1h-1zM98.2 204.1h1v1h-1zM94.9 200.6h1v1h-1zM95.2 210.6h1v1h-1zM90.9 208.2h1v1h-1zM98.1 210.4h1v1h-1zM94.0 210.7h1v1h-1zM104.8 215.5h1v1h-1zM92.0 207.4h1v1h-1zM97.7 207.9h1v1h-1zM94.6 210.5h1v1h-1zM107.9 212.8h1v1h-1zM94.7 205.5h1v1h-1zM101.5 208.0h1v1h-1z" fill="#1a1aff" fill-opacity="0.45"/>
<path d="M96.2 222.7h1v1h-1zM96.6 234.1h1v1h-1zM92.5 239.7h1v1h-1zM100.2 239.1h1v1h-1zM97.4 224.7h1v1h-1zM98.3 223.2h1v1h-1zM101.7 238.6h1v1h-1zM94.1 229.9h1v1h-1zM97.6 229.6h1v1h-1zM98.8 238.0h1v1h-1zM96.1 253.5h1v1h-1zM92.5 239.6h1v1h-1zM97.8 255.0h1v1h-1zM95.3 217.1h1v1h-1zM97.6 238.9h1v1h-1zM99.2 211.2h1v1h-1zM95.1 215.7h1v1h-1zM103.8 240.5h1v1h-1zM96.2 226.8h1v1h-1zM100.9 233.0h1v1h-1zM100.2 219.8h1v1h-1zM96.9 239.6h1v1h-1zM101.1 237.6h1v1h-1zM96.6 245.2h1v1h-1zM100.4 242.2h1v1h-1zM94.9 229.5h1v1h-1zM95.3 254.4h1v1h-1zM94.0 255.6h1v1h-1zM96.0 215.5h1v1h-1zM98.6 228.0h1v1h-1zM99.3 221.4h1v1h-1zM95.4 238.6h1v1h-1zM99.6 249.9h1v1h-1zM100.3 226.5h1v1h-1zM105.4 224.9h1v1h-1zM97.6 222.5h1v1h-1zM98.0 221.3h1v1h-1zM95.7 239.5h1v1h-1zM96.9 243.8h1v1h-1zM97.9 231.5h1v1h-1zM92.8 230.8h1v1h-1zM94.5 246.2h1v1h-1zM96.0 223.5h1v1h-1zM100.8 248.2h1v1h-1zM95.5 228.3h1v1h-1zM100.1 237.0h1v1h-1zM101.6 253.4h1v1h-1zM101.1 234.8h1v1h-1zM96.8 238.8h1v1h-1zM100.6 209.7h1v1h-1zM97.4 244.7h1v1h-1zM95.0 234.4h1v1h-1zM100.7 229.1h1v1h-1zM97.9 252.5h1v1h-1zM94.2 246.4h1v1h-1zM96.8 232.2h1v1h-1zM93.7 243.0h1v1h-1zM91.6 224.4h1v1h-1zM102.7 221.6h1v1h-1zM94.0 228.8h1v1h-1zM90.8 254.5h1v1h-1zM96.4 221.6h1v1h-1zM95.0 226.4h1v1h-1zM92.9 226.9h1v1h-1zM102.0 211.0h1v1h-1zM95.6 232.5h1v1h-1zM98.5 241.9h1v1h-1zM97.4 233.4h1v1h-1zM94.9 245.5h1v1h-1zM96.9 238.2h1v1h-1zM95.7 224.2h1v1h-1zM96.0 235.2h1v1h-1zM94.0 245.8h1v1h-1zM96.3 243.4h1v1h-1zM93.4 246.2h1v1h-1zM91.4 238.3h1v1h-1zM101.0 208.2h1v1h-1zM101.7 224.2h1v1h-1zM100.5 236.2h1v1h-1zM92.7 225.3h1v1h-1z" fill="#1a1aff" fill-opacity="0.3"/>
<path d="M97.8 257.4h1v1h-1zM75.5 252.4h1v1h-1zM86.0 248.3h1v1h-1zM77.6 256.0h1v1h-1zM87.5 245.9h1v1h-1zM76.2 254.1h1v1h-1zM71.2 242.5h1v1h-1zM75.6 244.0h1v1h-1zM97.2 250.0h1v1h-1zM78.3 243.8h1v1h-1zM99.4 250.6h1v1h-1zM108.8 253.9h1v1h-1zM76.5 243.6h1v1h-1zM75.5 248.8h1v1h-1zM90.6 250.9h1v1h-1zM101.6 236.8h1v1h-1zM79.9 237.5h1v1h-1zM65.0 243.3h1v1h-1zM70.4 240.7h1v1h-1zM58.2 255.5h1v1h-1zM75.0 254.3h1v1h-1zM64.0 231.2h1v1h-1zM71.1 253.7h1v1h-1zM71.7 250.3h1v1h-1zM64.4 257.3h1v1h-1zM85.6 254.9h1v1h-1zM75.6 256.5h1v1h-1zM80.5 244.1h1v1h-1zM70.5 247.9h1v1h-1zM66.7 239.1h1v1h-1zM81.3 252.5h1v1h-1zM75.4 253.4h1v1h-1zM101.8 238.6h1v1h-1zM83.1 240.7h1v1h-1zM70.5 248.7h1v1h-1zM46.2 251.7h1v1h-1zM91.3 251.3h1v1h-1zM88.6 260.2h1v1h-1zM74.4 255.2h1v1h-1zM99.8 250.9h1v1h-1zM54.4 246.4h1v1h-1zM75.4 236.1h1v1h-1zM78.6 252.8h1v1h-1zM75.9 246.2h1v1h-1zM100.1 243.2h1v1h-1zM66.3 247.8h1v1h-1zM95.2 251.7h1v1h-1zM80.5 244.0h1v1h-1zM96.8 253.7h1v1h-1zM55.1 249.8h1v1h-1zM45.7 258.0h1v1h-1zM88.1 243.1h1v1h-1zM61.4 245.4h1v1h-1zM54.9 251.5h1v1h-1zM72.3 235.1h1v1h-1zM79.2 255.8h1v1h-1zM61.7 245.0h1v1h-1zM105.0 248.8h1v1h-1zM71.7 248.8h1v1h-1zM90.4 240.4h1v1h-1zM78.1 236.0h1v1h-1zM57.3 236.7h1v1h-1zM91.3 249.7h1v1h-1zM89.8 256.0h1v1h-1zM80.1 249.1h1v1h-1zM85.2 250.8h1v1h-1zM64.6 245.6h1v1h-1zM77.4 247.7h1v1h-1zM69.0 246.6h1v1h-1zM83.5 248.8h1v1h-1zM87.8 253.3h1v1h-1zM87.3 254.3h1v1h-1zM91.3 257.3h1v1h-1zM88.3 243.1h1v1h-1zM112.2 255.4h1v1h-1zM97.0 252.6h1v1h-1zM80.2 239.5h1v1h-1zM85.6 245.0h1v1h-1zM73.9 232.5h1v1h-1zM101.2 239.3h1v1h-1zM64.1 250.8h1v1h-1zM87.5 241.9h1v1h-1zM79.4 249.3h1v1h-1zM81.7 251.2h1v1h-1zM90.4 244.9h1v1h-1zM56.7 262.7h1v1h-1zM74.1 240.5h1v1h-1zM90.0 251.6h1v1h-1zM70.8 264.0h1v1h-1zM46.5 256.5h1v1h-1zM79.0 249.7h1v1h-1zM84.0 245.9h1v1h-1zM84.0 238.4h1v1h-1zM73.9 260.5h1v1h-1zM43.3 256.1h1v1h-1zM48.1 241.5h1v1h-1zM91.8 244.6h1v1h-1zM71.4 237.0h1v1h-1zM77.8 246.2h1v1h-1zM70.5 236.5h1v1h-1zM81.7 250.4h1v1h-1zM95.5 251.1h1v1h-1zM100.8 255.9h1v1h-1zM39.8 259.2h1v1h-1zM78.0 240.1h1v1h-1zM85.6 254.2h1v1h-1zM57.7 238.8h1v1h-1zM89.2 243.6h1v1h-1zM100.0 249.0h1v1h-1zM71.8 238.2h1v1h-1zM87.9 235.4h1v1h-1zM61.2 238.3h1v1h-1zM103.4 259.5h1v1h-1zM76.4 244.8h1v1h-1zM89.3 256.2h1v1h-1zM68.1 263.0h1v1h-1zM76.6 255.4h1v1h-1zM46.3 247.1h1v1h-1zM69.7 261.4h1v1h-1zM76.5 238.5h1v1h-1z" fill="#1a1aff" fill-opacity="0.15"/>
<path d="M120.8 254.8h1v1h-1zM107.5 232.5h1v1h-1zM59.5 211.1h1v1h-1zM100.7 204.2h1v1h-1zM100.2 219.4h1v1h-1zM82.8 250.8h1v1h-1zM113.7 245.8h1v1h-1zM86.9 231.9h1v1h-1zM123.5 257.6h1v1h-1zM97.8 201.7h1v1h-1zM117.8 199.5h1v1h-1zM64.5 240.0h1v1h-1zM69.9 246.2h1v1h-1zM103.2 207.4h1v1h-1zM118.3 262.4h1v1h-1zM101.2 261.3h1v1h-1zM111.0 227.7h1v1h-1zM112.6 258.4h1v1h-1zM103.8 202.0h1v1h-1zM81.8 243.0h1v1h-1zM81.4 207.5h1v1h-1zM87.5 205.8h1v1h-1zM88.8 203.0h1v1h-1zM105.9 210.6h1v1h-1zM120.1 203.6h1v1h-1zM99.4 239.0h1v1h-1zM70.0 237.9h1v1h-1zM93.8 237.1h1v1h-1zM69.1 228.0h1v1h-1zM113.3 237.3h1v1h-1zM73.1 218.6h1v1h-1zM116.3 200.0h1v1h-1zM89.0 230.4h1v1h-1zM85.7 196.7h1v1h-1zM63.7 252.1h1v1h-1zM87.4 215.8h1v1h-1zM87.2 200.0h1v1h-1zM62.0 251.2h1v1h-1zM108.2 209.5h1v1h-1zM78.1 201.6h1v1h-1zM78.1 230.9h1v1h-1zM107.7 229.9h1v1h-1zM114.1 262.4h1v1h-1zM95.1 199.4h1v1h-1zM65.6 240.9h1v1h-1z" fill="#1a1aff" fill-opacity="0.3"/>
</g>
<ellipse cx="47.3" cy="251.3" rx="8.5" ry="7.6" fill="#1a1aff" fill-opacity="0.4" filter="url(#bl2)"/>
<ellipse cx="47.3" cy="251.3" rx="7.0" ry="6.2" fill="#0606f0" filter="url(#bl)"/>
</g>
<line x1="34.5" y1="218.7" x2="126.5" y2="218.7" stroke="#666" stroke-width="1.6"/>
<line x1="55.5" y1="192.5" x2="55.5" y2="265.5" stroke="#222" stroke-width="1.4"/>
<rect x="34.5" y="192.5" width="92.0" height="73.0" fill="none" stroke="#141414" stroke-width="1.15"/>
<line x1="31.0" y1="199.5" x2="34.5" y2="199.5" stroke="#222" stroke-width="1.2"/>
<line x1="31.0" y1="216.5" x2="34.5" y2="216.5" stroke="#222" stroke-width="1.2"/>
<line x1="31.0" y1="233.5" x2="34.5" y2="233.5" stroke="#222" stroke-width="1.2"/>
<line x1="31.0" y1="250.5" x2="34.5" y2="250.5" stroke="#222" stroke-width="1.2"/>
<line x1="32.0" y1="258.5" x2="34.5" y2="258.5" stroke="#222" stroke-width="1.2"/>
<line x1="34.5" y1="265.5" x2="34.5" y2="268.1" stroke="#222" stroke-width="1.2"/>
<line x1="44.0" y1="265.5" x2="44.0" y2="268.1" stroke="#222" stroke-width="1.2"/>
<line x1="53.8" y1="265.5" x2="53.8" y2="268.1" stroke="#222" stroke-width="1.2"/>
<line x1="76.0" y1="265.5" x2="76.0" y2="268.1" stroke="#222" stroke-width="1.2"/>
<line x1="97.2" y1="265.5" x2="97.2" y2="268.1" stroke="#222" stroke-width="1.2"/>
<line x1="117.7" y1="265.5" x2="117.7" y2="268.1" stroke="#222" stroke-width="1.2"/>
<text x="37.1" y="203.3" class="n">0</text>
<text x="58.3" y="203.3" class="n">5</text>
<text x="37.1" y="230.0" class="n">90</text>
<text x="58.5" y="230.0" class="n">5</text>
<text x="29.9" y="203.0" class="n" text-anchor="end">5</text>
<text x="29.9" y="220.1" class="n" text-anchor="end">4</text>
<text x="29.9" y="237.2" class="n" text-anchor="end">3</text>
<text x="29.9" y="254.3" class="n" text-anchor="end">2</text>
<text x="54.1" y="279.0" class="n" text-anchor="middle">2</text>
<text x="75.8" y="279.0" class="n" text-anchor="middle">3</text>
<text x="97.3" y="279.0" class="n" text-anchor="middle">4</text>
<text x="118.5" y="279.0" class="n" text-anchor="middle">5</text>
<g clip-path="url(#c21)">
<g filter="url(#dz)">
<path d="M160.3 257.6h1v1h-1zM153.4 251.5h1v1h-1zM157.6 250.9h1v1h-1zM143.9 249.1h1v1h-1zM155.5 253.6h1v1h-1zM144.8 256.0h1v1h-1zM153.4 244.7h1v1h-1zM154.3 255.2h1v1h-1zM154.7 249.7h1v1h-1zM146.7 255.7h1v1h-1zM152.9 251.0h1v1h-1zM149.1 246.6h1v1h-1zM140.2 249.5h1v1h-1zM158.2 254.2h1v1h-1zM147.4 257.4h1v1h-1zM150.1 246.8h1v1h-1zM157.4 256.8h1v1h-1zM149.2 245.8h1v1h-1zM151.1 240.8h1v1h-1zM151.8 257.4h1v1h-1zM153.1 247.9h1v1h-1zM155.8 248.9h1v1h-1zM159.1 249.5h1v1h-1zM163.8 249.5h1v1h-1zM152.7 247.0h1v1h-1zM143.8 252.4h1v1h-1zM153.6 246.9h1v1h-1zM154.9 249.3h1v1h-1zM148.2 250.7h1v1h-1zM153.9 254.1h1v1h-1zM158.9 252.6h1v1h-1zM147.1 248.1h1v1h-1zM153.7 246.0h1v1h-1zM150.5 249.4h1v1h-1zM150.9 251.8h1v1h-1zM157.8 257.9h1v1h-1zM156.8 255.3h1v1h-1zM145.1 255.4h1v1h-1zM159.3 245.3h1v1h-1zM166.7 248.6h1v1h-1zM137.2 258.4h1v1h-1zM151.9 247.6h1v1h-1zM148.0 255.5h1v1h-1zM153.0 249.4h1v1h-1zM158.4 247.0h1v1h-1zM146.4 248.6h1v1h-1zM147.0 253.9h1v1h-1zM150.1 246.6h1v1h-1zM148.7 242.6h1v1h-1zM152.5 251.4h1v1h-1zM155.2 250.0h1v1h-1zM153.9 247.1h1v1h-1zM151.6 251.7h1v1h-1zM144.2 253.5h1v1h-1zM152.4 251.2h1v1h-1zM148.6 259.4h1v1h-1zM151.5 247.8h1v1h-1zM146.4 253.5h1v1h-1zM150.2 247.7h1v1h-1zM147.1 254.9h1v1h-1zM152.0 255.4h1v1h-1zM151.4 246.0h1v1h-1zM156.7 252.3h1v1h-1zM147.6 249.7h1v1h-1zM145.7 254.5h1v1h-1zM149.0 253.0h1v1h-1zM153.1 249.9h1v1h-1zM153.7 250.0h1v1h-1zM144.4 249.2h1v1h-1zM144.4 254.2h1v1h-1zM155.4 248.5h1v1h-1zM155.2 252.0h1v1h-1zM157.4 247.1h1v1h-1zM151.7 246.8h1v1h-1zM147.4 256.7h1v1h-1zM139.4 247.2h1v1h-1zM154.4 254.3h1v1h-1zM146.8 242.5h1v1h-1zM141.2 252.5h1v1h-1zM158.1 254.8h1v1h-1zM147.1 256.7h1v1h-1zM150.4 253.6h1v1h-1zM150.3 257.7h1v1h-1zM148.4 242.0h1v1h-1zM149.6 251.8h1v1h-1zM153.2 248.0h1v1h-1zM150.1 246.2h1v1h-1zM150.1 251.4h1v1h-1zM152.9 257.9h1v1h-1zM139.5 253.2h1v1h-1zM154.1 246.1h1v1h-1zM151.9 251.0h1v1h-1zM145.5 254.0h1v1h-1zM163.0 253.8h1v1h-1zM156.2 255.5h1v1h-1zM150.7 255.1h1v1h-1zM146.7 251.7h1v1h-1zM155.7 256.5h1v1h-1zM149.8 249.8h1v1h-1zM154.3 250.7h1v1h-1zM152.3 254.4h1v1h-1zM146.9 254.7h1v1h-1zM153.8 249.9h1v1h-1zM144.0 248.4h1v1h-1zM151.2 254.9h1v1h-1zM139.7 254.0h1v1h-1zM152.7 246.3h1v1h-1zM156.6 252.7h1v1h-1zM154.1 246.9h1v1h-1zM144.9 254.8h1v1h-1zM159.9 252.5h1v1h-1zM150.3 249.1h1v1h-1zM141.3 255.1h1v1h-1zM150.9 256.1h1v1h-1zM147.2 255.4h1v1h-1zM147.2 253.4h1v1h-1zM159.7 248.1h1v1h-1zM156.9 251.0h1v1h-1zM145.9 251.8h1v1h-1zM155.3 248.0h1v1h-1zM149.9 248.6h1v1h-1zM146.9 250.1h1v1h-1zM156.4 248.9h1v1h-1zM158.9 249.4h1v1h-1zM147.4 255.5h1v1h-1zM159.9 248.3h1v1h-1zM155.0 246.2h1v1h-1zM149.1 249.4h1v1h-1zM155.7 245.8h1v1h-1zM148.5 248.1h1v1h-1zM152.1 245.9h1v1h-1zM143.5 262.8h1v1h-1zM152.8 244.7h1v1h-1zM156.5 245.5h1v1h-1zM140.3 257.9h1v1h-1zM158.9 247.5h1v1h-1zM145.0 253.0h1v1h-1zM163.6 253.5h1v1h-1zM155.4 246.1h1v1h-1zM140.9 252.6h1v1h-1zM157.5 251.6h1v1h-1zM151.5 256.7h1v1h-1zM146.5 255.6h1v1h-1zM156.4 248.4h1v1h-1zM152.2 251.5h1v1h-1zM154.9 246.9h1v1h-1zM150.1 251.4h1v1h-1zM151.7 251.1h1v1h-1zM153.0 250.2h1v1h-1zM148.5 255.3h1v1h-1zM147.7 249.7h1v1h-1zM146.3 246.2h1v1h-1zM154.1 250.8h1v1h-1zM150.7 252.9h1v1h-1zM150.5 253.8h1v1h-1zM162.2 252.4h1v1h-1zM149.9 257.9h1v1h-1zM155.7 244.1h1v1h-1zM159.4 251.9h1v1h-1zM156.5 246.2h1v1h-1zM146.5 248.3h1v1h-1zM154.8 246.3h1v1h-1zM147.3 254.9h1v1h-1zM147.7 251.5h1v1h-1zM146.2 244.0h1v1h-1zM151.0 250.5h1v1h-1zM143.0 255.0h1v1h-1zM156.3 254.7h1v1h-1zM148.5 246.3h1v1h-1zM151.0 251.7h1v1h-1zM150.5 248.6h1v1h-1zM145.6 248.0h1v1h-1zM151.0 249.0h1v1h-1zM161.3 249.9h1v1h-1zM154.2 249.1h1v1h-1zM150.4 247.0h1v1h-1zM148.6 244.8h1v1h-1zM139.3 256.5h1v1h-1zM145.3 252.8h1v1h-1zM150.8 248.7h1v1h-1zM155.8 248.7h1v1h-1zM154.1 249.5h1v1h-1zM157.2 254.9h1v1h-1zM151.9 255.5h1v1h-1zM154.5 257.4h1v1h-1zM150.8 244.6h1v1h-1zM152.7 252.0h1v1h-1zM149.4 250.1h1v1h-1zM149.9 245.8h1v1h-1zM161.6 247.8h1v1h-1zM145.2 244.5h1v1h-1zM146.5 250.8h1v1h-1zM160.2 253.5h1v1h-1zM147.2 245.9h1v1h-1zM144.9 250.7h1v1h-1zM156.6 249.0h1v1h-1zM160.9 259.0h1v1h-1zM152.4 242.1h1v1h-1zM157.9 250.6h1v1h-1zM155.4 255.1h1v1h-1zM145.6 251.3h1v1h-1zM152.5 247.9h1v1h-1zM155.6 250.5h1v1h-1zM149.1 258.7h1v1h-1zM152.5 257.7h1v1h-1zM150.6 255.3h1v1h-1zM147.1 251.6h1v1h-1zM157.8 242.1h1v1h-1zM154.6 249.9h1v1h-1zM157.9 251.7h1v1h-1zM151.0 245.7h1v1h-1zM168.7 248.0h1v1h-1zM149.6 248.0h1v1h-1zM149.7 251.9h1v1h-1zM143.6 255.3h1v1h-1zM149.9 253.5h1v1h-1zM139.1 248.8h1v1h-1zM149.7 249.4h1v1h-1zM147.6 252.3h1v1h-1zM153.9 247.0h1v1h-1zM140.0 254.0h1v1h-1zM149.6 255.4h1v1h-1zM156.6 250.6h1v1h-1zM143.1 249.5h1v1h-1zM147.2 256.1h1v1h-1zM141.5 254.8h1v1h-1zM142.4 248.6h1v1h-1zM143.2 248.1h1v1h-1zM148.9 252.5h1v1h-1zM148.0 253.8h1v1h-1zM161.7 251.6h1v1h-1zM144.7 250.3h1v1h-1zM150.9 249.5h1v1h-1zM158.2 255.7h1v1h-1zM163.2 253.1h1v1h-1zM135.9 250.4h1v1h-1zM155.4 247.7h1v1h-1zM147.9 254.7h1v1h-1zM152.3 246.4h1v1h-1zM148.1 238.3h1v1h-1zM151.4 246.0h1v1h-1zM151.2 246.1h1v1h-1zM146.0 248.9h1v1h-1zM167.8 246.1h1v1h-1zM144.5 248.8h1v1h-1zM157.7 254.3h1v1h-1zM155.5 249.7h1v1h-1zM152.2 247.8h1v1h-1zM150.4 247.7h1v1h-1zM142.9 246.9h1v1h-1z" fill="#1a1aff" fill-opacity="0.5"/>
<path d="M170.7 247.5h1v1h-1zM155.1 250.4h1v1h-1zM158.2 254.4h1v1h-1zM158.6 247.4h1v1h-1zM163.6 249.4h1v1h-1zM154.8 248.1h1v1h-1zM158.5 243.7h1v1h-1zM155.4 254.5h1v1h-1zM165.4 251.8h1v1h-1zM156.3 248.3h1v1h-1zM157.4 248.4h1v1h-1zM166.4 246.5h1v1h-1zM166.3 244.8h1v1h-1zM163.2 254.3h1v1h-1zM154.6 248.6h1v1h-1zM154.4 245.1h1v1h-1zM157.1 247.8h1v1h-1zM171.3 244.1h1v1h-1zM148.5 256.4h1v1h-1zM164.7 247.7h1v1h-1zM161.8 251.4h1v1h-1zM156.3 250.6h1v1h-1zM162.0 254.8h1v1h-1zM167.5 247.6h1v1h-1zM152.9 254.8h1v1h-1zM160.4 253.5h1v1h-1zM159.9 250.0h1v1h-1zM162.3 245.9h1v1h-1zM158.1 258.4h1v1h-1zM155.6 254.1h1v1h-1zM164.1 251.1h1v1h-1zM165.7 242.6h1v1h-1zM162.6 240.9h1v1h-1zM160.1 250.6h1v1h-1zM166.3 251.4h1v1h-1zM153.9 250.2h1v1h-1zM157.8 247.4h1v1h-1zM154.2 248.7h1v1h-1zM167.3 252.1h1v1h-1zM165.4 253.9h1v1h-1zM158.8 245.7h1v1h-1zM156.0 251.3h1v1h-1zM166.4 251.8h1v1h-1zM155.4 254.3h1v1h-1zM157.1 252.4h1v1h-1zM166.1 252.9h1v1h-1zM156.7 251.2h1v1h-1zM161.4 247.4h1v1h-1zM160.6 251.4h1v1h-1zM149.6 250.2h1v1h-1zM172.8 247.1h1v1h-1zM154.4 244.3h1v1h-1zM154.6 252.9h1v1h-1zM163.7 249.8h1v1h-1zM162.1 246.5h1v1h-1zM167.1 243.0h1v1h-1zM162.0 247.7h1v1h-1zM150.8 255.5h1v1h-1zM158.6 252.4h1v1h-1zM166.7 247.9h1v1h-1zM155.5 249.9h1v1h-1zM160.5 254.5h1v1h-1zM165.8 253.4h1v1h-1zM162.9 245.6h1v1h-1zM165.6 251.2h1v1h-1zM159.2 251.3h1v1h-1zM156.3 245.8h1v1h-1zM159.7 252.2h1v1h-1zM155.1 242.6h1v1h-1zM156.1 254.6h1v1h-1zM161.8 252.9h1v1h-1zM154.8 249.4h1v1h-1zM153.0 248.6h1v1h-1zM162.4 249.1h1v1h-1zM157.0 251.4h1v1h-1zM151.7 250.5h1v1h-1zM149.5 247.0h1v1h-1zM150.7 248.2h1v1h-1zM169.6 251.4h1v1h-1zM165.8 245.4h1v1h-1zM161.7 244.6h1v1h-1zM156.6 251.3h1v1h-1zM150.7 252.9h1v1h-1zM160.7 241.5h1v1h-1zM145.5 252.8h1v1h-1zM158.9 250.2h1v1h-1zM153.7 253.4h1v1h-1zM159.3 246.8h1v1h-1zM168.8 247.6h1v1h-1zM165.5 254.5h1v1h-1zM156.4 249.6h1v1h-1zM149.5 251.7h1v1h-1zM164.5 257.2h1v1h-1zM162.8 249.2h1v1h-1zM151.5 248.8h1v1h-1zM147.7 248.0h1v1h-1zM160.3 250.3h1v1h-1zM154.1 250.4h1v1h-1zM155.6 253.0h1v1h-1zM162.4 246.5h1v1h-1zM155.6 246.2h1v1h-1zM159.1 257.7h1v1h-1zM160.2 252.5h1v1h-1zM164.2 253.5h1v1h-1zM156.6 247.0h1v1h-1zM166.2 250.9h1v1h-1zM156.9 254.4h1v1h-1zM159.3 249.4h1v1h-1zM170.2 248.2h1v1h-1zM160.8 247.9h1v1h-1zM161.6 252.8h1v1h-1zM161.2 246.2h1v1h-1zM161.8 248.3h1v1h-1zM160.9 248.3h1v1h-1zM145.5 247.8h1v1h-1zM154.9 242.7h1v1h-1zM153.1 259.0h1v1h-1zM162.8 246.8h1v1h-1zM158.9 241.3h1v1h-1zM161.8 252.4h1v1h-1zM159.1 244.7h1v1h-1zM164.3 246.0h1v1h-1zM156.4 251.2h1v1h-1zM159.9 257.0h1v1h-1zM160.9 257.1h1v1h-1zM160.6 244.5h1v1h-1zM159.5 249.7h1v1h-1zM168.8 251.4h1v1h-1zM173.0 242.8h1v1h-1zM159.4 258.2h1v1h-1zM154.8 252.3h1v1h-1zM167.3 243.3h1v1h-1zM156.7 247.6h1v1h-1zM162.8 250.0h1v1h-1zM159.9 251.8h1v1h-1zM154.6 249.6h1v1h-1zM164.2 255.6h1v1h-1zM159.3 249.8h1v1h-1zM166.8 247.5h1v1h-1zM166.9 248.1h1v1h-1zM166.1 248.1h1v1h-1zM153.4 248.2h1v1h-1zM163.8 255.2h1v1h-1zM169.5 245.2h1v1h-1zM172.2 241.4h1v1h-1zM155.6 254.2h1v1h-1zM151.8 255.3h1v1h-1zM162.2 251.0h1v1h-1zM153.1 252.9h1v1h-1zM164.6 247.7h1v1h-1zM165.2 247.8h1v1h-1zM161.0 247.9h1v1h-1zM151.6 251.3h1v1h-1zM161.4 246.1h1v1h-1zM146.8 247.6h1v1h-1zM166.5 246.5h1v1h-1zM156.4 255.1h1v1h-1zM156.8 244.7h1v1h-1zM156.0 247.3h1v1h-1zM157.4 246.7h1v1h-1zM160.3 251.0h1v1h-1zM156.0 249.8h1v1h-1zM159.4 252.6h1v1h-1zM156.2 253.3h1v1h-1zM166.2 246.7h1v1h-1zM153.6 250.2h1v1h-1zM148.9 250.7h1v1h-1zM152.5 251.0h1v1h-1zM157.9 251.9h1v1h-1zM160.5 250.8h1v1h-1zM159.4 250.6h1v1h-1zM153.7 253.8h1v1h-1zM167.9 251.1h1v1h-1zM152.3 253.3h1v1h-1zM151.1 255.0h1v1h-1zM157.8 248.3h1v1h-1zM155.0 250.0h1v1h-1zM158.4 246.2h1v1h-1zM160.0 250.3h1v1h-1zM162.3 248.5h1v1h-1zM161.8 257.5h1v1h-1zM165.4 248.9h1v1h-1zM152.3 254.1h1v1h-1zM159.8 239.4h1v1h-1zM158.9 251.1h1v1h-1zM159.7 249.8h1v1h-1zM160.0 254.5h1v1h-1zM161.3 247.9h1v1h-1zM160.4 257.1h1v1h-1zM154.0 249.2h1v1h-1zM161.4 249.5h1v1h-1zM162.6 253.7h1v1h-1zM166.3 249.0h1v1h-1zM159.6 249.2h1v1h-1zM159.2 253.4h1v1h-1zM151.2 248.2h1v1h-1zM155.8 247.0h1v1h-1zM156.5 254.9h1v1h-1zM147.3 255.4h1v1h-1zM151.8 251.0h1v1h-1zM155.1 247.1h1v1h-1zM151.1 252.4h1v1h-1zM140.5 247.4h1v1h-1zM158.4 254.0h1v1h-1zM169.6 245.3h1v1h-1zM154.6 249.9h1v1h-1zM163.1 251.9h1v1h-1zM154.5 252.8h1v1h-1zM160.5 253.5h1v1h-1zM156.9 249.5h1v1h-1zM153.2 246.5h1v1h-1zM161.7 251.5h1v1h-1zM166.1 248.5h1v1h-1zM155.8 247.2h1v1h-1zM152.1 249.1h1v1h-1zM161.4 249.2h1v1h-1zM146.4 253.2h1v1h-1zM156.7 246.4h1v1h-1zM159.9 251.4h1v1h-1zM152.1 246.7h1v1h-1zM157.9 251.0h1v1h-1zM159.6 255.3h1v1h-1zM159.2 245.8h1v1h-1zM163.1 245.9h1v1h-1zM163.4 248.7h1v1h-1zM165.4 243.9h1v1h-1zM164.0 249.7h1v1h-1zM155.1 253.5h1v1h-1zM172.7 246.8h1v1h-1zM154.9 250.3h1v1h-1zM167.1 248.1h1v1h-1zM167.1 244.7h1v1h-1zM165.2 241.8h1v1h-1zM158.2 248.8h1v1h-1zM158.0 254.6h1v1h-1zM156.4 251.8h1v1h-1zM170.8 249.1h1v1h-1zM156.3 247.7h1v1h-1zM148.5 254.3h1v1h-1zM165.7 251.8h1v1h-1zM163.1 256.5h1v1h-1zM161.4 240.2h1v1h-1zM155.3 253.8h1v1h-1zM158.1 253.1h1v1h-1zM173.2 242.4h1v1h-1zM171.9 245.4h1v1h-1zM151.2 252.4h1v1h-1zM164.0 245.9h1v1h-1zM167.5 243.7h1v1h-1zM159.3 253.0h1v1h-1zM157.7 248.0h1v1h-1zM160.1 251.8h1v1h-1zM170.8 251.1h1v1h-1zM170.1 246.1h1v1h-1zM150.0 252.3h1v1h-1zM156.1 246.8h1v1h-1zM156.5 250.2h1v1h-1zM160.7 252.6h1v1h-1zM155.5 255.1h1v1h-1zM160.5 252.0h1v1h-1zM165.2 243.1h1v1h-1zM167.8 244.2h1v1h-1zM162.9 252.6h1v1h-1zM163.1 242.5h1v1h-1zM161.6 253.1h1v1h-1zM158.7 249.5h1v1h-1zM161.6 255.0h1v1h-1zM155.4 247.2h1v1h-1zM152.6 249.6h1v1h-1zM158.5 251.1h1v1h-1zM157.2 243.7h1v1h-1zM151.2 254.6h1v1h-1zM162.2 243.6h1v1h-1zM162.2 239.5h1v1h-1zM173.4 247.4h1v1h-1zM150.5 254.2h1v1h-1zM158.8 248.0h1v1h-1zM157.1 249.4h1v1h-1zM157.9 246.6h1v1h-1zM156.8 252.4h1v1h-1zM161.1 244.0h1v1h-1zM158.3 255.8h1v1h-1zM165.3 253.9h1v1h-1zM150.7 248.3h1v1h-1zM145.0 246.7h1v1h-1zM156.2 246.6h1v1h-1zM152.5 249.0h1v1h-1zM159.3 252.7h1v1h-1zM160.8 242.5h1v1h-1zM167.7 245.7h1v1h-1zM153.7 251.2h1v1h-1zM155.7 245.4h1v1h-1zM167.8 244.8h1v1h-1zM156.6 252.4h1v1h-1zM169.6 248.2h1v1h-1zM154.8 252.6h1v1h-1zM166.2 248.9h1v1h-1zM162.7 246.7h1v1h-1zM157.3 243.8h1v1h-1zM154.2 246.9h1v1h-1zM161.1 254.6h1v1h-1zM145.2 248.9h1v1h-1zM154.1 250.8h1v1h-1zM165.3 244.8h1v1h-1zM156.3 255.1h1v1h-1zM162.2 250.7h1v1h-1zM163.5 245.5h1v1h-1zM160.1 246.8h1v1h-1zM155.5 251.2h1v1h-1zM160.6 244.3h1v1h-1zM155.7 253.0h1v1h-1zM161.2 251.5h1v1h-1zM156.8 247.3h1v1h-1zM164.6 250.2h1v1h-1zM144.1 257.5h1v1h-1zM155.8 253.2h1v1h-1zM168.2 245.7h1v1h-1zM154.2 252.1h1v1h-1zM160.6 251.3h1v1h-1zM151.7 252.8h1v1h-1zM165.4 250.3h1v1h-1zM164.4 252.5h1v1h-1zM156.1 255.2h1v1h-1zM159.6 245.7h1v1h-1zM158.1 251.0h1v1h-1zM162.8 253.6h1v1h-1zM160.1 247.4h1v1h-1zM171.7 244.5h1v1h-1zM155.7 254.2h1v1h-1zM156.3 247.5h1v1h-1zM154.6 255.5h1v1h-1zM153.5 251.7h1v1h-1zM156.7 249.7h1v1h-1zM155.0 251.5h1v1h-1zM164.1 252.1h1v1h-1zM156.2 246.1h1v1h-1zM151.0 252.2h1v1h-1zM146.6 258.5h1v1h-1zM159.8 249.9h1v1h-1zM150.8 249.8h1v1h-1zM155.9 253.2h1v1h-1zM157.8 252.4h1v1h-1zM160.4 242.0h1v1h-1zM159.5 254.3h1v1h-1zM156.7 250.9h1v1h-1zM157.5 245.5h1v1h-1zM171.9 245.2h1v1h-1zM162.7 246.8h1v1h-1zM168.8 251.0h1v1h-1zM167.3 250.7h1v1h-1zM165.0 253.0h1v1h-1zM162.0 249.3h1v1h-1zM163.2 245.0h1v1h-1zM145.8 256.8h1v1h-1zM159.6 246.8h1v1h-1zM156.9 246.7h1v1h-1zM154.9 251.7h1v1h-1zM161.1 252.2h1v1h-1zM159.7 251.9h1v1h-1zM162.7 245.9h1v1h-1zM149.1 250.2h1v1h-1zM157.5 248.1h1v1h-1zM171.5 243.2h1v1h-1zM161.4 246.1h1v1h-1zM162.1 244.0h1v1h-1zM165.2 248.5h1v1h-1zM155.9 246.1h1v1h-1zM168.5 244.6h1v1h-1zM165.2 238.7h1v1h-1zM154.5 257.9h1v1h-1zM169.8 246.4h1v1h-1zM165.9 249.8h1v1h-1zM157.6 250.6h1v1h-1zM151.5 247.0h1v1h-1zM161.0 251.8h1v1h-1zM159.1 245.0h1v1h-1zM164.5 248.3h1v1h-1zM163.5 247.2h1v1h-1zM159.1 253.6h1v1h-1zM166.1 243.0h1v1h-1zM154.2 254.8h1v1h-1zM161.6 249.1h1v1h-1zM155.0 254.8h1v1h-1zM160.8 250.0h1v1h-1zM161.2 247.1h1v1h-1zM161.9 249.3h1v1h-1zM164.1 249.6h1v1h-1zM151.4 249.4h1v1h-1zM159.2 254.0h1v1h-1zM157.0 254.6h1v1h-1zM166.6 250.6h1v1h-1zM172.5 245.5h1v1h-1zM162.7 253.2h1v1h-1zM162.9 252.2h1v1h-1zM160.3 254.6h1v1h-1zM159.5 242.4h1v1h-1zM165.5 247.0h1v1h-1zM154.1 250.1h1v1h-1zM159.1 254.0h1v1h-1zM161.4 248.7h1v1h-1zM158.5 246.5h1v1h-1zM155.3 249.1h1v1h-1zM157.0 246.0h1v1h-1zM158.3 253.7h1v1h-1zM162.1 248.7h1v1h-1zM161.2 248.1h1v1h-1zM153.6 254.7h1v1h-1zM173.0 247.3h1v1h-1zM166.1 256.8h1v1h-1zM153.1 253.5h1v1h-1zM157.3 249.2h1v1h-1zM149.9 252.2h1v1h-1zM160.1 243.4h1v1h-1zM157.7 248.3h1v1h-1zM154.4 253.5h1v1h-1zM169.4 248.1h1v1h-1zM166.2 250.3h1v1h-1zM159.8 251.7h1v1h-1zM166.7 245.7h1v1h-1zM157.2 245.1h1v1h-1zM148.0 250.1h1v1h-1zM165.1 249.2h1v1h-1zM162.4 253.6h1v1h-1zM150.8 257.4h1v1h-1zM160.8 252.1h1v1h-1zM166.6 244.3h1v1h-1zM154.9 252.5h1v1h-1zM158.6 247.7h1v1h-1zM158.0 247.3h1v1h-1zM159.9 248.0h1v1h-1zM168.2 243.0h1v1h-1zM162.9 248.8h1v1h-1zM167.6 243.4h1v1h-1zM158.7 256.3h1v1h-1zM155.3 249.4h1v1h-1zM156.2 246.9h1v1h-1zM168.1 252.6h1v1h-1zM157.9 247.3h1v1h-1zM152.4 254.2h1v1h-1zM157.0 252.4h1v1h-1zM145.2 252.4h1v1h-1zM163.6 249.9h1v1h-1zM143.3 255.7h1v1h-1zM160.2 249.2h1v1h-1zM157.1 248.6h1v1h-1zM160.9 251.0h1v1h-1zM141.3 255.1h1v1h-1zM164.6 247.1h1v1h-1zM165.6 244.2h1v1h-1zM171.5 249.4h1v1h-1zM160.1 259.7h1v1h-1zM169.5 252.4h1v1h-1zM152.5 251.3h1v1h-1zM163.3 252.3h1v1h-1zM158.6 245.0h1v1h-1zM166.4 246.8h1v1h-1zM161.7 247.7h1v1h-1zM157.4 245.1h1v1h-1zM162.7 246.2h1v1h-1zM149.7 254.1h1v1h-1zM160.3 252.9h1v1h-1zM163.0 244.0h1v1h-1zM158.5 249.9h1v1h-1zM158.9 245.8h1v1h-1zM161.0 252.8h1v1h-1zM168.2 252.3h1v1h-1zM161.2 239.6h1v1h-1zM157.4 248.2h1v1h-1zM144.4 260.0h1v1h-1zM164.8 247.9h1v1h-1zM162.1 250.6h1v1h-1zM159.7 254.6h1v1h-1zM170.9 249.1h1v1h-1zM156.6 251.4h1v1h-1zM165.9 250.3h1v1h-1zM156.6 254.0h1v1h-1zM164.3 250.2h1v1h-1zM157.1 250.2h1v1h-1zM148.5 252.8h1v1h-1zM156.7 249.3h1v1h-1zM157.6 248.9h1v1h-1zM160.1 249.7h1v1h-1zM155.9 250.2h1v1h-1zM159.5 251.4h1v1h-1zM161.7 247.5h1v1h-1zM153.0 245.4h1v1h-1zM152.7 253.1h1v1h-1zM155.9 256.6h1v1h-1zM158.2 248.5h1v1h-1zM158.0 248.0h1v1h-1zM156.0 250.9h1v1h-1zM151.3 252.6h1v1h-1zM158.0 246.6h1v1h-1zM165.8 248.9h1v1h-1zM165.0 245.3h1v1h-1zM151.1 247.7h1v1h-1zM148.5 245.9h1v1h-1zM168.0 245.1h1v1h-1zM160.1 247.4h1v1h-1zM160.3 255.2h1v1h-1zM148.5 249.3h1v1h-1zM159.3 246.2h1v1h-1zM164.9 252.7h1v1h-1zM165.4 250.5h1v1h-1zM159.6 253.2h1v1h-1zM153.7 246.9h1v1h-1zM157.7 249.1h1v1h-1zM165.5 244.0h1v1h-1zM165.3 244.9h1v1h-1zM150.5 246.0h1v1h-1zM157.8 244.7h1v1h-1zM160.8 249.3h1v1h-1zM155.2 243.7h1v1h-1zM157.0 252.0h1v1h-1zM150.0 255.1h1v1h-1zM159.0 247.6h1v1h-1zM161.4 251.4h1v1h-1zM158.6 246.9h1v1h-1zM163.3 245.8h1v1h-1zM162.6 252.2h1v1h-1zM168.7 252.6h1v1h-1zM165.5 248.2h1v1h-1zM158.5 250.5h1v1h-1zM165.7 258.7h1v1h-1zM162.4 245.5h1v1h-1zM166.6 241.4h1v1h-1zM163.9 243.4h1v1h-1zM152.7 249.8h1v1h-1zM156.5 245.4h1v1h-1zM162.9 248.0h1v1h-1zM166.2 243.7h1v1h-1zM149.8 255.1h1v1h-1zM159.2 253.2h1v1h-1zM144.8 249.4h1v1h-1zM162.1 256.0h1v1h-1zM150.4 245.2h1v1h-1zM158.4 255.1h1v1h-1zM167.2 242.1h1v1h-1zM154.1 244.3h1v1h-1zM153.7 247.7h1v1h-1zM163.2 252.6h1v1h-1zM172.8 244.1h1v1h-1zM164.4 248.8h1v1h-1zM162.3 255.9h1v1h-1zM165.2 253.6h1v1h-1zM162.1 251.9h1v1h-1zM162.3 248.3h1v1h-1zM155.1 249.4h1v1h-1zM159.2 248.2h1v1h-1zM156.8 247.7h1v1h-1zM164.2 247.2h1v1h-1zM158.6 249.0h1v1h-1zM166.5 245.4h1v1h-1zM166.7 244.1h1v1h-1zM168.9 248.9h1v1h-1zM157.2 251.9h1v1h-1zM165.0 244.3h1v1h-1zM158.5 251.0h1v1h-1zM158.0 248.9h1v1h-1zM160.0 250.5h1v1h-1zM165.5 253.2h1v1h-1zM160.8 260.1h1v1h-1zM159.5 256.1h1v1h-1zM157.3 244.8h1v1h-1zM156.7 249.1h1v1h-1zM163.5 240.7h1v1h-1zM155.7 250.2h1v1h-1zM163.7 249.7h1v1h-1zM164.3 247.4h1v1h-1zM159.4 254.0h1v1h-1zM169.8 247.8h1v1h-1zM159.5 246.3h1v1h-1zM172.0 247.1h1v1h-1zM161.4 243.0h1v1h-1zM165.5 256.7h1v1h-1zM158.4 249.1h1v1h-1zM168.1 246.2h1v1h-1zM166.4 254.6h1v1h-1zM152.0 248.8h1v1h-1zM163.5 248.7h1v1h-1zM159.6 248.9h1v1h-1zM160.6 250.5h1v1h-1zM156.5 249.4h1v1h-1zM159.7 245.4h1v1h-1zM159.7 241.3h1v1h-1zM163.1 248.0h1v1h-1zM154.2 256.2h1v1h-1zM155.0 258.6h1v1h-1zM156.6 254.9h1v1h-1zM160.9 255.1h1v1h-1zM159.3 253.4h1v1h-1zM155.7 243.7h1v1h-1zM162.3 250.4h1v1h-1zM163.6 254.5h1v1h-1zM153.8 245.9h1v1h-1zM160.3 246.7h1v1h-1zM158.9 249.7h1v1h-1zM156.0 254.7h1v1h-1zM160.7 255.8h1v1h-1zM162.1 252.7h1v1h-1zM157.2 247.8h1v1h-1zM155.6 247.4h1v1h-1zM162.2 249.2h1v1h-1zM151.7 246.2h1v1h-1zM152.7 244.8h1v1h-1zM152.9 245.9h1v1h-1zM162.3 244.3h1v1h-1zM156.0 250.1h1v1h-1zM160.2 250.9h1v1h-1zM164.6 250.3h1v1h-1zM158.9 254.4h1v1h-1zM160.9 246.4h1v1h-1zM166.8 242.8h1v1h-1zM163.6 252.9h1v1h-1zM160.5 250.5h1v1h-1zM160.9 251.6h1v1h-1zM160.8 249.1h1v1h-1zM161.5 241.8h1v1h-1zM160.7 248.0h1v1h-1zM171.0 247.0h1v1h-1zM156.5 252.9h1v1h-1zM156.1 246.1h1v1h-1zM158.5 251.7h1v1h-1zM167.4 251.0h1v1h-1zM160.7 248.6h1v1h-1zM161.9 253.3h1v1h-1zM160.0 253.7h1v1h-1zM155.0 250.9h1v1h-1zM164.7 250.5h1v1h-1zM160.1 247.4h1v1h-1zM148.9 251.2h1v1h-1zM154.3 249.6h1v1h-1zM167.7 244.1h1v1h-1zM164.3 247.9h1v1h-1zM153.4 251.8h1v1h-1zM162.5 244.1h1v1h-1zM152.6 250.2h1v1h-1zM163.0 246.2h1v1h-1zM162.4 250.3h1v1h-1zM160.1 251.0h1v1h-1zM166.5 246.6h1v1h-1zM160.2 245.3h1v1h-1zM155.3 250.4h1v1h-1zM163.4 245.8h1v1h-1zM152.6 255.1h1v1h-1zM170.2 236.6h1v1h-1zM153.7 251.8h1v1h-1zM161.3 245.4h1v1h-1zM162.6 252.7h1v1h-1zM158.7 252.5h1v1h-1z" fill="#1a1aff" fill-opacity="0.7"/>
<path d="M167.2 241.9h1v1h-1zM160.9 245.8h1v1h-1zM181.7 247.2h1v1h-1zM167.2 238.7h1v1h-1zM162.4 246.4h1v1h-1zM149.7 252.9h1v1h-1zM168.0 239.6h1v1h-1zM162.9 245.9h1v1h-1zM185.7 243.2h1v1h-1zM174.8 244.3h1v1h-1zM157.2 254.9h1v1h-1zM158.2 240.2h1v1h-1zM173.7 242.5h1v1h-1zM168.4 248.8h1v1h-1zM166.1 249.1h1v1h-1zM178.9 240.7h1v1h-1zM164.3 247.8h1v1h-1zM172.8 242.5h1v1h-1zM167.2 243.2h1v1h-1zM167.7 249.2h1v1h-1zM159.7 248.4h1v1h-1zM153.0 248.3h1v1h-1zM169.1 248.6h1v1h-1zM157.9 249.5h1v1h-1zM159.5 251.0h1v1h-1zM170.7 247.6h1v1h-1zM163.3 240.9h1v1h-1zM160.2 242.4h1v1h-1zM161.2 248.5h1v1h-1zM176.4 240.0h1v1h-1zM160.8 250.0h1v1h-1zM151.8 262.3h1v1h-1zM155.1 256.2h1v1h-1zM178.1 247.5h1v1h-1zM167.8 250.1h1v1h-1zM165.9 251.9h1v1h-1zM160.2 245.1h1v1h-1zM170.3 243.2h1v1h-1zM172.3 240.4h1v1h-1zM168.4 241.2h1v1h-1zM170.1 256.4h1v1h-1zM155.7 244.6h1v1h-1zM152.5 250.8h1v1h-1zM181.6 239.1h1v1h-1zM175.7 242.6h1v1h-1zM165.0 257.5h1v1h-1zM174.4 234.7h1v1h-1zM159.3 251.6h1v1h-1zM173.1 243.3h1v1h-1zM171.3 247.8h1v1h-1zM165.9 252.1h1v1h-1zM161.0 252.7h1v1h-1zM176.2 244.3h1v1h-1zM164.3 247.6h1v1h-1zM147.7 255.0h1v1h-1zM151.3 242.3h1v1h-1zM173.0 239.9h1v1h-1zM170.8 245.5h1v1h-1zM150.0 248.4h1v1h-1zM165.8 249.5h1v1h-1zM166.1 240.7h1v1h-1zM162.9 248.7h1v1h-1zM155.2 248.8h1v1h-1zM159.1 238.9h1v1h-1zM184.7 244.7h1v1h-1zM164.8 252.3h1v1h-1zM160.5 256.8h1v1h-1zM164.4 248.4h1v1h-1zM162.4 248.8h1v1h-1zM170.6 245.5h1v1h-1zM161.2 252.6h1v1h-1zM172.6 244.7h1v1h-1zM175.9 239.7h1v1h-1zM178.9 241.5h1v1h-1zM180.6 239.5h1v1h-1zM165.6 248.3h1v1h-1zM179.8 249.3h1v1h-1zM162.2 244.8h1v1h-1zM176.5 249.5h1v1h-1zM173.4 242.7h1v1h-1zM179.1 242.2h1v1h-1zM170.1 248.7h1v1h-1zM158.7 238.3h1v1h-1zM170.7 249.0h1v1h-1zM172.4 247.5h1v1h-1zM170.7 250.6h1v1h-1zM171.0 252.7h1v1h-1zM169.3 249.9h1v1h-1zM163.0 249.7h1v1h-1zM171.6 245.7h1v1h-1zM181.6 241.6h1v1h-1zM178.3 244.3h1v1h-1zM176.0 238.9h1v1h-1zM165.8 252.0h1v1h-1zM160.7 251.0h1v1h-1zM173.0 245.5h1v1h-1zM172.4 247.5h1v1h-1zM166.0 249.1h1v1h-1zM162.1 246.2h1v1h-1zM152.9 251.3h1v1h-1zM152.1 252.3h1v1h-1zM167.7 241.0h1v1h-1zM168.6 247.6h1v1h-1zM162.9 243.6h1v1h-1zM167.2 248.7h1v1h-1zM179.1 252.0h1v1h-1zM150.1 254.6h1v1h-1zM170.4 242.2h1v1h-1zM173.8 254.7h1v1h-1zM170.8 252.2h1v1h-1zM176.5 241.0h1v1h-1zM148.4 259.3h1v1h-1zM178.7 233.6h1v1h-1zM164.6 244.1h1v1h-1zM169.5 246.1h1v1h-1zM177.0 240.1h1v1h-1zM182.3 232.5h1v1h-1zM173.8 257.7h1v1h-1zM167.6 249.6h1v1h-1zM168.6 262.7h1v1h-1zM175.1 242.0h1v1h-1zM150.5 253.8h1v1h-1zM170.9 235.0h1v1h-1zM164.0 250.6h1v1h-1zM145.4 253.6h1v1h-1zM150.9 245.8h1v1h-1zM173.1 250.2h1v1h-1zM177.0 239.7h1v1h-1zM169.3 236.9h1v1h-1zM154.9 253.8h1v1h-1zM162.2 243.3h1v1h-1zM150.1 251.7h1v1h-1zM184.5 230.1h1v1h-1zM159.8 255.0h1v1h-1zM149.1 250.1h1v1h-1zM170.0 251.3h1v1h-1zM169.8 254.9h1v1h-1zM167.1 246.1h1v1h-1zM172.1 246.6h1v1h-1zM152.3 247.3h1v1h-1zM165.9 248.8h1v1h-1zM155.2 247.4h1v1h-1zM161.3 250.5h1v1h-1zM164.6 250.6h1v1h-1zM169.6 241.1h1v1h-1zM162.8 241.9h1v1h-1zM169.8 249.8h1v1h-1zM155.6 241.9h1v1h-1zM171.7 243.5h1v1h-1zM168.0 248.6h1v1h-1zM172.5 249.4h1v1h-1zM159.8 238.2h1v1h-1zM162.6 246.8h1v1h-1zM164.4 249.6h1v1h-1zM167.3 253.1h1v1h-1zM161.7 248.6h1v1h-1zM167.7 257.2h1v1h-1zM157.2 245.2h1v1h-1zM165.3 251.2h1v1h-1zM167.3 245.7h1v1h-1zM150.8 242.1h1v1h-1zM165.2 246.1h1v1h-1zM184.2 242.3h1v1h-1zM173.0 249.4h1v1h-1zM157.3 244.0h1v1h-1zM166.6 254.4h1v1h-1zM175.6 240.6h1v1h-1zM157.7 254.8h1v1h-1zM175.7 237.9h1v1h-1zM180.9 237.7h1v1h-1zM174.0 243.1h1v1h-1zM163.5 244.9h1v1h-1zM174.9 247.0h1v1h-1zM174.4 242.5h1v1h-1zM163.2 258.9h1v1h-1zM182.9 239.9h1v1h-1zM159.4 257.0h1v1h-1zM168.8 246.3h1v1h-1zM175.9 245.2h1v1h-1zM171.8 255.0h1v1h-1zM151.2 255.7h1v1h-1zM158.6 250.1h1v1h-1zM166.4 248.3h1v1h-1zM146.5 257.7h1v1h-1zM188.2 236.8h1v1h-1zM176.8 246.3h1v1h-1zM169.4 243.2h1v1h-1zM173.8 245.6h1v1h-1zM182.2 245.4h1v1h-1zM156.2 235.8h1v1h-1zM182.2 243.6h1v1h-1zM168.1 243.2h1v1h-1zM192.8 244.1h1v1h-1zM167.8 244.5h1v1h-1zM175.0 250.7h1v1h-1zM173.8 249.0h1v1h-1zM170.5 247.2h1v1h-1zM156.0 251.3h1v1h-1zM167.9 246.0h1v1h-1zM165.8 248.7h1v1h-1zM161.8 247.6h1v1h-1zM159.2 261.3h1v1h-1zM157.3 244.1h1v1h-1zM161.9 246.4h1v1h-1zM153.6 239.2h1v1h-1zM184.4 245.5h1v1h-1zM164.9 250.3h1v1h-1zM154.6 243.0h1v1h-1zM171.5 248.0h1v1h-1zM161.1 248.8h1v1h-1zM138.8 256.3h1v1h-1zM177.6 243.7h1v1h-1zM170.1 248.5h1v1h-1zM146.0 247.8h1v1h-1zM156.1 251.9h1v1h-1zM158.6 240.2h1v1h-1zM175.5 242.6h1v1h-1zM180.0 252.1h1v1h-1zM150.1 246.4h1v1h-1zM179.8 249.2h1v1h-1zM171.8 246.8h1v1h-1zM175.0 247.1h1v1h-1zM156.9 254.2h1v1h-1zM176.0 241.3h1v1h-1zM158.2 247.4h1v1h-1zM162.9 250.9h1v1h-1zM174.8 244.0h1v1h-1zM161.7 239.6h1v1h-1zM161.9 243.5h1v1h-1zM162.9 249.9h1v1h-1zM174.8 261.7h1v1h-1zM158.5 247.1h1v1h-1zM156.4 249.2h1v1h-1zM166.5 252.0h1v1h-1zM150.8 257.2h1v1h-1zM172.6 242.0h1v1h-1zM161.4 249.7h1v1h-1zM172.1 244.0h1v1h-1zM166.1 247.1h1v1h-1zM157.8 251.4h1v1h-1zM173.0 244.8h1v1h-1zM156.9 250.4h1v1h-1zM167.0 248.3h1v1h-1zM165.0 251.6h1v1h-1zM179.0 246.5h1v1h-1zM171.7 251.2h1v1h-1zM166.8 245.9h1v1h-1zM154.2 251.5h1v1h-1zM177.3 238.1h1v1h-1zM172.7 238.2h1v1h-1zM173.2 253.6h1v1h-1zM166.0 241.1h1v1h-1zM169.9 244.9h1v1h-1zM174.0 241.5h1v1h-1zM150.5 250.3h1v1h-1zM174.6 249.1h1v1h-1zM170.1 245.7h1v1h-1zM173.5 243.3h1v1h-1zM163.6 249.1h1v1h-1zM176.9 240.6h1v1h-1zM171.1 242.0h1v1h-1zM160.9 249.8h1v1h-1zM153.7 247.3h1v1h-1zM155.4 247.9h1v1h-1zM162.7 260.0h1v1h-1zM173.2 244.8h1v1h-1zM151.1 240.6h1v1h-1zM170.5 242.2h1v1h-1zM176.6 241.2h1v1h-1zM154.2 248.2h1v1h-1zM150.9 245.5h1v1h-1zM173.2 241.8h1v1h-1zM173.0 241.7h1v1h-1zM164.4 244.9h1v1h-1zM161.3 245.5h1v1h-1zM181.3 241.2h1v1h-1zM152.0 260.7h1v1h-1zM181.0 247.2h1v1h-1zM166.2 246.2h1v1h-1zM163.2 248.7h1v1h-1zM171.8 244.9h1v1h-1zM158.2 245.1h1v1h-1zM185.7 248.3h1v1h-1zM154.8 248.0h1v1h-1zM168.0 249.3h1v1h-1zM166.7 248.0h1v1h-1zM172.7 250.3h1v1h-1zM157.0 255.8h1v1h-1zM172.4 247.4h1v1h-1zM153.0 250.7h1v1h-1zM166.0 250.2h1v1h-1zM174.9 247.2h1v1h-1zM157.3 256.5h1v1h-1zM169.5 250.4h1v1h-1zM166.2 243.5h1v1h-1zM193.0 240.5h1v1h-1zM173.8 241.9h1v1h-1zM167.1 252.2h1v1h-1zM174.4 252.7h1v1h-1zM176.9 237.7h1v1h-1zM154.9 256.9h1v1h-1zM172.6 243.4h1v1h-1zM163.8 245.1h1v1h-1zM183.9 239.7h1v1h-1zM155.9 255.2h1v1h-1zM167.2 248.4h1v1h-1zM163.7 247.7h1v1h-1zM150.6 255.3h1v1h-1zM160.4 247.2h1v1h-1zM172.4 251.1h1v1h-1zM147.0 253.3h1v1h-1zM174.1 249.1h1v1h-1zM159.4 251.1h1v1h-1zM172.6 249.3h1v1h-1zM161.3 247.9h1v1h-1zM164.4 253.3h1v1h-1zM176.8 240.9h1v1h-1zM166.4 248.0h1v1h-1zM158.8 249.2h1v1h-1zM176.7 247.0h1v1h-1zM160.0 246.1h1v1h-1zM163.9 240.6h1v1h-1zM170.5 246.0h1v1h-1zM154.5 250.1h1v1h-1zM160.7 247.7h1v1h-1zM161.3 255.5h1v1h-1zM159.5 253.2h1v1h-1zM171.6 252.1h1v1h-1zM166.8 246.8h1v1h-1zM165.0 238.2h1v1h-1zM189.5 237.5h1v1h-1zM162.6 242.8h1v1h-1zM168.6 254.0h1v1h-1zM161.0 251.1h1v1h-1zM178.5 247.2h1v1h-1zM160.8 240.5h1v1h-1zM172.1 247.7h1v1h-1zM163.6 245.9h1v1h-1zM181.3 233.8h1v1h-1zM161.6 245.7h1v1h-1zM151.6 249.0h1v1h-1zM161.8 254.7h1v1h-1zM148.8 246.7h1v1h-1zM167.4 239.1h1v1h-1zM147.6 250.8h1v1h-1zM154.5 246.5h1v1h-1zM166.6 249.1h1v1h-1zM160.9 247.6h1v1h-1zM173.8 243.5h1v1h-1zM173.3 241.6h1v1h-1zM173.9 250.4h1v1h-1zM159.1 264.2h1v1h-1zM163.8 246.3h1v1h-1zM166.6 249.2h1v1h-1zM156.1 250.9h1v1h-1zM164.1 254.7h1v1h-1zM152.2 255.3h1v1h-1zM163.2 244.5h1v1h-1zM168.3 245.1h1v1h-1zM168.1 247.5h1v1h-1zM178.0 240.8h1v1h-1zM178.8 229.3h1v1h-1zM186.3 245.6h1v1h-1zM182.3 242.1h1v1h-1zM168.4 241.3h1v1h-1zM178.1 237.1h1v1h-1zM159.9 249.3h1v1h-1zM170.1 247.3h1v1h-1zM155.9 249.1h1v1h-1zM173.8 250.0h1v1h-1zM175.2 245.8h1v1h-1zM164.1 245.2h1v1h-1zM162.4 248.0h1v1h-1zM171.5 242.7h1v1h-1zM185.1 235.3h1v1h-1zM174.7 243.0h1v1h-1zM165.4 245.5h1v1h-1zM181.3 240.1h1v1h-1zM172.7 245.2h1v1h-1zM175.3 246.6h1v1h-1zM181.7 237.9h1v1h-1zM162.3 256.7h1v1h-1zM179.4 242.6h1v1h-1zM165.1 248.7h1v1h-1zM178.4 238.9h1v1h-1zM180.9 241.4h1v1h-1zM163.4 246.2h1v1h-1zM148.2 255.2h1v1h-1zM154.2 248.7h1v1h-1zM159.3 250.7h1v1h-1zM174.2 244.3h1v1h-1zM169.8 247.7h1v1h-1zM183.3 243.6h1v1h-1zM182.0 241.0h1v1h-1zM169.6 242.7h1v1h-1zM171.6 241.0h1v1h-1zM170.8 242.3h1v1h-1zM165.9 253.0h1v1h-1zM170.0 249.5h1v1h-1zM162.2 239.5h1v1h-1zM180.9 240.8h1v1h-1zM162.8 252.9h1v1h-1zM155.6 247.3h1v1h-1zM177.0 239.8h1v1h-1zM177.4 241.5h1v1h-1zM165.5 247.6h1v1h-1zM164.3 252.9h1v1h-1zM177.7 243.2h1v1h-1zM173.9 246.9h1v1h-1zM180.6 234.1h1v1h-1zM178.4 247.0h1v1h-1zM164.4 247.8h1v1h-1zM166.0 253.1h1v1h-1zM157.6 253.1h1v1h-1zM180.3 244.7h1v1h-1zM162.2 246.3h1v1h-1zM145.9 249.5h1v1h-1zM176.1 238.9h1v1h-1zM151.6 251.2h1v1h-1zM154.1 253.7h1v1h-1zM160.7 253.7h1v1h-1zM164.1 241.0h1v1h-1zM159.1 246.5h1v1h-1zM161.4 254.8h1v1h-1zM158.5 251.6h1v1h-1zM162.8 251.1h1v1h-1zM151.6 244.9h1v1h-1zM174.4 251.0h1v1h-1zM153.9 250.0h1v1h-1zM161.2 244.4h1v1h-1zM176.5 243.5h1v1h-1zM154.1 250.4h1v1h-1zM178.8 239.1h1v1h-1zM161.3 244.9h1v1h-1zM168.0 243.7h1v1h-1zM174.4 240.1h1v1h-1zM154.4 253.5h1v1h-1zM136.2 253.5h1v1h-1zM170.4 246.7h1v1h-1zM161.3 246.7h1v1h-1zM178.0 260.7h1v1h-1zM159.6 248.6h1v1h-1zM164.0 250.5h1v1h-1zM168.3 249.0h1v1h-1zM182.2 239.9h1v1h-1zM165.2 249.2h1v1h-1zM186.5 237.9h1v1h-1zM185.0 245.9h1v1h-1zM140.2 251.8h1v1h-1zM158.8 251.7h1v1h-1zM179.9 242.3h1v1h-1zM172.3 255.3h1v1h-1zM174.1 254.5h1v1h-1zM161.5 256.7h1v1h-1zM158.9 238.1h1v1h-1zM158.9 247.5h1v1h-1zM168.1 250.0h1v1h-1zM174.7 246.5h1v1h-1zM163.1 256.8h1v1h-1zM178.7 242.7h1v1h-1zM161.9 248.4h1v1h-1zM164.2 244.4h1v1h-1zM166.3 243.8h1v1h-1zM172.4 241.7h1v1h-1zM172.5 246.3h1v1h-1zM169.8 248.3h1v1h-1zM161.8 261.1h1v1h-1zM162.0 252.1h1v1h-1zM166.9 244.7h1v1h-1zM185.4 245.4h1v1h-1zM165.7 250.0h1v1h-1zM176.3 251.0h1v1h-1zM176.6 242.4h1v1h-1zM163.2 242.5h1v1h-1zM171.2 249.4h1v1h-1zM164.8 250.8h1v1h-1zM167.9 244.2h1v1h-1zM157.7 255.5h1v1h-1zM192.0 240.3h1v1h-1zM155.7 245.9h1v1h-1zM170.8 248.5h1v1h-1zM177.9 231.1h1v1h-1zM185.0 241.0h1v1h-1zM169.3 247.8h1v1h-1zM163.6 246.6h1v1h-1zM174.6 235.6h1v1h-1zM167.2 249.4h1v1h-1zM151.7 251.6h1v1h-1zM182.4 243.0h1v1h-1zM175.2 247.2h1v1h-1zM170.0 247.4h1v1h-1zM159.5 248.5h1v1h-1zM182.9 235.0h1v1h-1zM163.9 241.8h1v1h-1zM161.2 245.1h1v1h-1zM156.3 251.8h1v1h-1zM159.4 252.1h1v1h-1zM180.4 229.5h1v1h-1zM162.6 238.2h1v1h-1zM166.9 248.6h1v1h-1zM171.3 251.0h1v1h-1zM166.2 238.7h1v1h-1zM180.1 237.4h1v1h-1zM167.1 248.3h1v1h-1zM159.3 250.0h1v1h-1zM178.8 234.3h1v1h-1zM151.1 250.4h1v1h-1zM163.9 241.7h1v1h-1zM147.2 258.4h1v1h-1zM169.0 239.6h1v1h-1zM172.7 244.3h1v1h-1zM166.9 240.3h1v1h-1zM166.1 249.4h1v1h-1zM149.3 248.1h1v1h-1zM179.7 251.8h1v1h-1zM173.6 244.0h1v1h-1zM156.6 248.6h1v1h-1zM165.8 249.3h1v1h-1zM168.9 258.1h1v1h-1zM176.5 232.6h1v1h-1zM156.5 250.6h1v1h-1zM177.3 244.9h1v1h-1zM139.0 249.0h1v1h-1zM181.1 244.5h1v1h-1zM192.8 241.2h1v1h-1zM174.2 251.6h1v1h-1zM162.4 245.8h1v1h-1zM158.3 251.1h1v1h-1zM173.1 249.1h1v1h-1zM182.1 244.3h1v1h-1zM178.7 241.3h1v1h-1zM159.6 253.0h1v1h-1zM179.1 248.8h1v1h-1zM165.2 245.1h1v1h-1zM164.6 249.4h1v1h-1zM166.7 245.9h1v1h-1zM169.4 244.4h1v1h-1zM169.7 242.8h1v1h-1zM152.5 250.5h1v1h-1zM184.0 236.6h1v1h-1zM178.2 249.2h1v1h-1zM162.8 249.5h1v1h-1zM146.9 256.9h1v1h-1zM182.3 242.1h1v1h-1zM147.9 250.9h1v1h-1zM160.7 249.6h1v1h-1zM169.5 243.8h1v1h-1zM163.3 244.1h1v1h-1zM173.2 245.4h1v1h-1zM170.0 243.2h1v1h-1zM171.7 243.6h1v1h-1zM170.0 244.8h1v1h-1zM159.5 244.1h1v1h-1zM147.8 247.1h1v1h-1zM177.0 259.1h1v1h-1zM150.8 248.7h1v1h-1zM173.0 262.0h1v1h-1zM163.7 242.2h1v1h-1zM174.7 254.1h1v1h-1zM139.3 251.1h1v1h-1zM177.3 237.3h1v1h-1zM165.5 244.2h1v1h-1zM172.4 237.6h1v1h-1zM170.8 246.4h1v1h-1zM173.5 246.5h1v1h-1zM166.1 238.3h1v1h-1zM163.0 243.5h1v1h-1zM172.1 243.7h1v1h-1zM170.7 250.8h1v1h-1zM169.2 254.2h1v1h-1zM173.0 237.2h1v1h-1zM163.9 253.8h1v1h-1zM164.7 253.4h1v1h-1zM162.0 247.9h1v1h-1zM174.7 236.1h1v1h-1zM167.5 244.3h1v1h-1zM171.8 253.4h1v1h-1zM170.0 239.0h1v1h-1zM175.8 241.3h1v1h-1zM170.9 251.0h1v1h-1zM166.1 251.8h1v1h-1zM167.7 242.0h1v1h-1zM162.4 241.7h1v1h-1zM178.9 243.2h1v1h-1zM174.8 238.3h1v1h-1zM173.6 238.4h1v1h-1zM170.1 245.5h1v1h-1zM162.4 249.9h1v1h-1zM166.4 242.6h1v1h-1zM158.4 243.4h1v1h-1zM180.6 242.5h1v1h-1zM165.2 250.8h1v1h-1zM157.6 244.4h1v1h-1zM173.4 252.2h1v1h-1zM170.6 246.2h1v1h-1zM181.5 233.8h1v1h-1zM194.5 231.2h1v1h-1zM164.7 240.9h1v1h-1zM155.7 249.6h1v1h-1zM189.0 234.0h1v1h-1zM162.1 249.8h1v1h-1zM157.5 248.9h1v1h-1zM171.7 234.2h1v1h-1zM164.2 246.3h1v1h-1zM162.5 247.8h1v1h-1zM149.9 250.8h1v1h-1zM161.0 243.8h1v1h-1zM182.6 250.9h1v1h-1zM173.6 240.0h1v1h-1zM181.7 243.8h1v1h-1zM160.8 251.9h1v1h-1zM163.0 251.0h1v1h-1zM178.0 248.4h1v1h-1zM157.4 249.6h1v1h-1zM165.6 241.2h1v1h-1zM172.5 248.1h1v1h-1zM153.6 248.8h1v1h-1zM155.1 244.7h1v1h-1zM159.7 256.2h1v1h-1zM160.6 247.1h1v1h-1zM178.4 247.6h1v1h-1zM177.4 232.6h1v1h-1zM171.8 236.2h1v1h-1zM160.9 246.9h1v1h-1zM165.3 257.0h1v1h-1zM167.8 252.2h1v1h-1zM165.7 246.9h1v1h-1zM173.0 246.7h1v1h-1zM169.4 237.2h1v1h-1zM172.8 246.2h1v1h-1zM173.1 244.2h1v1h-1zM169.3 239.4h1v1h-1zM176.2 237.3h1v1h-1zM182.3 246.1h1v1h-1zM166.4 245.4h1v1h-1zM174.3 242.5h1v1h-1zM156.8 251.8h1v1h-1zM155.3 248.7h1v1h-1zM185.7 243.9h1v1h-1zM163.2 247.7h1v1h-1zM161.4 248.7h1v1h-1zM155.0 254.5h1v1h-1zM166.7 243.8h1v1h-1zM165.9 260.1h1v1h-1zM162.6 245.9h1v1h-1zM161.2 246.3h1v1h-1zM180.9 245.0h1v1h-1zM172.0 246.7h1v1h-1zM153.0 239.8h1v1h-1zM182.8 244.5h1v1h-1zM170.0 247.0h1v1h-1zM169.4 245.9h1v1h-1zM161.5 237.6h1v1h-1zM172.9 244.8h1v1h-1zM177.2 244.5h1v1h-1zM165.8 250.1h1v1h-1zM168.6 243.9h1v1h-1zM163.3 245.9h1v1h-1zM164.0 245.6h1v1h-1zM181.4 255.9h1v1h-1zM168.2 251.8h1v1h-1zM143.8 239.1h1v1h-1zM162.8 247.4h1v1h-1zM158.4 243.1h1v1h-1zM158.7 247.2h1v1h-1zM168.4 244.5h1v1h-1zM155.6 249.0h1v1h-1zM180.3 237.4h1v1h-1zM169.7 250.7h1v1h-1zM159.0 246.8h1v1h-1zM196.7 242.0h1v1h-1zM162.8 249.0h1v1h-1zM168.7 246.8h1v1h-1zM171.4 243.6h1v1h-1zM145.1 249.9h1v1h-1zM166.7 240.0h1v1h-1zM166.9 254.2h1v1h-1zM168.7 242.8h1v1h-1zM170.5 250.6h1v1h-1zM149.4 246.9h1v1h-1zM160.6 246.8h1v1h-1zM165.7 244.3h1v1h-1zM168.7 246.5h1v1h-1zM155.6 247.8h1v1h-1zM156.3 252.0h1v1h-1zM171.0 248.5h1v1h-1zM158.4 247.2h1v1h-1zM146.7 254.2h1v1h-1zM152.9 253.6h1v1h-1zM178.3 244.8h1v1h-1zM173.8 245.3h1v1h-1zM172.5 249.3h1v1h-1zM182.6 251.0h1v1h-1zM166.3 251.1h1v1h-1zM176.3 245.4h1v1h-1zM168.0 240.0h1v1h-1zM176.3 238.9h1v1h-1zM160.0 245.0h1v1h-1zM171.2 240.3h1v1h-1zM172.7 247.4h1v1h-1zM167.9 244.7h1v1h-1zM175.2 250.2h1v1h-1zM161.5 243.5h1v1h-1zM160.5 244.7h1v1h-1zM165.0 246.6h1v1h-1zM148.2 260.8h1v1h-1zM159.2 247.4h1v1h-1zM146.0 244.6h1v1h-1zM158.3 251.0h1v1h-1zM172.6 235.7h1v1h-1zM172.0 252.4h1v1h-1zM166.3 251.5h1v1h-1zM168.9 241.4h1v1h-1zM175.8 240.4h1v1h-1zM170.2 243.5h1v1h-1zM165.7 247.9h1v1h-1zM177.2 234.6h1v1h-1zM157.2 250.8h1v1h-1zM176.3 242.3h1v1h-1zM166.6 249.4h1v1h-1zM180.8 237.2h1v1h-1zM152.1 250.7h1v1h-1zM172.6 238.1h1v1h-1zM179.6 246.7h1v1h-1zM173.5 240.1h1v1h-1zM156.4 253.8h1v1h-1zM171.0 248.6h1v1h-1zM150.2 238.2h1v1h-1zM179.6 247.0h1v1h-1zM164.9 247.4h1v1h-1zM172.9 248.2h1v1h-1zM164.9 244.9h1v1h-1zM160.0 254.3h1v1h-1zM163.0 231.3h1v1h-1zM169.8 242.8h1v1h-1zM154.7 248.6h1v1h-1zM154.8 248.9h1v1h-1zM163.2 250.6h1v1h-1zM155.1 242.0h1v1h-1zM159.6 242.6h1v1h-1zM174.1 243.1h1v1h-1zM150.4 248.4h1v1h-1zM167.2 246.4h1v1h-1zM150.0 252.2h1v1h-1zM171.8 249.8h1v1h-1zM177.6 242.2h1v1h-1zM154.7 249.3h1v1h-1zM172.1 240.3h1v1h-1zM177.8 238.0h1v1h-1zM158.3 254.0h1v1h-1zM167.1 248.2h1v1h-1zM164.7 247.7h1v1h-1zM165.0 256.8h1v1h-1zM173.4 243.7h1v1h-1zM173.2 248.5h1v1h-1zM162.8 249.1h1v1h-1zM168.5 243.3h1v1h-1zM159.9 248.3h1v1h-1zM164.0 245.7h1v1h-1zM149.4 253.5h1v1h-1zM173.7 244.6h1v1h-1zM184.9 244.4h1v1h-1zM163.1 244.8h1v1h-1zM171.6 243.2h1v1h-1zM152.5 252.6h1v1h-1zM164.3 246.5h1v1h-1zM173.5 245.2h1v1h-1zM185.3 236.4h1v1h-1zM167.1 248.2h1v1h-1zM162.5 245.8h1v1h-1zM181.6 234.2h1v1h-1zM168.0 237.7h1v1h-1zM167.6 237.0h1v1h-1zM158.4 255.4h1v1h-1zM182.1 241.8h1v1h-1zM143.6 260.2h1v1h-1zM168.0 240.8h1v1h-1zM162.1 242.0h1v1h-1zM166.5 246.4h1v1h-1zM169.9 249.5h1v1h-1zM157.9 239.1h1v1h-1zM154.5 245.0h1v1h-1zM163.3 245.9h1v1h-1zM169.3 252.6h1v1h-1zM166.0 241.7h1v1h-1zM163.2 243.7h1v1h-1zM166.2 249.8h1v1h-1zM158.0 253.4h1v1h-1zM186.6 247.0h1v1h-1zM182.8 241.3h1v1h-1zM158.0 259.8h1v1h-1zM167.4 247.7h1v1h-1zM162.7 243.6h1v1h-1zM171.1 238.3h1v1h-1zM155.5 253.6h1v1h-1zM162.7 244.1h1v1h-1zM174.4 251.0h1v1h-1zM164.6 246.9h1v1h-1zM174.2 248.7h1v1h-1zM178.2 245.9h1v1h-1zM162.1 251.1h1v1h-1zM164.9 239.1h1v1h-1zM180.0 244.8h1v1h-1zM180.2 241.5h1v1h-1zM174.2 243.7h1v1h-1zM170.5 249.9h1v1h-1zM169.0 249.0h1v1h-1zM169.1 251.9h1v1h-1zM171.0 237.1h1v1h-1zM183.7 242.7h1v1h-1zM161.7 245.5h1v1h-1zM186.2 240.1h1v1h-1zM173.2 247.3h1v1h-1zM164.7 256.1h1v1h-1zM185.9 235.9h1v1h-1zM175.5 235.6h1v1h-1zM164.5 247.9h1v1h-1zM168.9 248.8h1v1h-1zM171.9 246.7h1v1h-1zM166.7 248.3h1v1h-1zM165.4 256.9h1v1h-1zM170.0 251.7h1v1h-1zM168.3 245.5h1v1h-1zM163.8 241.5h1v1h-1zM187.6 241.2h1v1h-1zM168.0 244.1h1v1h-1zM178.9 240.7h1v1h-1zM162.4 245.7h1v1h-1zM182.4 242.6h1v1h-1zM165.1 244.2h1v1h-1zM180.0 243.4h1v1h-1zM165.8 251.5h1v1h-1zM174.1 239.2h1v1h-1zM180.0 247.3h1v1h-1zM163.2 241.6h1v1h-1zM177.2 241.3h1v1h-1zM165.2 245.9h1v1h-1zM166.3 251.0h1v1h-1zM158.2 252.5h1v1h-1zM180.0 247.1h1v1h-1zM174.7 245.2h1v1h-1zM165.5 246.6h1v1h-1zM162.0 256.7h1v1h-1zM164.9 242.5h1v1h-1zM177.7 250.2h1v1h-1zM169.6 244.2h1v1h-1zM158.2 253.1h1v1h-1zM164.3 244.5h1v1h-1zM171.1 238.9h1v1h-1zM170.6 233.5h1v1h-1zM159.6 242.4h1v1h-1zM166.5 250.7h1v1h-1zM157.6 256.7h1v1h-1zM160.5 246.7h1v1h-1zM175.6 240.0h1v1h-1zM180.7 240.7h1v1h-1zM165.2 242.7h1v1h-1zM178.1 242.3h1v1h-1zM161.6 244.0h1v1h-1zM161.6 248.2h1v1h-1zM162.2 252.3h1v1h-1zM166.3 243.9h1v1h-1zM174.1 251.0h1v1h-1zM148.9 255.0h1v1h-1zM177.8 243.4h1v1h-1zM172.8 237.1h1v1h-1zM162.3 253.3h1v1h-1zM166.8 247.0h1v1h-1zM174.0 245.9h1v1h-1zM171.0 242.8h1v1h-1zM166.9 253.1h1v1h-1zM160.8 242.0h1v1h-1zM165.8 251.5h1v1h-1zM184.4 241.1h1v1h-1zM162.9 251.2h1v1h-1zM172.3 250.5h1v1h-1zM173.6 247.9h1v1h-1zM173.0 246.5h1v1h-1zM159.0 248.8h1v1h-1zM184.5 246.8h1v1h-1zM177.1 244.9h1v1h-1zM167.2 248.3h1v1h-1zM166.3 252.2h1v1h-1zM163.6 244.3h1v1h-1zM155.3 258.5h1v1h-1zM159.4 245.3h1v1h-1zM174.2 252.8h1v1h-1zM173.3 242.8h1v1h-1zM171.6 241.0h1v1h-1zM165.4 247.4h1v1h-1zM169.0 249.7h1v1h-1zM175.6 252.7h1v1h-1zM174.9 242.4h1v1h-1zM168.7 242.0h1v1h-1zM161.6 247.0h1v1h-1zM175.9 240.1h1v1h-1zM151.8 247.3h1v1h-1zM156.4 249.7h1v1h-1zM163.1 242.5h1v1h-1zM159.8 247.3h1v1h-1zM172.3 247.7h1v1h-1zM179.5 240.9h1v1h-1zM173.6 244.6h1v1h-1zM156.8 247.4h1v1h-1zM187.5 238.4h1v1h-1zM184.1 244.4h1v1h-1zM182.7 240.1h1v1h-1zM175.8 242.0h1v1h-1zM155.9 245.1h1v1h-1zM169.3 238.1h1v1h-1zM169.8 241.5h1v1h-1zM168.9 239.4h1v1h-1zM175.2 242.6h1v1h-1zM151.6 245.4h1v1h-1zM165.9 239.2h1v1h-1zM171.6 247.4h1v1h-1zM164.0 254.5h1v1h-1zM181.5 242.9h1v1h-1zM172.7 246.9h1v1h-1zM167.5 252.8h1v1h-1zM159.1 237.5h1v1h-1zM168.7 248.2h1v1h-1zM173.6 238.9h1v1h-1zM179.2 238.3h1v1h-1zM174.7 247.4h1v1h-1zM171.2 250.6h1v1h-1zM166.6 256.8h1v1h-1zM171.7 243.0h1v1h-1zM191.5 237.7h1v1h-1zM155.3 257.8h1v1h-1zM181.0 238.8h1v1h-1zM160.6 254.5h1v1h-1zM166.9 242.1h1v1h-1zM163.6 248.3h1v1h-1zM179.2 249.8h1v1h-1zM164.6 255.0h1v1h-1zM155.2 254.4h1v1h-1zM167.3 248.7h1v1h-1zM162.8 244.8h1v1h-1zM172.2 250.2h1v1h-1zM147.8 253.9h1v1h-1zM162.6 243.1h1v1h-1zM156.5 253.0h1v1h-1zM173.9 247.3h1v1h-1zM147.5 246.5h1v1h-1zM161.6 246.6h1v1h-1zM183.3 238.9h1v1h-1zM170.6 250.2h1v1h-1zM183.6 242.4h1v1h-1zM174.0 253.5h1v1h-1zM161.4 240.1h1v1h-1zM160.6 247.5h1v1h-1zM180.3 243.4h1v1h-1zM179.0 242.8h1v1h-1zM167.4 243.8h1v1h-1zM157.5 252.6h1v1h-1zM172.1 247.6h1v1h-1zM162.4 246.3h1v1h-1zM172.3 247.7h1v1h-1zM184.6 236.0h1v1h-1zM178.3 246.9h1v1h-1zM165.7 247.8h1v1h-1zM169.8 253.1h1v1h-1zM191.5 239.3h1v1h-1zM167.1 251.3h1v1h-1zM172.1 243.9h1v1h-1zM176.1 247.6h1v1h-1zM165.6 251.3h1v1h-1zM145.5 248.3h1v1h-1zM165.3 248.1h1v1h-1zM157.0 257.5h1v1h-1zM164.7 248.3h1v1h-1zM168.7 249.7h1v1h-1zM163.8 251.5h1v1h-1zM158.1 242.8h1v1h-1zM172.8 245.4h1v1h-1zM172.9 235.2h1v1h-1zM167.9 243.3h1v1h-1zM165.6 245.3h1v1h-1zM163.5 244.8h1v1h-1zM174.5 235.6h1v1h-1zM153.3 253.4h1v1h-1zM185.0 236.4h1v1h-1zM157.9 244.4h1v1h-1zM160.6 255.1h1v1h-1zM175.5 248.0h1v1h-1zM171.4 246.2h1v1h-1zM161.1 244.2h1v1h-1zM177.4 254.9h1v1h-1zM166.5 253.0h1v1h-1zM161.6 248.9h1v1h-1zM183.2 240.4h1v1h-1zM172.8 241.9h1v1h-1zM183.1 234.9h1v1h-1zM172.6 243.5h1v1h-1zM170.3 247.3h1v1h-1zM181.2 245.8h1v1h-1zM178.0 244.4h1v1h-1zM160.3 255.6h1v1h-1zM182.6 243.3h1v1h-1zM174.8 242.7h1v1h-1zM156.4 255.4h1v1h-1zM164.3 257.0h1v1h-1zM174.1 244.0h1v1h-1zM162.5 248.9h1v1h-1zM158.1 248.1h1v1h-1zM182.0 239.8h1v1h-1zM184.5 239.9h1v1h-1zM170.2 241.0h1v1h-1zM164.5 245.5h1v1h-1zM158.3 259.3h1v1h-1zM173.1 244.1h1v1h-1zM158.0 250.1h1v1h-1zM156.8 245.7h1v1h-1zM169.6 256.2h1v1h-1zM152.9 254.5h1v1h-1zM158.4 235.7h1v1h-1zM154.8 250.5h1v1h-1zM167.3 242.9h1v1h-1zM184.9 242.8h1v1h-1zM159.6 241.4h1v1h-1zM168.4 242.9h1v1h-1zM175.5 238.5h1v1h-1zM178.0 240.4h1v1h-1zM169.2 244.6h1v1h-1zM175.3 249.2h1v1h-1zM161.5 244.3h1v1h-1zM186.6 244.2h1v1h-1zM186.7 244.1h1v1h-1zM171.6 252.9h1v1h-1zM161.1 246.8h1v1h-1zM165.3 250.7h1v1h-1zM159.8 248.5h1v1h-1zM159.8 248.2h1v1h-1zM179.8 247.4h1v1h-1zM169.8 258.1h1v1h-1zM162.2 250.7h1v1h-1zM160.0 238.5h1v1h-1zM159.0 255.7h1v1h-1zM157.3 264.5h1v1h-1zM167.1 248.0h1v1h-1zM179.3 242.3h1v1h-1zM161.1 245.9h1v1h-1zM160.1 251.9h1v1h-1zM164.3 250.2h1v1h-1zM153.4 249.5h1v1h-1zM187.2 241.1h1v1h-1zM168.7 251.8h1v1h-1zM172.7 252.1h1v1h-1zM158.4 253.6h1v1h-1zM159.2 252.9h1v1h-1zM192.6 244.8h1v1h-1zM160.6 251.1h1v1h-1zM170.9 241.8h1v1h-1zM168.3 241.0h1v1h-1zM178.1 247.1h1v1h-1zM167.4 249.9h1v1h-1zM189.3 237.8h1v1h-1zM151.2 254.1h1v1h-1zM162.4 244.6h1v1h-1zM177.6 247.7h1v1h-1zM175.8 251.5h1v1h-1zM161.4 246.7h1v1h-1zM167.4 233.4h1v1h-1zM143.4 257.0h1v1h-1zM165.9 247.4h1v1h-1zM159.3 250.6h1v1h-1zM176.4 240.2h1v1h-1zM172.7 243.9h1v1h-1zM166.5 247.4h1v1h-1zM182.4 243.6h1v1h-1zM174.3 244.8h1v1h-1zM149.6 257.6h1v1h-1zM167.7 246.9h1v1h-1zM160.7 241.5h1v1h-1zM184.3 249.3h1v1h-1zM179.2 233.2h1v1h-1zM170.9 239.5h1v1h-1zM165.2 244.8h1v1h-1zM160.9 245.2h1v1h-1zM164.5 251.4h1v1h-1zM183.9 245.0h1v1h-1zM167.4 245.8h1v1h-1zM165.5 247.2h1v1h-1zM161.8 247.7h1v1h-1zM175.1 242.6h1v1h-1zM160.1 248.6h1v1h-1zM168.4 245.8h1v1h-1zM166.4 250.3h1v1h-1zM165.7 242.2h1v1h-1zM171.8 241.5h1v1h-1zM176.1 247.4h1v1h-1zM172.6 246.1h1v1h-1zM155.0 250.1h1v1h-1zM169.8 248.8h1v1h-1zM157.2 249.5h1v1h-1zM153.9 252.4h1v1h-1zM168.6 246.7h1v1h-1zM184.0 244.1h1v1h-1zM165.0 244.6h1v1h-1z" fill="#1a1aff" fill-opacity="0.55"/>
<path d="M178.8 245.9h1v1h-1zM190.4 232.4h1v1h-1zM179.4 237.5h1v1h-1zM189.6 237.4h1v1h-1zM171.8 237.6h1v1h-1zM192.4 225.5h1v1h-1zM154.7 230.1h1v1h-1zM202.4 227.1h1v1h-1zM192.3 238.7h1v1h-1zM193.5 242.1h1v1h-1zM176.6 241.5h1v1h-1zM193.7 238.1h1v1h-1zM171.7 238.6h1v1h-1zM166.7 247.5h1v1h-1zM172.2 233.0h1v1h-1zM176.4 243.8h1v1h-1zM183.1 237.3h1v1h-1zM185.1 242.4h1v1h-1zM166.7 240.2h1v1h-1zM194.0 239.2h1v1h-1zM164.7 241.7h1v1h-1zM199.3 237.1h1v1h-1zM182.6 245.9h1v1h-1zM200.0 241.2h1v1h-1zM163.5 238.4h1v1h-1zM176.1 241.5h1v1h-1zM178.5 242.4h1v1h-1zM200.5 238.9h1v1h-1zM192.5 234.9h1v1h-1zM200.8 234.5h1v1h-1zM184.3 238.2h1v1h-1zM167.0 260.2h1v1h-1zM183.6 244.7h1v1h-1zM205.9 227.9h1v1h-1zM171.5 250.6h1v1h-1zM182.1 232.9h1v1h-1zM192.2 235.1h1v1h-1zM165.3 229.3h1v1h-1zM171.8 246.2h1v1h-1zM172.8 249.8h1v1h-1zM206.5 231.1h1v1h-1zM184.0 237.9h1v1h-1zM191.2 235.6h1v1h-1zM196.5 242.8h1v1h-1zM188.7 230.0h1v1h-1zM188.3 234.9h1v1h-1zM187.5 243.5h1v1h-1zM175.0 243.7h1v1h-1zM195.7 227.9h1v1h-1zM181.4 244.5h1v1h-1zM181.7 246.4h1v1h-1zM167.1 235.5h1v1h-1zM185.5 236.9h1v1h-1zM187.5 243.5h1v1h-1zM192.3 232.6h1v1h-1zM172.8 230.2h1v1h-1zM171.7 245.3h1v1h-1zM180.5 230.0h1v1h-1zM190.2 235.6h1v1h-1zM192.9 232.3h1v1h-1zM189.6 228.7h1v1h-1zM159.5 243.4h1v1h-1zM190.3 238.5h1v1h-1zM161.5 249.0h1v1h-1zM193.1 245.9h1v1h-1zM191.5 238.7h1v1h-1zM165.3 248.9h1v1h-1zM159.5 246.8h1v1h-1zM175.3 235.6h1v1h-1zM170.3 243.3h1v1h-1zM186.5 233.1h1v1h-1zM186.7 242.1h1v1h-1zM186.1 250.4h1v1h-1zM176.5 236.7h1v1h-1zM163.5 254.3h1v1h-1zM188.7 235.2h1v1h-1zM184.8 237.3h1v1h-1zM191.2 235.3h1v1h-1zM184.0 237.9h1v1h-1zM166.7 230.9h1v1h-1zM184.7 229.8h1v1h-1zM187.6 241.2h1v1h-1zM200.5 226.5h1v1h-1zM185.6 244.1h1v1h-1zM173.0 239.2h1v1h-1zM191.6 249.1h1v1h-1zM195.8 239.9h1v1h-1zM172.8 247.6h1v1h-1zM191.1 227.0h1v1h-1zM181.4 238.3h1v1h-1zM184.6 226.6h1v1h-1zM189.4 236.2h1v1h-1zM173.7 228.7h1v1h-1zM157.7 245.9h1v1h-1zM189.8 238.8h1v1h-1zM185.8 226.3h1v1h-1zM187.1 246.1h1v1h-1zM166.3 250.3h1v1h-1zM175.0 245.9h1v1h-1zM178.9 229.8h1v1h-1zM173.3 251.5h1v1h-1zM183.5 247.0h1v1h-1zM187.5 242.9h1v1h-1zM177.9 242.5h1v1h-1zM179.8 246.3h1v1h-1zM178.1 248.4h1v1h-1zM196.0 225.3h1v1h-1zM181.1 243.3h1v1h-1zM203.9 237.8h1v1h-1zM178.5 229.2h1v1h-1zM189.5 232.2h1v1h-1zM184.8 240.8h1v1h-1zM168.8 252.0h1v1h-1zM193.1 238.5h1v1h-1zM189.1 238.7h1v1h-1zM165.2 243.0h1v1h-1zM189.8 233.8h1v1h-1zM182.8 241.4h1v1h-1zM183.2 240.5h1v1h-1zM187.0 237.2h1v1h-1zM169.0 243.0h1v1h-1zM190.5 231.2h1v1h-1zM187.5 239.0h1v1h-1zM165.3 227.6h1v1h-1zM179.6 235.1h1v1h-1zM177.0 247.6h1v1h-1zM174.1 245.0h1v1h-1zM183.4 240.0h1v1h-1zM198.7 219.1h1v1h-1zM191.9 234.2h1v1h-1zM177.0 237.0h1v1h-1zM182.2 239.5h1v1h-1zM175.6 252.9h1v1h-1zM173.2 242.1h1v1h-1zM168.2 246.2h1v1h-1zM188.2 243.9h1v1h-1zM191.2 232.1h1v1h-1zM198.9 231.4h1v1h-1zM202.7 242.0h1v1h-1zM174.7 235.2h1v1h-1zM191.0 245.1h1v1h-1zM188.6 243.8h1v1h-1zM190.3 241.7h1v1h-1zM195.4 231.7h1v1h-1zM165.9 245.3h1v1h-1zM170.2 236.4h1v1h-1zM181.5 244.2h1v1h-1zM157.9 239.4h1v1h-1zM188.3 230.8h1v1h-1zM180.6 248.9h1v1h-1zM194.8 236.3h1v1h-1zM181.0 221.6h1v1h-1zM188.6 239.0h1v1h-1zM166.9 246.9h1v1h-1zM186.4 236.7h1v1h-1zM192.4 240.8h1v1h-1zM181.6 237.8h1v1h-1zM171.5 251.3h1v1h-1zM176.2 243.9h1v1h-1zM200.2 236.7h1v1h-1zM167.6 244.8h1v1h-1zM170.0 233.4h1v1h-1zM174.3 246.4h1v1h-1zM184.8 236.7h1v1h-1zM180.8 232.1h1v1h-1zM172.9 242.0h1v1h-1zM189.5 234.0h1v1h-1zM180.6 242.1h1v1h-1zM194.6 225.6h1v1h-1zM187.9 238.0h1v1h-1zM181.5 241.2h1v1h-1zM160.1 248.7h1v1h-1zM176.1 233.6h1v1h-1zM190.6 234.9h1v1h-1zM179.7 245.3h1v1h-1zM169.9 239.6h1v1h-1zM192.7 240.6h1v1h-1zM202.5 227.6h1v1h-1zM162.3 237.8h1v1h-1zM168.9 245.6h1v1h-1zM177.4 236.8h1v1h-1zM169.0 240.2h1v1h-1zM180.5 247.8h1v1h-1zM191.7 244.3h1v1h-1zM192.4 240.0h1v1h-1zM195.5 236.6h1v1h-1zM201.1 238.7h1v1h-1zM201.9 232.3h1v1h-1zM179.2 257.2h1v1h-1zM179.8 243.7h1v1h-1zM175.8 237.3h1v1h-1zM183.7 231.1h1v1h-1zM183.2 248.1h1v1h-1zM184.9 243.5h1v1h-1zM189.5 238.7h1v1h-1zM184.2 242.4h1v1h-1zM172.5 247.2h1v1h-1zM168.1 240.2h1v1h-1zM172.0 234.6h1v1h-1zM161.1 250.7h1v1h-1zM188.7 240.9h1v1h-1zM206.1 230.3h1v1h-1zM188.0 231.8h1v1h-1zM186.6 229.8h1v1h-1zM200.8 225.0h1v1h-1zM178.9 245.6h1v1h-1zM160.8 257.1h1v1h-1zM171.7 245.0h1v1h-1zM192.6 235.8h1v1h-1zM190.6 232.3h1v1h-1zM182.9 224.5h1v1h-1zM196.5 228.8h1v1h-1zM172.2 243.5h1v1h-1zM198.4 227.7h1v1h-1zM180.5 237.5h1v1h-1zM168.3 236.4h1v1h-1zM189.7 240.7h1v1h-1zM173.9 244.2h1v1h-1zM187.4 239.5h1v1h-1zM179.9 240.5h1v1h-1zM182.0 232.2h1v1h-1zM181.9 244.6h1v1h-1zM178.6 249.5h1v1h-1zM176.3 234.4h1v1h-1zM175.1 233.2h1v1h-1zM184.4 227.7h1v1h-1zM181.2 238.1h1v1h-1zM179.3 243.3h1v1h-1zM183.4 235.0h1v1h-1zM189.4 233.2h1v1h-1zM194.5 242.9h1v1h-1zM187.9 243.0h1v1h-1zM168.3 248.8h1v1h-1zM164.9 245.4h1v1h-1zM182.8 221.2h1v1h-1zM171.2 238.7h1v1h-1zM171.3 243.9h1v1h-1zM185.7 230.0h1v1h-1zM170.3 231.9h1v1h-1zM168.9 230.9h1v1h-1zM166.3 249.1h1v1h-1zM189.2 230.9h1v1h-1zM183.5 233.5h1v1h-1zM197.3 244.4h1v1h-1zM152.6 246.0h1v1h-1zM173.4 239.8h1v1h-1zM202.3 241.1h1v1h-1zM182.9 243.1h1v1h-1zM163.5 245.1h1v1h-1zM178.1 240.0h1v1h-1zM181.0 229.3h1v1h-1zM175.3 256.4h1v1h-1zM162.8 247.8h1v1h-1zM190.6 238.9h1v1h-1zM178.3 230.1h1v1h-1zM172.7 232.9h1v1h-1zM203.8 232.5h1v1h-1zM189.9 237.3h1v1h-1zM180.1 248.0h1v1h-1zM192.7 239.0h1v1h-1zM189.6 241.0h1v1h-1zM179.5 243.2h1v1h-1zM181.8 237.7h1v1h-1zM193.7 248.6h1v1h-1zM162.8 256.9h1v1h-1zM179.6 248.3h1v1h-1zM170.0 243.2h1v1h-1zM192.5 234.4h1v1h-1zM182.4 231.1h1v1h-1zM173.0 254.2h1v1h-1zM183.0 238.3h1v1h-1zM164.0 240.0h1v1h-1zM170.2 244.0h1v1h-1zM178.8 236.6h1v1h-1zM174.5 243.2h1v1h-1zM190.9 226.2h1v1h-1zM168.7 252.4h1v1h-1zM165.0 243.8h1v1h-1zM187.1 249.2h1v1h-1zM152.4 232.5h1v1h-1zM183.2 245.9h1v1h-1zM181.1 234.3h1v1h-1zM178.7 227.0h1v1h-1zM194.0 244.1h1v1h-1zM181.2 245.1h1v1h-1zM173.5 252.7h1v1h-1zM172.6 238.0h1v1h-1zM169.0 233.0h1v1h-1zM193.6 247.7h1v1h-1zM165.5 245.0h1v1h-1zM185.1 234.2h1v1h-1zM165.3 248.6h1v1h-1zM192.7 235.5h1v1h-1zM169.1 242.7h1v1h-1zM160.3 248.1h1v1h-1zM197.5 240.2h1v1h-1zM181.6 242.3h1v1h-1zM176.2 242.6h1v1h-1zM175.4 243.2h1v1h-1zM176.3 243.0h1v1h-1zM189.0 236.2h1v1h-1zM168.6 248.3h1v1h-1zM177.6 237.8h1v1h-1zM185.6 232.2h1v1h-1zM193.0 238.4h1v1h-1zM172.3 238.7h1v1h-1zM178.0 234.9h1v1h-1zM186.4 222.4h1v1h-1zM182.3 236.9h1v1h-1zM171.1 248.1h1v1h-1zM177.3 244.3h1v1h-1zM176.1 239.9h1v1h-1zM189.5 242.5h1v1h-1zM192.3 234.8h1v1h-1zM196.8 230.8h1v1h-1zM162.2 235.2h1v1h-1zM163.7 241.3h1v1h-1zM162.9 249.6h1v1h-1zM181.8 239.1h1v1h-1zM183.8 237.8h1v1h-1zM178.0 238.9h1v1h-1zM179.3 232.9h1v1h-1zM199.1 242.3h1v1h-1zM187.3 252.2h1v1h-1zM173.1 249.1h1v1h-1zM165.3 250.4h1v1h-1zM175.8 248.6h1v1h-1zM185.0 244.4h1v1h-1zM189.4 239.7h1v1h-1zM182.3 249.8h1v1h-1zM186.6 240.6h1v1h-1zM196.5 231.4h1v1h-1zM203.1 237.6h1v1h-1zM178.9 230.9h1v1h-1zM194.0 232.1h1v1h-1zM182.9 239.7h1v1h-1zM193.4 238.7h1v1h-1zM160.1 244.2h1v1h-1zM185.7 238.9h1v1h-1zM191.5 239.1h1v1h-1zM197.5 227.9h1v1h-1zM196.6 235.7h1v1h-1zM186.5 242.0h1v1h-1zM179.6 245.1h1v1h-1zM181.0 244.5h1v1h-1zM176.1 249.6h1v1h-1zM163.4 242.8h1v1h-1zM181.6 241.1h1v1h-1zM171.9 240.9h1v1h-1zM186.8 244.3h1v1h-1zM194.5 230.9h1v1h-1zM180.1 238.0h1v1h-1zM163.9 244.0h1v1h-1zM190.6 226.7h1v1h-1zM215.0 231.9h1v1h-1zM200.8 232.6h1v1h-1zM157.6 252.6h1v1h-1zM197.5 228.9h1v1h-1zM197.1 238.0h1v1h-1zM191.9 240.1h1v1h-1zM189.5 240.5h1v1h-1zM195.5 236.4h1v1h-1zM189.5 239.0h1v1h-1zM181.0 233.9h1v1h-1zM159.6 242.0h1v1h-1zM164.6 236.8h1v1h-1zM188.3 234.5h1v1h-1zM202.9 251.3h1v1h-1zM188.9 233.3h1v1h-1zM185.2 236.6h1v1h-1zM189.7 250.0h1v1h-1zM202.0 239.4h1v1h-1zM189.0 248.3h1v1h-1zM192.7 240.7h1v1h-1zM167.4 241.4h1v1h-1zM182.9 237.5h1v1h-1zM171.1 230.5h1v1h-1zM173.2 242.3h1v1h-1zM182.4 232.0h1v1h-1zM184.5 250.4h1v1h-1zM178.6 227.6h1v1h-1zM179.6 240.4h1v1h-1zM195.8 234.8h1v1h-1zM197.3 235.1h1v1h-1zM197.6 241.8h1v1h-1zM198.8 233.5h1v1h-1zM198.0 258.8h1v1h-1zM168.8 246.2h1v1h-1zM185.1 233.3h1v1h-1zM190.2 234.8h1v1h-1zM190.7 236.9h1v1h-1zM174.0 249.7h1v1h-1zM205.6 235.5h1v1h-1zM180.5 228.4h1v1h-1zM185.1 237.8h1v1h-1zM168.4 232.2h1v1h-1zM188.8 243.0h1v1h-1zM194.8 249.2h1v1h-1zM161.9 250.2h1v1h-1zM184.7 247.7h1v1h-1zM178.9 234.1h1v1h-1zM182.0 242.2h1v1h-1zM171.8 238.4h1v1h-1zM186.6 243.2h1v1h-1zM180.3 243.3h1v1h-1zM175.3 239.8h1v1h-1zM186.0 244.1h1v1h-1zM198.5 231.5h1v1h-1zM191.2 248.6h1v1h-1zM189.8 233.6h1v1h-1zM182.7 229.5h1v1h-1zM157.1 244.7h1v1h-1zM170.7 235.1h1v1h-1zM191.7 232.2h1v1h-1zM182.8 239.5h1v1h-1zM176.6 233.7h1v1h-1zM197.8 219.3h1v1h-1zM183.0 243.6h1v1h-1zM179.2 239.8h1v1h-1zM185.6 239.4h1v1h-1zM180.6 247.2h1v1h-1zM190.8 245.7h1v1h-1zM177.9 227.7h1v1h-1zM162.5 244.1h1v1h-1zM182.7 228.1h1v1h-1zM178.6 249.2h1v1h-1zM183.6 233.9h1v1h-1zM180.8 240.6h1v1h-1zM176.4 239.6h1v1h-1zM175.3 243.6h1v1h-1zM202.3 240.5h1v1h-1zM173.8 258.4h1v1h-1zM177.0 232.0h1v1h-1zM165.9 247.1h1v1h-1zM182.6 234.8h1v1h-1zM172.5 241.9h1v1h-1zM186.1 242.1h1v1h-1zM182.0 223.4h1v1h-1zM175.9 243.7h1v1h-1zM187.6 242.3h1v1h-1zM169.4 255.2h1v1h-1zM168.4 243.7h1v1h-1zM175.5 238.9h1v1h-1zM175.3 247.6h1v1h-1zM191.0 237.9h1v1h-1zM166.5 241.7h1v1h-1zM182.0 242.0h1v1h-1zM175.1 240.4h1v1h-1zM210.1 227.9h1v1h-1zM172.6 226.8h1v1h-1z" fill="#1a1aff" fill-opacity="0.4"/>
<path d="M199.3 209.4h1v1h-1zM204.2 204.6h1v1h-1zM204.3 206.7h1v1h-1zM199.0 208.2h1v1h-1zM199.5 206.5h1v1h-1zM201.7 207.0h1v1h-1zM200.1 207.3h1v1h-1zM201.6 207.0h1v1h-1zM202.8 205.6h1v1h-1zM196.9 207.1h1v1h-1zM205.8 206.8h1v1h-1zM202.2 205.5h1v1h-1zM197.5 205.2h1v1h-1zM198.4 206.4h1v1h-1zM196.3 207.0h1v1h-1zM196.3 208.2h1v1h-1zM201.2 204.0h1v1h-1zM199.7 207.2h1v1h-1zM203.0 207.7h1v1h-1zM200.4 206.6h1v1h-1zM200.9 207.6h1v1h-1zM199.2 206.7h1v1h-1zM202.0 206.1h1v1h-1zM198.1 209.1h1v1h-1zM203.1 205.2h1v1h-1zM208.1 204.9h1v1h-1zM198.6 206.4h1v1h-1zM203.6 208.8h1v1h-1zM206.3 207.1h1v1h-1zM201.9 207.7h1v1h-1zM198.8 205.9h1v1h-1zM203.4 206.8h1v1h-1zM202.2 205.1h1v1h-1zM202.2 204.4h1v1h-1zM204.7 206.4h1v1h-1zM199.3 206.2h1v1h-1zM211.4 210.5h1v1h-1zM199.4 209.0h1v1h-1zM192.0 209.4h1v1h-1zM201.7 207.1h1v1h-1zM198.1 205.0h1v1h-1zM202.3 206.0h1v1h-1zM203.4 208.1h1v1h-1zM201.3 207.6h1v1h-1zM202.2 207.0h1v1h-1zM199.9 207.2h1v1h-1zM203.0 206.7h1v1h-1zM199.8 204.7h1v1h-1zM198.2 209.4h1v1h-1zM205.0 206.8h1v1h-1zM202.5 206.4h1v1h-1zM204.0 207.9h1v1h-1zM200.8 207.3h1v1h-1zM204.5 204.0h1v1h-1zM198.3 206.2h1v1h-1zM197.6 206.4h1v1h-1zM198.7 206.4h1v1h-1zM203.0 204.8h1v1h-1zM202.1 208.8h1v1h-1zM202.0 204.8h1v1h-1zM199.7 208.7h1v1h-1zM200.6 205.8h1v1h-1zM204.1 205.4h1v1h-1zM197.9 208.0h1v1h-1zM201.5 205.7h1v1h-1zM203.3 208.2h1v1h-1zM205.2 206.5h1v1h-1zM203.2 207.3h1v1h-1zM196.8 209.7h1v1h-1zM199.3 206.1h1v1h-1zM198.7 205.5h1v1h-1zM205.3 206.3h1v1h-1zM199.4 204.1h1v1h-1zM202.1 206.6h1v1h-1zM198.1 206.9h1v1h-1zM195.5 208.3h1v1h-1zM197.6 207.9h1v1h-1zM201.6 203.5h1v1h-1zM197.7 206.1h1v1h-1zM204.3 207.3h1v1h-1zM203.9 209.0h1v1h-1zM200.5 206.0h1v1h-1zM195.1 205.8h1v1h-1zM203.3 205.2h1v1h-1zM198.8 208.4h1v1h-1zM193.5 209.6h1v1h-1zM205.6 203.6h1v1h-1zM203.1 206.5h1v1h-1zM204.6 205.9h1v1h-1zM201.4 208.9h1v1h-1zM199.6 207.5h1v1h-1zM203.7 206.3h1v1h-1zM204.6 207.2h1v1h-1zM204.1 203.8h1v1h-1zM198.1 207.5h1v1h-1zM205.7 208.5h1v1h-1zM201.5 205.6h1v1h-1zM197.6 204.1h1v1h-1zM200.0 207.8h1v1h-1zM201.1 204.5h1v1h-1zM201.3 206.8h1v1h-1zM199.3 209.2h1v1h-1zM203.2 208.2h1v1h-1zM201.8 205.2h1v1h-1zM205.4 208.0h1v1h-1zM199.4 204.9h1v1h-1zM204.2 205.6h1v1h-1zM197.7 207.0h1v1h-1zM203.3 205.4h1v1h-1zM201.8 208.2h1v1h-1zM203.8 204.1h1v1h-1zM204.2 209.2h1v1h-1zM204.6 206.3h1v1h-1zM202.6 204.2h1v1h-1zM199.5 206.1h1v1h-1zM208.5 206.0h1v1h-1zM198.6 209.6h1v1h-1zM205.4 203.8h1v1h-1zM200.6 204.2h1v1h-1zM204.7 202.9h1v1h-1zM207.6 204.5h1v1h-1zM198.4 210.3h1v1h-1zM203.4 207.1h1v1h-1zM204.3 204.9h1v1h-1zM204.5 206.0h1v1h-1zM203.4 206.9h1v1h-1zM206.0 204.3h1v1h-1zM197.0 208.2h1v1h-1zM209.6 206.7h1v1h-1zM201.1 207.8h1v1h-1zM197.6 207.3h1v1h-1zM196.0 207.5h1v1h-1zM204.3 209.0h1v1h-1zM200.0 208.3h1v1h-1zM205.9 204.7h1v1h-1zM200.4 204.0h1v1h-1zM198.7 207.7h1v1h-1zM194.8 206.9h1v1h-1zM204.2 208.6h1v1h-1zM193.3 208.1h1v1h-1zM199.2 203.4h1v1h-1zM198.3 207.9h1v1h-1zM201.6 207.8h1v1h-1zM200.7 207.8h1v1h-1zM198.2 205.6h1v1h-1zM200.8 204.1h1v1h-1zM205.7 205.9h1v1h-1zM198.2 205.7h1v1h-1zM198.4 207.2h1v1h-1zM200.5 208.1h1v1h-1z" fill="#1a1aff" fill-opacity="0.85"/>
<path d="M192.0 207.5h1v1h-1zM189.9 206.8h1v1h-1zM206.3 205.9h1v1h-1zM203.7 206.4h1v1h-1zM192.2 205.5h1v1h-1zM192.3 208.5h1v1h-1zM200.7 213.9h1v1h-1zM208.3 208.1h1v1h-1zM193.1 207.8h1v1h-1zM194.0 213.1h1v1h-1zM194.8 210.2h1v1h-1zM191.1 209.6h1v1h-1zM191.5 206.6h1v1h-1zM199.6 207.2h1v1h-1zM198.3 206.9h1v1h-1zM193.7 207.2h1v1h-1zM198.0 204.8h1v1h-1zM201.9 207.1h1v1h-1zM194.6 210.5h1v1h-1zM194.9 202.8h1v1h-1zM205.7 205.4h1v1h-1zM207.1 207.2h1v1h-1zM193.8 210.2h1v1h-1zM201.5 209.0h1v1h-1zM199.2 210.7h1v1h-1zM203.8 205.7h1v1h-1zM190.0 207.8h1v1h-1zM198.8 204.6h1v1h-1zM197.9 210.7h1v1h-1zM196.2 210.0h1v1h-1zM193.0 205.2h1v1h-1zM203.9 206.1h1v1h-1zM200.1 209.3h1v1h-1zM207.6 203.1h1v1h-1zM202.0 207.2h1v1h-1zM199.9 211.2h1v1h-1zM197.1 205.7h1v1h-1zM201.0 201.9h1v1h-1zM200.5 204.7h1v1h-1zM200.3 205.1h1v1h-1zM201.4 206.1h1v1h-1zM194.6 208.7h1v1h-1zM202.5 202.7h1v1h-1zM191.2 207.1h1v1h-1zM196.7 210.4h1v1h-1zM207.8 207.2h1v1h-1zM204.8 205.6h1v1h-1zM190.9 208.5h1v1h-1zM188.9 211.9h1v1h-1zM200.3 209.6h1v1h-1zM194.5 203.5h1v1h-1zM197.6 208.3h1v1h-1zM197.2 205.9h1v1h-1zM199.0 206.5h1v1h-1zM206.2 203.1h1v1h-1zM185.9 208.1h1v1h-1zM199.8 203.2h1v1h-1zM198.5 208.1h1v1h-1zM200.6 207.5h1v1h-1zM193.9 204.0h1v1h-1zM203.9 205.6h1v1h-1zM191.1 211.5h1v1h-1zM202.1 199.9h1v1h-1zM213.4 205.9h1v1h-1zM189.6 210.2h1v1h-1zM200.8 209.8h1v1h-1zM198.2 203.0h1v1h-1zM197.5 206.1h1v1h-1zM200.2 206.4h1v1h-1zM201.5 203.8h1v1h-1zM195.3 206.1h1v1h-1zM200.5 202.7h1v1h-1zM199.1 212.7h1v1h-1zM188.5 210.5h1v1h-1zM199.4 209.3h1v1h-1zM198.9 207.6h1v1h-1zM200.8 207.9h1v1h-1zM191.7 207.4h1v1h-1zM209.3 209.4h1v1h-1zM193.5 205.2h1v1h-1zM197.8 209.7h1v1h-1zM203.7 205.1h1v1h-1zM185.0 208.3h1v1h-1zM189.4 210.8h1v1h-1zM207.2 207.8h1v1h-1zM202.1 208.0h1v1h-1zM209.3 208.6h1v1h-1zM206.5 203.4h1v1h-1zM195.6 207.3h1v1h-1zM185.8 207.6h1v1h-1zM198.4 206.9h1v1h-1zM213.0 205.1h1v1h-1zM197.4 206.8h1v1h-1zM196.3 203.8h1v1h-1zM205.0 206.4h1v1h-1zM200.6 206.9h1v1h-1zM193.7 203.6h1v1h-1zM197.0 208.5h1v1h-1zM198.0 208.8h1v1h-1zM194.0 206.8h1v1h-1zM199.4 206.7h1v1h-1zM199.9 210.3h1v1h-1zM196.2 207.6h1v1h-1zM195.0 208.7h1v1h-1zM199.7 205.1h1v1h-1zM192.5 204.7h1v1h-1zM197.0 207.5h1v1h-1zM195.7 207.0h1v1h-1zM199.9 212.6h1v1h-1zM205.8 211.9h1v1h-1zM199.4 207.4h1v1h-1zM209.8 206.8h1v1h-1zM202.2 205.4h1v1h-1zM195.6 209.2h1v1h-1zM194.9 205.8h1v1h-1zM190.1 208.6h1v1h-1zM198.1 208.4h1v1h-1zM193.3 204.5h1v1h-1zM204.9 206.4h1v1h-1zM202.8 203.8h1v1h-1z" fill="#1a1aff" fill-opacity="0.55"/>
<path d="M220.2 196.6h1v1h-1zM214.9 201.8h1v1h-1zM218.7 196.3h1v1h-1zM211.7 199.1h1v1h-1zM214.0 196.8h1v1h-1zM209.9 199.4h1v1h-1zM219.6 198.1h1v1h-1zM205.0 200.9h1v1h-1zM211.3 200.4h1v1h-1zM219.3 197.6h1v1h-1zM219.3 197.0h1v1h-1zM219.7 198.7h1v1h-1zM219.1 196.6h1v1h-1zM214.5 199.7h1v1h-1zM210.9 199.7h1v1h-1zM217.8 199.1h1v1h-1zM219.3 198.0h1v1h-1zM209.9 200.7h1v1h-1zM223.9 195.6h1v1h-1zM205.3 200.4h1v1h-1zM212.9 200.4h1v1h-1zM211.3 203.3h1v1h-1zM217.2 197.1h1v1h-1zM221.9 194.5h1v1h-1zM211.0 200.6h1v1h-1zM215.2 200.6h1v1h-1zM211.4 201.0h1v1h-1zM210.4 203.7h1v1h-1zM213.4 198.6h1v1h-1zM224.8 193.5h1v1h-1zM223.7 196.7h1v1h-1zM221.1 197.4h1v1h-1zM224.8 192.1h1v1h-1zM217.9 199.5h1v1h-1zM217.5 198.1h1v1h-1zM217.1 197.7h1v1h-1zM220.6 198.7h1v1h-1zM223.4 196.6h1v1h-1zM218.3 197.2h1v1h-1zM205.4 203.7h1v1h-1z" fill="#1a1aff" fill-opacity="0.4"/>
<path d="M214.7 245.2h1v1h-1zM174.1 240.0h1v1h-1zM193.3 234.0h1v1h-1zM186.8 233.9h1v1h-1zM196.6 217.6h1v1h-1zM183.4 207.3h1v1h-1zM201.4 250.6h1v1h-1zM174.0 235.4h1v1h-1zM185.0 208.5h1v1h-1zM162.8 198.9h1v1h-1zM209.1 205.3h1v1h-1zM177.7 230.2h1v1h-1zM171.9 234.8h1v1h-1zM190.7 211.2h1v1h-1zM204.6 238.7h1v1h-1zM223.2 218.7h1v1h-1zM211.3 237.6h1v1h-1zM197.4 198.9h1v1h-1zM179.4 224.8h1v1h-1zM161.6 203.0h1v1h-1zM214.5 203.8h1v1h-1zM196.6 212.2h1v1h-1zM194.3 222.4h1v1h-1zM176.6 226.7h1v1h-1zM177.4 258.8h1v1h-1zM189.8 204.9h1v1h-1zM209.0 207.3h1v1h-1zM209.1 247.7h1v1h-1zM221.2 230.7h1v1h-1zM209.3 248.7h1v1h-1zM213.9 236.5h1v1h-1zM219.3 245.7h1v1h-1zM184.5 220.8h1v1h-1zM215.6 257.7h1v1h-1zM184.2 257.4h1v1h-1zM212.5 242.4h1v1h-1zM181.5 214.7h1v1h-1zM178.2 241.8h1v1h-1zM190.0 211.2h1v1h-1zM168.5 249.9h1v1h-1zM171.5 207.8h1v1h-1zM194.6 200.1h1v1h-1zM186.0 209.9h1v1h-1zM216.9 233.1h1v1h-1zM192.1 227.4h1v1h-1zM159.7 252.2h1v1h-1zM222.7 197.0h1v1h-1zM196.9 248.4h1v1h-1zM216.1 259.7h1v1h-1zM220.0 254.9h1v1h-1z" fill="#1a1aff" fill-opacity="0.3"/>
</g>
<ellipse cx="151.5" cy="251.0" rx="8.9" ry="7.6" fill="#1a1aff" fill-opacity="0.4" filter="url(#bl2)"/>
<ellipse cx="151.5" cy="251.0" rx="7.4" ry="6.2" fill="#0606f0" filter="url(#bl)"/>
</g>
<line x1="136.5" y1="218.7" x2="228.5" y2="218.7" stroke="#666" stroke-width="1.6"/>
<line x1="157.5" y1="192.5" x2="157.5" y2="265.5" stroke="#222" stroke-width="1.4"/>
<rect x="136.5" y="192.5" width="92.0" height="73.0" fill="none" stroke="#141414" stroke-width="1.15"/>
<line x1="133.0" y1="199.5" x2="136.5" y2="199.5" stroke="#222" stroke-width="1.2"/>
<line x1="133.0" y1="216.5" x2="136.5" y2="216.5" stroke="#222" stroke-width="1.2"/>
<line x1="133.0" y1="233.5" x2="136.5" y2="233.5" stroke="#222" stroke-width="1.2"/>
<line x1="133.0" y1="250.5" x2="136.5" y2="250.5" stroke="#222" stroke-width="1.2"/>
<line x1="134.0" y1="258.5" x2="136.5" y2="258.5" stroke="#222" stroke-width="1.2"/>
<line x1="136.5" y1="265.5" x2="136.5" y2="268.1" stroke="#222" stroke-width="1.2"/>
<line x1="146.0" y1="265.5" x2="146.0" y2="268.1" stroke="#222" stroke-width="1.2"/>
<line x1="155.8" y1="265.5" x2="155.8" y2="268.1" stroke="#222" stroke-width="1.2"/>
<line x1="178.0" y1="265.5" x2="178.0" y2="268.1" stroke="#222" stroke-width="1.2"/>
<line x1="199.2" y1="265.5" x2="199.2" y2="268.1" stroke="#222" stroke-width="1.2"/>
<line x1="219.7" y1="265.5" x2="219.7" y2="268.1" stroke="#222" stroke-width="1.2"/>
<text x="139.1" y="203.3" class="n">0</text>
<text x="160.3" y="203.3" class="n">13</text>
<text x="139.1" y="230.0" class="n">52</text>
<text x="160.5" y="230.0" class="n">35</text>
<text x="156.1" y="279.0" class="n" text-anchor="middle">2</text>
<text x="177.8" y="279.0" class="n" text-anchor="middle">3</text>
<text x="199.3" y="279.0" class="n" text-anchor="middle">4</text>
<text x="220.5" y="279.0" class="n" text-anchor="middle">5</text>
<text x="17.1" y="15" class="big">A</text>
<text x="76.6" y="20.2" class="lb">(-)</text>
<text x="169" y="20.7" class="q">rGal1</text>
<text x="233.3" y="42.3" class="lb">mAb</text>
<line x1="233" y1="45.6" x2="260.3" y2="45.6" stroke="#222" stroke-width="1.2"/>
<text x="240.7" y="63.0" class="lab">(-)</text>
<text x="231.9" y="146" class="lab"><tspan class="al">α</tspan><tspan dx="0.8" style="font-size:12px">Gal1</tspan></text>
<text x="231.6" y="224.9" class="q" style="font-size:12.3px">Isotype</text>
<text x="231.5" y="236.6" class="q">cont.</text>
<text x="91" y="294.3" class="lab" style="font-size:12.8px">Annexin V (log)</text>
<text transform="translate(10.9,164.9) rotate(-90)" class="lab">PI (log)</text>
<text x="305" y="56.6" class="big">B</text>
<rect x="368" y="61.5" width="17.6" height="9.8" fill="#d0d0d0" stroke="#333" stroke-width="1.2"/>
<text x="390.3" y="70.2" class="lab">(-)</text>
<rect x="418.3" y="61.5" width="17.6" height="9.8" fill="#1800ba" stroke="#222" stroke-width="1.2"/>
<text x="443.8" y="70.2" class="q">rGal1</text>
<rect x="348.4" y="183.5" width="18.2" height="25.3" fill="#d2d2d2" stroke="#222" stroke-width="1.1"/>
<rect x="366.59999999999997" y="131.0" width="18.2" height="77.8" fill="#1800ba" stroke="#111" stroke-width="1.1"/>
<line x1="357.5" y1="181.6" x2="357.5" y2="185.5" stroke="#222" stroke-width="1"/>
<line x1="355.5" y1="181.6" x2="359.5" y2="181.6" stroke="#222" stroke-width="1"/>
<line x1="375.7" y1="129.4" x2="375.7" y2="137.0" stroke="#111" stroke-width="1"/>
<line x1="373.7" y1="129.4" x2="377.7" y2="129.4" stroke="#111" stroke-width="1"/>
<rect x="408.9" y="180.8" width="18.2" height="28.0" fill="#d2d2d2" stroke="#222" stroke-width="1.1"/>
<rect x="427.09999999999997" y="174.0" width="18.2" height="34.8" fill="#1800ba" stroke="#111" stroke-width="1.1"/>
<line x1="418.0" y1="177.1" x2="418.0" y2="182.8" stroke="#222" stroke-width="1"/>
<line x1="416.0" y1="177.1" x2="420.0" y2="177.1" stroke="#222" stroke-width="1"/>
<line x1="436.2" y1="168.7" x2="436.2" y2="180.0" stroke="#111" stroke-width="1"/>
<line x1="434.2" y1="168.7" x2="438.2" y2="168.7" stroke="#111" stroke-width="1"/>
<rect x="468.6" y="185.2" width="18.2" height="23.6" fill="#d2d2d2" stroke="#222" stroke-width="1.1"/>
<rect x="486.8" y="93.8" width="18.2" height="115.0" fill="#1800ba" stroke="#111" stroke-width="1.1"/>
<line x1="477.70000000000005" y1="183.6" x2="477.70000000000005" y2="187.2" stroke="#222" stroke-width="1"/>
<line x1="475.70000000000005" y1="183.6" x2="479.70000000000005" y2="183.6" stroke="#222" stroke-width="1"/>
<line x1="495.90000000000003" y1="88.0" x2="495.90000000000003" y2="99.8" stroke="#111" stroke-width="1"/>
<line x1="493.90000000000003" y1="88.0" x2="497.90000000000003" y2="88.0" stroke="#111" stroke-width="1"/>
<line x1="328.0" y1="74.5" x2="328.0" y2="208.8" stroke="#444" stroke-width="1.4"/>
<line x1="328.0" y1="208.8" x2="517.8" y2="208.8" stroke="#444" stroke-width="1.4"/>
<line x1="328.0" y1="169.7" x2="332.2" y2="169.7" stroke="#333" stroke-width="1.1"/>
<text x="324.8" y="174.1" class="lab" text-anchor="end">20</text>
<line x1="328.0" y1="130.1" x2="332.2" y2="130.1" stroke="#333" stroke-width="1.1"/>
<text x="324.8" y="134.5" class="lab" text-anchor="end">40</text>
<line x1="328.0" y1="90.4" x2="332.2" y2="90.4" stroke="#333" stroke-width="1.1"/>
<text x="324.8" y="94.8" class="lab" text-anchor="end">60</text>
<text x="324.8" y="210.7" class="lab" text-anchor="end">0</text>
<text transform="translate(302.4,205.4) rotate(-90)" class="lab2">% Annexin V+ cells</text>
<text x="322.6" y="224.9" class="lb">mAb:</text>
<text x="359.2" y="224.6" class="lab">(-)</text>
<text x="408.7" y="223.0" class="lb"><tspan class="al" style="font-size:13.5px">α</tspan><tspan dx="1.1" style="font-size:12.1px">Gal1</tspan></text>
<text x="486" y="223.6" class="lb" text-anchor="middle" style="font-size:12.8px">Isotype</text>
<text x="485.4" y="236.8" class="lb" text-anchor="middle">cont.</text>
</svg>
</body></html>
